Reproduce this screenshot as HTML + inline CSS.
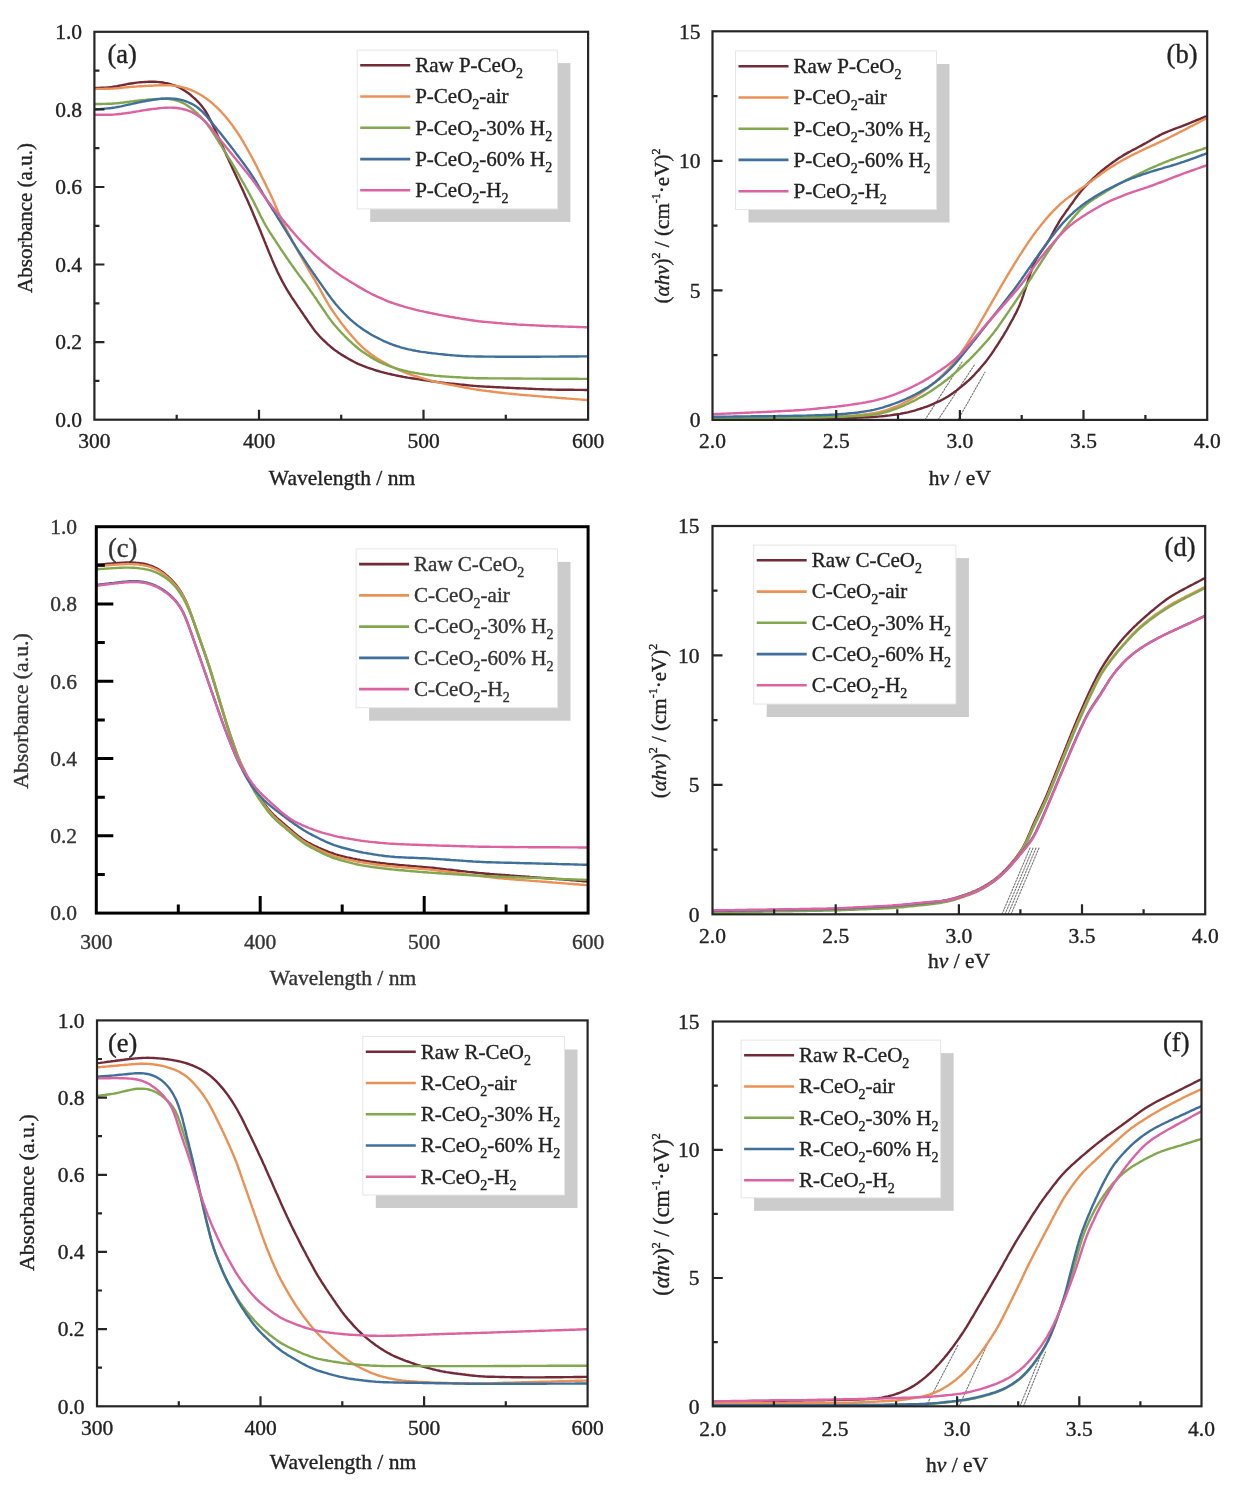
<!DOCTYPE html><html><head><meta charset="utf-8"><style>html,body{margin:0;padding:0;background:#fff;}svg{display:block;filter:blur(0.4px);}</style></head><body>
<svg width="1236" height="1488" viewBox="0 0 1236 1488" font-family='"Liberation Serif", serif'>
<style>text{stroke:currentColor;stroke-width:0.35px;}</style>
<rect width="1236" height="1488" fill="#fff"/>
<clipPath id="clipa"><rect x="94.4" y="31.8" width="493.7" height="387.9"/></clipPath>
<g clip-path="url(#clipa)" fill="none" stroke-width="2.4" stroke-linejoin="round" stroke-linecap="round">
<path d="M95.5,88.0L97.5,87.9L99.5,87.9L101.5,87.8L103.5,87.7L105.5,87.6L107.5,87.4L109.5,87.3L111.4,87.1L113.4,86.8L115.4,86.5L117.3,86.2L119.3,85.8L121.3,85.4L123.2,85.0L125.2,84.6L127.1,84.2L129.1,83.8L131.0,83.5L133.0,83.2L135.0,82.9L137.0,82.6L138.9,82.4L140.9,82.2L142.9,82.1L144.9,82.0L146.9,81.9L148.9,81.8L150.9,81.8L152.9,81.8L154.9,81.8L156.8,81.9L158.8,82.1L160.8,82.3L162.8,82.5L164.7,82.9L166.7,83.2L168.6,83.7L170.5,84.2L172.4,84.8L174.3,85.4L176.1,86.2L177.9,86.9L179.7,87.8L181.4,88.7L183.1,89.7L184.8,90.8L186.5,91.9L188.1,93.0L189.7,94.2L191.2,95.5L192.7,96.8L194.2,98.1L195.7,99.5L197.1,100.9L198.5,102.3L199.8,103.8L201.1,105.3L202.3,106.8L203.5,108.4L204.7,110.0L205.8,111.6L206.8,113.3L207.8,115.0L208.7,116.8L209.6,118.5L210.5,120.3L211.4,122.1L212.3,123.9L213.1,125.7L214.0,127.6L214.8,129.4L215.6,131.2L216.5,133.0L217.3,134.8L218.1,136.7L218.9,138.5L219.8,140.3L220.6,142.1L221.4,143.9L222.3,145.8L223.1,147.6L223.9,149.4L224.7,151.2L225.6,153.1L226.4,154.9L227.2,156.7L228.1,158.5L228.9,160.3L229.7,162.2L230.6,164.0L231.4,165.8L232.2,167.6L233.1,169.4L233.9,171.2L234.8,173.1L235.6,174.9L236.5,176.7L237.3,178.5L238.2,180.3L239.0,182.1L239.9,183.9L240.7,185.7L241.6,187.6L242.4,189.4L243.3,191.2L244.1,193.0L244.9,194.8L245.7,196.7L246.6,198.5L247.4,200.3L248.2,202.1L249.0,204.0L249.8,205.8L250.6,207.6L251.4,209.5L252.2,211.3L253.0,213.2L253.7,215.0L254.5,216.8L255.3,218.7L256.1,220.5L256.8,222.4L257.6,224.2L258.4,226.1L259.2,227.9L259.9,229.8L260.7,231.6L261.4,233.5L262.2,235.3L262.9,237.2L263.7,239.0L264.4,240.9L265.2,242.8L265.9,244.6L266.7,246.5L267.4,248.3L268.2,250.2L268.9,252.0L269.7,253.9L270.5,255.7L271.3,257.6L272.0,259.4L272.8,261.2L273.6,263.1L274.4,264.9L275.2,266.7L276.1,268.6L276.9,270.4L277.7,272.2L278.6,274.0L279.5,275.8L280.4,277.6L281.3,279.4L282.2,281.1L283.2,282.9L284.1,284.6L285.1,286.4L286.1,288.1L287.1,289.8L288.2,291.6L289.2,293.3L290.3,294.9L291.3,296.6L292.4,298.3L293.6,300.0L294.7,301.6L295.8,303.3L296.9,304.9L298.0,306.6L299.2,308.2L300.3,309.9L301.4,311.5L302.6,313.2L303.7,314.9L304.8,316.5L306.0,318.2L307.1,319.8L308.2,321.5L309.4,323.1L310.5,324.7L311.7,326.4L312.8,328.0L314.0,329.6L315.2,331.2L316.5,332.7L317.8,334.2L319.1,335.7L320.5,337.2L321.8,338.6L323.2,340.0L324.7,341.4L326.1,342.7L327.6,344.1L329.1,345.4L330.6,346.7L332.2,348.0L333.7,349.2L335.3,350.4L337.0,351.5L338.6,352.7L340.3,353.8L341.9,354.9L343.6,355.9L345.3,356.9L347.1,358.0L348.8,359.0L350.5,359.9L352.3,360.9L354.0,361.8L355.8,362.7L357.6,363.6L359.4,364.4L361.3,365.1L363.1,365.9L365.0,366.6L366.9,367.3L368.7,368.0L370.6,368.6L372.5,369.2L374.4,369.9L376.3,370.5L378.3,371.0L380.2,371.6L382.1,372.1L384.0,372.6L386.0,373.1L387.9,373.6L389.9,374.0L391.8,374.5L393.8,374.9L395.7,375.3L397.7,375.7L399.6,376.1L401.6,376.5L403.6,376.9L405.5,377.2L407.5,377.6L409.5,377.9L411.5,378.2L413.4,378.5L415.4,378.8L417.4,379.1L419.4,379.4L421.4,379.7L423.3,380.0L425.3,380.3L427.3,380.6L429.3,380.9L431.3,381.2L433.2,381.4L435.2,381.7L437.2,382.0L439.2,382.2L441.2,382.5L443.2,382.7L445.1,383.0L447.1,383.2L449.1,383.4L451.1,383.6L453.1,383.8L455.1,384.0L457.1,384.2L459.1,384.4L461.1,384.6L463.1,384.8L465.1,385.0L467.0,385.2L469.0,385.4L471.0,385.6L473.0,385.8L475.0,385.9L477.0,386.1L479.0,386.2L481.0,386.4L483.0,386.5L485.0,386.6L487.0,386.7L489.0,386.8L491.0,386.9L493.0,387.0L495.0,387.1L497.0,387.2L499.0,387.3L501.0,387.4L503.0,387.5L505.0,387.6L507.0,387.7L509.0,387.8L511.0,387.9L513.0,388.0L515.0,388.1L517.0,388.2L519.0,388.3L521.0,388.4L523.0,388.4L525.0,388.5L527.0,388.6L529.0,388.7L531.0,388.8L533.0,388.9L535.0,389.0L537.0,389.1L539.0,389.1L541.0,389.2L543.0,389.3L545.0,389.4L547.0,389.4L549.0,389.5L551.0,389.5L553.0,389.6L555.0,389.6L557.0,389.7L559.0,389.7L561.0,389.7L563.0,389.7L565.0,389.8L567.0,389.8L569.0,389.8L571.0,389.8L573.0,389.8L575.0,389.9L577.0,389.9L579.0,389.9L581.0,389.9L583.0,389.9L585.0,390.0L587.0,390.0L588.0,390.0" stroke="#722a36"/>
<path d="M95.5,88.9L97.5,88.9L99.5,88.9L101.5,88.9L103.5,88.9L105.5,88.8L107.5,88.8L109.5,88.7L111.5,88.6L113.5,88.5L115.5,88.4L117.5,88.2L119.5,88.0L121.5,87.8L123.5,87.6L125.5,87.4L127.4,87.2L129.4,87.1L131.4,86.9L133.4,86.7L135.4,86.6L137.4,86.4L139.4,86.3L141.4,86.2L143.4,86.1L145.4,86.0L147.4,85.9L149.4,85.8L151.4,85.7L153.4,85.6L155.4,85.5L157.4,85.4L159.4,85.3L161.4,85.3L163.4,85.2L165.4,85.2L167.4,85.2L169.4,85.3L171.4,85.4L173.3,85.6L175.3,85.8L177.3,86.1L179.2,86.5L181.1,86.9L183.1,87.4L185.0,88.0L186.9,88.5L188.8,89.2L190.6,89.9L192.5,90.7L194.3,91.5L196.1,92.3L197.8,93.2L199.6,94.2L201.3,95.2L203.0,96.3L204.6,97.4L206.3,98.5L207.9,99.7L209.4,100.9L211.0,102.2L212.5,103.4L214.0,104.8L215.5,106.1L216.9,107.5L218.4,108.9L219.8,110.3L221.2,111.7L222.5,113.2L223.9,114.7L225.2,116.2L226.4,117.7L227.7,119.3L228.9,120.8L230.2,122.4L231.4,124.0L232.6,125.6L233.7,127.2L234.9,128.9L236.0,130.5L237.2,132.1L238.3,133.8L239.3,135.5L240.4,137.2L241.4,138.9L242.5,140.6L243.5,142.3L244.5,144.1L245.5,145.8L246.5,147.5L247.5,149.3L248.5,151.0L249.4,152.8L250.4,154.5L251.4,156.3L252.3,158.0L253.3,159.8L254.2,161.6L255.1,163.4L256.0,165.1L256.9,166.9L257.8,168.7L258.7,170.5L259.6,172.3L260.5,174.1L261.4,175.9L262.3,177.7L263.2,179.5L264.1,181.3L265.0,183.1L265.9,184.9L266.7,186.7L267.6,188.5L268.5,190.3L269.4,192.1L270.2,193.9L271.1,195.7L271.9,197.5L272.7,199.3L273.6,201.2L274.4,203.0L275.1,204.8L275.9,206.7L276.7,208.5L277.5,210.4L278.3,212.2L279.1,214.0L279.9,215.9L280.7,217.7L281.5,219.5L282.3,221.3L283.2,223.1L284.1,224.9L285.0,226.7L285.9,228.5L286.8,230.3L287.7,232.1L288.6,233.9L289.5,235.6L290.5,237.4L291.4,239.2L292.4,241.0L293.3,242.7L294.3,244.5L295.2,246.2L296.2,248.0L297.1,249.7L298.1,251.5L299.1,253.2L300.1,255.0L301.1,256.7L302.1,258.5L303.1,260.2L304.1,261.9L305.1,263.7L306.1,265.4L307.1,267.1L308.1,268.9L309.1,270.6L310.1,272.3L311.2,274.0L312.2,275.8L313.2,277.5L314.2,279.2L315.2,280.9L316.2,282.7L317.2,284.4L318.2,286.1L319.2,287.9L320.2,289.6L321.1,291.4L322.1,293.2L323.0,294.9L324.0,296.7L325.0,298.4L326.0,300.1L327.0,301.9L328.0,303.6L329.0,305.3L330.1,307.0L331.2,308.7L332.3,310.3L333.4,312.0L334.6,313.6L335.7,315.3L336.9,316.9L338.1,318.5L339.2,320.1L340.4,321.8L341.6,323.4L342.8,325.0L344.0,326.5L345.3,328.1L346.5,329.7L347.8,331.2L349.0,332.8L350.3,334.3L351.6,335.8L353.0,337.3L354.3,338.8L355.6,340.3L357.0,341.8L358.4,343.2L359.8,344.6L361.2,346.0L362.6,347.4L364.1,348.7L365.6,350.0L367.2,351.3L368.8,352.5L370.3,353.7L372.0,354.9L373.6,356.0L375.2,357.2L376.9,358.3L378.6,359.3L380.3,360.4L382.0,361.4L383.7,362.4L385.5,363.3L387.3,364.3L389.0,365.2L390.8,366.1L392.6,367.0L394.4,367.9L396.2,368.7L398.0,369.5L399.9,370.3L401.7,371.1L403.6,371.9L405.4,372.6L407.3,373.3L409.2,374.0L411.1,374.6L413.0,375.3L414.9,375.9L416.8,376.5L418.7,377.1L420.6,377.7L422.5,378.2L424.4,378.8L426.4,379.3L428.3,379.8L430.2,380.3L432.2,380.8L434.1,381.3L436.1,381.8L438.0,382.2L440.0,382.6L441.9,383.1L443.9,383.5L445.9,383.9L447.8,384.3L449.8,384.7L451.7,385.0L453.7,385.4L455.7,385.8L457.6,386.2L459.6,386.6L461.6,386.9L463.5,387.3L465.5,387.7L467.5,388.0L469.5,388.4L471.4,388.8L473.4,389.1L475.4,389.4L477.4,389.7L479.3,390.0L481.3,390.3L483.3,390.6L485.3,390.8L487.3,391.1L489.3,391.3L491.2,391.5L493.2,391.8L495.2,392.0L497.2,392.3L499.2,392.5L501.2,392.7L503.2,392.9L505.2,393.2L507.2,393.4L509.2,393.6L511.1,393.8L513.1,394.0L515.1,394.2L517.1,394.4L519.1,394.6L521.1,394.8L523.1,394.9L525.1,395.1L527.1,395.3L529.1,395.4L531.1,395.6L533.1,395.8L535.1,395.9L537.1,396.1L539.1,396.3L541.1,396.4L543.1,396.6L545.1,396.8L547.1,396.9L549.1,397.1L551.1,397.2L553.1,397.4L555.1,397.5L557.0,397.7L559.0,397.9L561.0,398.0L563.0,398.2L565.0,398.3L567.0,398.5L569.0,398.6L571.0,398.8L573.0,398.9L575.0,399.1L577.0,399.3L579.0,399.4L581.0,399.6L583.0,399.7L585.0,399.9L587.0,400.0L588.0,400.1" stroke="#ea9256"/>
<path d="M95.5,104.0L97.5,104.0L99.5,104.0L101.5,104.0L103.5,103.9L105.5,103.9L107.5,103.8L109.5,103.8L111.5,103.7L113.5,103.5L115.5,103.4L117.4,103.2L119.4,103.0L121.4,102.7L123.4,102.5L125.4,102.2L127.4,101.9L129.3,101.7L131.3,101.4L133.3,101.2L135.3,100.9L137.3,100.7L139.3,100.5L141.3,100.3L143.3,100.1L145.2,99.9L147.2,99.7L149.2,99.5L151.2,99.4L153.2,99.2L155.2,99.1L157.2,99.0L159.2,98.9L161.2,98.8L163.2,98.8L165.2,98.8L167.1,98.9L169.1,99.1L171.1,99.3L173.0,99.6L174.9,100.0L176.8,100.5L178.6,101.1L180.4,101.8L182.2,102.6L184.0,103.5L185.7,104.5L187.3,105.5L189.0,106.7L190.6,107.8L192.1,109.0L193.7,110.3L195.2,111.6L196.7,112.9L198.1,114.3L199.6,115.7L201.0,117.1L202.3,118.5L203.7,120.0L205.0,121.5L206.2,123.1L207.4,124.6L208.6,126.2L209.8,127.9L210.9,129.5L212.0,131.2L213.1,132.8L214.2,134.5L215.3,136.2L216.3,137.9L217.4,139.6L218.4,141.3L219.5,143.0L220.6,144.7L221.6,146.4L222.7,148.1L223.7,149.8L224.8,151.5L225.8,153.2L226.9,154.9L227.9,156.6L229.0,158.3L230.0,160.0L231.1,161.7L232.1,163.4L233.1,165.1L234.2,166.9L235.2,168.6L236.2,170.3L237.2,172.1L238.2,173.8L239.2,175.5L240.1,177.3L241.1,179.0L242.1,180.8L243.1,182.5L244.1,184.2L245.1,186.0L246.0,187.7L247.0,189.5L248.0,191.2L248.9,193.0L249.9,194.7L250.8,196.5L251.8,198.3L252.7,200.0L253.6,201.8L254.5,203.6L255.4,205.4L256.3,207.2L257.2,209.0L258.1,210.8L259.0,212.6L259.9,214.4L260.7,216.2L261.6,217.9L262.6,219.7L263.5,221.5L264.5,223.2L265.4,225.0L266.4,226.7L267.5,228.4L268.5,230.1L269.6,231.8L270.6,233.5L271.7,235.2L272.8,236.9L273.9,238.5L275.0,240.2L276.1,241.9L277.2,243.6L278.3,245.2L279.4,246.9L280.5,248.6L281.6,250.2L282.7,251.9L283.9,253.5L285.0,255.2L286.1,256.8L287.2,258.5L288.4,260.1L289.5,261.8L290.7,263.4L291.8,265.1L293.0,266.7L294.1,268.3L295.3,270.0L296.5,271.6L297.7,273.2L298.8,274.8L300.0,276.4L301.2,278.0L302.4,279.6L303.6,281.2L304.8,282.8L306.0,284.4L307.2,286.1L308.3,287.7L309.5,289.3L310.6,291.0L311.8,292.6L312.9,294.2L314.0,295.9L315.2,297.5L316.3,299.2L317.4,300.9L318.5,302.5L319.7,304.2L320.8,305.8L321.9,307.5L323.0,309.1L324.2,310.8L325.3,312.4L326.4,314.1L327.6,315.7L328.7,317.4L329.9,319.0L331.1,320.6L332.3,322.2L333.5,323.7L334.8,325.3L336.1,326.8L337.4,328.3L338.7,329.8L340.1,331.2L341.4,332.7L342.8,334.1L344.2,335.5L345.6,337.0L347.1,338.4L348.5,339.8L349.9,341.2L351.4,342.5L352.8,343.9L354.3,345.2L355.8,346.5L357.4,347.8L358.9,349.0L360.5,350.2L362.2,351.4L363.8,352.5L365.4,353.6L367.1,354.7L368.8,355.8L370.5,356.9L372.2,357.9L373.9,358.9L375.6,359.9L377.4,360.9L379.1,361.8L380.9,362.6L382.7,363.5L384.6,364.2L386.4,365.0L388.3,365.7L390.1,366.4L392.0,367.1L393.9,367.7L395.8,368.3L397.7,368.9L399.6,369.5L401.6,370.0L403.5,370.5L405.4,370.9L407.4,371.4L409.3,371.8L411.3,372.2L413.2,372.5L415.2,372.9L417.2,373.2L419.2,373.6L421.1,373.9L423.1,374.2L425.1,374.5L427.1,374.7L429.1,375.0L431.0,375.2L433.0,375.4L435.0,375.7L437.0,375.9L439.0,376.0L441.0,376.2L443.0,376.4L445.0,376.5L447.0,376.6L449.0,376.8L451.0,376.9L453.0,377.0L455.0,377.1L457.0,377.2L459.0,377.3L461.0,377.4L463.0,377.6L465.0,377.7L467.0,377.8L469.0,377.9L471.0,377.9L473.0,378.0L474.9,378.1L476.9,378.2L478.9,378.2L480.9,378.3L482.9,378.3L484.9,378.3L487.0,378.3L489.0,378.4L491.0,378.4L493.0,378.4L495.0,378.4L497.0,378.4L499.0,378.4L501.0,378.4L503.0,378.4L505.0,378.5L507.0,378.5L509.0,378.5L511.0,378.5L513.0,378.5L515.0,378.5L517.0,378.5L519.0,378.5L521.0,378.5L523.0,378.6L525.0,378.6L527.0,378.6L529.0,378.6L531.0,378.6L533.0,378.6L535.0,378.6L537.0,378.6L539.0,378.6L541.0,378.6L543.0,378.7L545.0,378.7L547.0,378.7L549.0,378.7L551.0,378.7L553.0,378.7L555.0,378.7L557.0,378.7L559.0,378.7L561.0,378.8L563.0,378.8L565.0,378.8L567.0,378.8L569.0,378.8L571.0,378.8L573.0,378.8L575.0,378.8L577.0,378.8L579.0,378.9L581.0,378.9L583.0,378.9L585.0,378.9L587.0,378.9L588.0,378.9" stroke="#82a84e"/>
<path d="M95.5,109.3L97.5,109.2L99.5,109.1L101.5,108.9L103.5,108.8L105.5,108.6L107.5,108.4L109.4,108.2L111.4,108.0L113.4,107.7L115.4,107.4L117.3,107.0L119.3,106.7L121.2,106.3L123.2,105.8L125.1,105.4L127.1,104.9L129.0,104.5L131.0,104.1L132.9,103.6L134.9,103.2L136.8,102.8L138.8,102.4L140.8,102.0L142.7,101.6L144.7,101.2L146.6,100.8L148.6,100.5L150.6,100.2L152.6,99.9L154.5,99.6L156.5,99.3L158.5,99.1L160.5,98.9L162.5,98.7L164.5,98.6L166.4,98.5L168.4,98.5L170.4,98.5L172.4,98.6L174.3,98.7L176.3,99.0L178.3,99.3L180.2,99.7L182.1,100.1L184.0,100.7L185.9,101.3L187.7,102.0L189.5,102.8L191.3,103.6L193.0,104.5L194.7,105.6L196.3,106.6L197.9,107.8L199.4,109.0L200.9,110.3L202.3,111.7L203.7,113.1L205.1,114.6L206.4,116.0L207.7,117.6L208.9,119.1L210.2,120.6L211.5,122.2L212.7,123.7L214.0,125.3L215.2,126.9L216.5,128.4L217.7,130.0L219.0,131.5L220.3,133.1L221.5,134.6L222.8,136.2L224.0,137.8L225.2,139.3L226.5,140.9L227.7,142.5L228.9,144.1L230.2,145.7L231.4,147.3L232.6,148.8L233.8,150.4L235.0,152.0L236.2,153.6L237.4,155.2L238.6,156.8L239.8,158.4L241.0,160.0L242.2,161.6L243.4,163.2L244.6,164.8L245.8,166.5L247.0,168.1L248.1,169.7L249.3,171.3L250.4,173.0L251.5,174.6L252.6,176.3L253.7,178.0L254.7,179.7L255.8,181.4L256.8,183.1L257.8,184.8L258.8,186.6L259.8,188.3L260.8,190.0L261.8,191.7L262.8,193.5L263.8,195.2L264.9,196.9L265.9,198.6L266.9,200.4L268.0,202.1L269.0,203.8L270.1,205.4L271.2,207.1L272.2,208.8L273.3,210.5L274.4,212.2L275.5,213.9L276.6,215.6L277.6,217.3L278.7,219.0L279.7,220.6L280.8,222.3L281.8,224.1L282.9,225.8L283.9,227.5L285.0,229.2L286.0,230.9L287.0,232.6L288.1,234.3L289.1,236.0L290.2,237.7L291.2,239.4L292.2,241.1L293.3,242.8L294.4,244.5L295.4,246.2L296.5,247.9L297.6,249.6L298.7,251.3L299.8,253.0L300.9,254.6L302.0,256.3L303.1,258.0L304.2,259.6L305.3,261.3L306.4,263.0L307.5,264.6L308.6,266.3L309.7,267.9L310.9,269.6L312.0,271.2L313.1,272.9L314.3,274.5L315.4,276.2L316.6,277.8L317.7,279.5L318.9,281.1L320.0,282.7L321.2,284.4L322.3,286.0L323.5,287.6L324.6,289.3L325.8,290.9L326.9,292.5L328.1,294.2L329.3,295.8L330.5,297.4L331.7,299.0L332.9,300.6L334.1,302.1L335.4,303.7L336.7,305.2L338.0,306.7L339.3,308.2L340.7,309.7L342.0,311.1L343.4,312.6L344.8,314.0L346.2,315.4L347.6,316.8L349.0,318.2L350.5,319.6L352.0,320.9L353.5,322.2L355.1,323.4L356.6,324.7L358.2,325.9L359.8,327.1L361.4,328.2L363.1,329.4L364.7,330.5L366.4,331.6L368.1,332.6L369.8,333.7L371.5,334.7L373.3,335.7L375.0,336.6L376.8,337.5L378.5,338.4L380.3,339.3L382.1,340.2L383.9,341.1L385.7,341.9L387.6,342.7L389.4,343.5L391.3,344.2L393.1,344.9L395.0,345.5L396.9,346.1L398.8,346.7L400.7,347.3L402.7,347.8L404.6,348.3L406.5,348.8L408.5,349.3L410.4,349.7L412.4,350.2L414.3,350.5L416.3,350.9L418.2,351.2L420.2,351.6L422.2,351.9L424.2,352.1L426.2,352.4L428.1,352.7L430.1,352.9L432.1,353.2L434.1,353.4L436.1,353.6L438.1,353.9L440.1,354.1L442.0,354.3L444.0,354.5L446.0,354.7L448.0,354.9L450.0,355.1L452.0,355.3L454.0,355.4L456.0,355.6L458.0,355.7L460.0,355.9L462.0,356.0L464.0,356.1L466.0,356.2L468.0,356.3L470.0,356.4L472.0,356.4L474.0,356.4L476.0,356.5L478.0,356.5L480.0,356.5L482.0,356.5L484.0,356.6L486.0,356.6L488.0,356.6L490.0,356.6L492.0,356.6L494.0,356.6L496.0,356.7L498.0,356.7L500.0,356.7L502.0,356.7L504.0,356.7L506.0,356.7L508.0,356.7L510.0,356.8L512.0,356.8L514.0,356.8L516.0,356.8L518.0,356.8L520.0,356.8L522.0,356.7L524.0,356.7L526.0,356.7L528.0,356.7L530.0,356.7L532.0,356.7L534.0,356.7L536.0,356.7L538.0,356.7L540.0,356.7L542.0,356.6L544.0,356.6L546.0,356.6L548.0,356.6L550.0,356.6L552.0,356.6L554.0,356.6L556.0,356.6L558.0,356.6L560.0,356.5L562.0,356.5L564.0,356.5L566.0,356.5L568.0,356.5L570.0,356.5L572.0,356.5L574.0,356.5L576.0,356.5L578.0,356.5L580.0,356.4L582.0,356.4L584.0,356.4L586.0,356.4L588.0,356.4" stroke="#3e709b"/>
<path d="M95.5,114.7L97.5,114.7L99.5,114.8L101.5,114.8L103.5,114.8L105.5,114.8L107.5,114.8L109.5,114.7L111.5,114.7L113.5,114.6L115.5,114.4L117.4,114.2L119.4,114.0L121.4,113.8L123.4,113.5L125.4,113.3L127.4,113.0L129.3,112.7L131.3,112.4L133.3,112.0L135.3,111.7L137.2,111.4L139.2,111.1L141.2,110.7L143.2,110.4L145.1,110.1L147.1,109.8L149.1,109.5L151.1,109.2L153.0,108.9L155.0,108.7L157.0,108.5L159.0,108.2L161.0,108.1L163.0,107.9L165.0,107.8L167.0,107.7L168.9,107.6L170.9,107.6L172.9,107.7L174.9,107.8L176.9,108.0L178.8,108.2L180.8,108.6L182.7,109.0L184.6,109.5L186.5,110.0L188.3,110.7L190.2,111.4L192.0,112.2L193.7,113.1L195.4,114.0L197.1,115.1L198.7,116.2L200.3,117.4L201.9,118.6L203.3,119.9L204.8,121.2L206.2,122.6L207.5,124.1L208.9,125.6L210.1,127.1L211.4,128.6L212.7,130.2L213.9,131.8L215.1,133.3L216.4,134.9L217.6,136.5L218.9,138.0L220.1,139.6L221.4,141.2L222.6,142.7L223.9,144.3L225.1,145.8L226.4,147.4L227.6,148.9L228.9,150.5L230.1,152.1L231.4,153.6L232.7,155.2L233.9,156.7L235.2,158.3L236.4,159.8L237.7,161.4L239.0,162.9L240.2,164.5L241.5,166.0L242.8,167.6L244.1,169.1L245.3,170.7L246.6,172.2L247.8,173.8L249.1,175.4L250.3,176.9L251.5,178.5L252.7,180.1L253.9,181.7L255.1,183.3L256.2,185.0L257.4,186.6L258.5,188.3L259.7,189.9L260.8,191.5L262.0,193.2L263.1,194.8L264.3,196.4L265.4,198.1L266.6,199.7L267.8,201.3L269.0,202.9L270.3,204.4L271.5,206.0L272.7,207.6L274.0,209.1L275.3,210.7L276.5,212.2L277.8,213.8L279.1,215.3L280.3,216.9L281.6,218.4L282.9,220.0L284.1,221.5L285.4,223.1L286.7,224.6L288.0,226.1L289.3,227.7L290.5,229.2L291.8,230.7L293.1,232.3L294.4,233.8L295.7,235.3L297.1,236.8L298.4,238.3L299.8,239.7L301.1,241.2L302.5,242.7L303.9,244.1L305.3,245.5L306.7,246.9L308.1,248.4L309.5,249.8L310.9,251.2L312.4,252.6L313.8,254.0L315.3,255.3L316.7,256.7L318.2,258.0L319.7,259.4L321.2,260.7L322.8,262.0L324.3,263.2L325.8,264.5L327.4,265.8L329.0,267.0L330.5,268.2L332.1,269.4L333.7,270.6L335.3,271.8L337.0,273.0L338.6,274.1L340.2,275.3L341.9,276.4L343.6,277.5L345.3,278.5L347.0,279.6L348.7,280.7L350.4,281.7L352.1,282.8L353.8,283.8L355.5,284.8L357.2,285.9L358.9,286.9L360.6,287.9L362.4,288.9L364.1,289.9L365.8,290.9L367.6,291.8L369.4,292.8L371.1,293.7L372.9,294.6L374.7,295.4L376.5,296.3L378.4,297.1L380.2,297.9L382.0,298.7L383.8,299.5L385.7,300.3L387.5,301.1L389.4,301.8L391.3,302.5L393.1,303.2L395.0,303.8L396.9,304.4L398.8,305.0L400.7,305.6L402.7,306.2L404.6,306.8L406.5,307.3L408.4,307.9L410.4,308.4L412.3,308.9L414.2,309.4L416.2,309.9L418.1,310.3L420.1,310.8L422.0,311.2L424.0,311.7L425.9,312.1L427.9,312.5L429.8,312.9L431.8,313.3L433.8,313.7L435.7,314.1L437.7,314.5L439.6,314.9L441.6,315.3L443.6,315.6L445.5,316.0L447.5,316.3L449.5,316.7L451.5,317.0L453.4,317.3L455.4,317.7L457.4,318.0L459.4,318.3L461.3,318.7L463.3,319.0L465.3,319.3L467.3,319.6L469.2,319.9L471.2,320.2L473.2,320.5L475.2,320.8L477.2,321.0L479.1,321.3L481.1,321.5L483.1,321.7L485.1,321.9L487.1,322.1L489.1,322.3L491.1,322.4L493.1,322.6L495.1,322.8L497.1,323.0L499.1,323.1L501.1,323.3L503.0,323.5L505.0,323.6L507.0,323.8L509.0,323.9L511.0,324.1L513.0,324.2L515.0,324.3L517.0,324.5L519.0,324.6L521.0,324.7L523.0,324.8L525.0,324.9L527.0,325.0L529.0,325.1L531.0,325.2L533.0,325.3L535.0,325.4L537.0,325.5L539.0,325.6L541.0,325.7L543.0,325.8L545.0,325.9L547.0,326.0L549.0,326.0L551.0,326.1L553.0,326.2L555.0,326.3L557.0,326.3L559.0,326.4L561.0,326.5L563.0,326.5L565.0,326.6L567.0,326.6L569.0,326.7L571.0,326.8L573.0,326.8L575.0,326.9L577.0,327.0L579.0,327.0L581.0,327.1L583.0,327.1L585.0,327.2L587.0,327.3L588.0,327.3" stroke="#dc62a1"/>
</g>
<rect x="94.4" y="31.8" width="493.7" height="387.9" fill="none" stroke="#262626" stroke-width="2.2"/>
<path d="M259.0,419.7v-10.0 M423.5,419.7v-10.0 M176.7,419.7v-5.0 M341.2,419.7v-5.0 M505.8,419.7v-5.0 M94.4,342.1h10.0 M94.4,264.5h10.0 M94.4,187.0h10.0 M94.4,109.4h10.0 M94.4,380.9h5.0 M94.4,303.3h5.0 M94.4,225.8h5.0 M94.4,148.2h5.0 M94.4,70.6h5.0" stroke="#262626" stroke-width="2.2" fill="none"/>
<text x="94.4" y="448.3" font-size="21.5" text-anchor="middle" fill="#222" color="#222" >300</text>
<text x="259.0" y="448.3" font-size="21.5" text-anchor="middle" fill="#222" color="#222" >400</text>
<text x="423.5" y="448.3" font-size="21.5" text-anchor="middle" fill="#222" color="#222" >500</text>
<text x="588.1" y="448.3" font-size="21.5" text-anchor="middle" fill="#222" color="#222" >600</text>
<text x="82.0" y="426.9" font-size="21.5" text-anchor="end" fill="#222" color="#222" >0.0</text>
<text x="82.0" y="349.3" font-size="21.5" text-anchor="end" fill="#222" color="#222" >0.2</text>
<text x="82.0" y="271.7" font-size="21.5" text-anchor="end" fill="#222" color="#222" >0.4</text>
<text x="82.0" y="194.2" font-size="21.5" text-anchor="end" fill="#222" color="#222" >0.6</text>
<text x="82.0" y="116.6" font-size="21.5" text-anchor="end" fill="#222" color="#222" >0.8</text>
<text x="82.0" y="39.0" font-size="21.5" text-anchor="end" fill="#222" color="#222" >1.0</text>
<text x="342.0" y="485.0" font-size="21.5" text-anchor="middle" fill="#222" color="#222">Wavelength / nm</text>
<text transform="translate(31.5,218.0) rotate(-90)" x="0" y="0" font-size="21" text-anchor="middle" fill="#222" color="#222">Absorbance (a.u.)</text>
<text x="107.5" y="63.0" font-size="26.5" text-anchor="start" fill="#222" color="#222" >(a)</text>
<rect x="370.2" y="63.1" width="200.2" height="158.8" fill="#cccccc"/>
<rect x="357.2" y="50.1" width="200.2" height="158.8" fill="#fff" stroke="#e6e6e6" stroke-width="1"/>
<line x1="360.2" y1="65.3" x2="410.2" y2="65.3" stroke="#722a36" stroke-width="2.6"/>
<text x="415.2" y="72.1" font-size="21" text-anchor="start" fill="#222" color="#222" >Raw P-CeO<tspan font-size="14" dy="6">2</tspan><tspan dy="-6">​</tspan></text>
<line x1="360.2" y1="96.5" x2="410.2" y2="96.5" stroke="#ea9256" stroke-width="2.6"/>
<text x="415.2" y="103.3" font-size="21" text-anchor="start" fill="#222" color="#222" >P-CeO<tspan font-size="14" dy="6">2</tspan><tspan dy="-6">​</tspan>-air</text>
<line x1="360.2" y1="127.8" x2="410.2" y2="127.8" stroke="#82a84e" stroke-width="2.6"/>
<text x="415.2" y="134.6" font-size="21" text-anchor="start" fill="#222" color="#222" >P-CeO<tspan font-size="14" dy="6">2</tspan><tspan dy="-6">​</tspan>-30% H<tspan font-size="14" dy="6">2</tspan><tspan dy="-6">​</tspan></text>
<line x1="360.2" y1="159.1" x2="410.2" y2="159.1" stroke="#3e709b" stroke-width="2.6"/>
<text x="415.2" y="165.9" font-size="21" text-anchor="start" fill="#222" color="#222" >P-CeO<tspan font-size="14" dy="6">2</tspan><tspan dy="-6">​</tspan>-60% H<tspan font-size="14" dy="6">2</tspan><tspan dy="-6">​</tspan></text>
<line x1="360.2" y1="190.3" x2="410.2" y2="190.3" stroke="#dc62a1" stroke-width="2.6"/>
<text x="415.2" y="197.1" font-size="21" text-anchor="start" fill="#222" color="#222" >P-CeO<tspan font-size="14" dy="6">2</tspan><tspan dy="-6">​</tspan>-H<tspan font-size="14" dy="6">2</tspan><tspan dy="-6">​</tspan></text>
<clipPath id="clipb"><rect x="712.5" y="31.3" width="494.7" height="388.6"/></clipPath>
<g clip-path="url(#clipb)" fill="none" stroke-width="2.4" stroke-linejoin="round" stroke-linecap="round">
<line x1="925.0" y1="419.9" x2="962.0" y2="362.0" stroke="#777" stroke-width="1.1" stroke-dasharray="1.6,1.6"/>
<line x1="938.0" y1="419.9" x2="975.0" y2="364.0" stroke="#777" stroke-width="1.1" stroke-dasharray="1.6,1.6"/>
<line x1="958.0" y1="419.9" x2="985.0" y2="372.0" stroke="#777" stroke-width="1.1" stroke-dasharray="1.6,1.6"/>
<path d="M712.0,418.8L714.0,418.8L716.0,418.8L718.0,418.8L720.0,418.8L722.0,418.8L724.0,418.8L726.0,418.8L728.0,418.8L730.0,418.8L732.0,418.8L734.0,418.7L736.0,418.7L738.0,418.7L740.0,418.7L742.0,418.7L744.0,418.7L746.0,418.7L748.0,418.7L750.0,418.7L752.0,418.7L754.0,418.7L756.0,418.7L758.0,418.7L760.0,418.7L762.0,418.7L764.0,418.7L766.0,418.7L768.0,418.7L770.0,418.7L772.0,418.7L774.0,418.7L776.0,418.7L778.0,418.6L780.0,418.6L782.0,418.6L784.0,418.6L786.0,418.6L788.0,418.6L790.0,418.6L792.0,418.6L794.0,418.6L796.0,418.6L798.0,418.6L800.0,418.6L802.0,418.6L804.0,418.5L806.0,418.5L808.0,418.5L810.0,418.5L812.0,418.5L814.0,418.4L816.0,418.4L818.0,418.4L820.0,418.4L822.0,418.3L824.0,418.3L826.0,418.3L828.0,418.3L830.0,418.2L832.0,418.2L834.0,418.2L836.0,418.2L838.0,418.1L840.0,418.1L842.0,418.1L844.0,418.0L846.0,418.0L848.0,418.0L850.0,417.9L852.0,417.8L854.0,417.8L856.0,417.7L858.0,417.6L860.0,417.6L862.0,417.5L864.0,417.4L866.0,417.3L868.0,417.2L870.0,417.1L872.0,417.0L874.0,416.9L876.0,416.7L878.0,416.6L880.0,416.4L882.0,416.3L884.0,416.1L886.0,415.8L887.9,415.6L889.9,415.4L891.9,415.1L893.9,414.8L895.9,414.5L897.8,414.2L899.8,413.9L901.8,413.5L903.7,413.1L905.7,412.7L907.6,412.3L909.6,411.8L911.5,411.3L913.4,410.8L915.3,410.3L917.3,409.7L919.2,409.1L921.1,408.5L923.0,407.9L924.9,407.2L926.7,406.6L928.6,405.8L930.4,405.1L932.3,404.3L934.1,403.5L935.9,402.7L937.8,401.9L939.6,401.1L941.3,400.2L943.1,399.3L944.9,398.3L946.6,397.3L948.3,396.3L949.9,395.2L951.6,394.1L953.2,393.0L954.8,391.8L956.4,390.6L958.0,389.3L959.5,388.1L961.1,386.8L962.6,385.6L964.2,384.3L965.7,383.0L967.2,381.7L968.7,380.4L970.1,379.0L971.6,377.6L973.0,376.2L974.4,374.8L975.7,373.3L977.1,371.8L978.4,370.4L979.7,368.9L981.0,367.3L982.3,365.8L983.6,364.3L984.9,362.7L986.1,361.2L987.3,359.6L988.5,358.0L989.7,356.4L990.9,354.8L992.0,353.1L993.1,351.5L994.2,349.8L995.3,348.1L996.4,346.5L997.5,344.8L998.6,343.1L999.7,341.4L1000.8,339.7L1001.8,338.0L1002.9,336.3L1003.9,334.6L1004.9,332.9L1006.0,331.2L1007.0,329.5L1007.9,327.7L1008.9,326.0L1009.9,324.2L1010.8,322.5L1011.8,320.7L1012.8,319.0L1013.7,317.2L1014.6,315.4L1015.6,313.7L1016.5,311.9L1017.3,310.1L1018.2,308.3L1019.0,306.5L1019.8,304.7L1020.5,302.8L1021.3,300.9L1022.0,299.1L1022.6,297.2L1023.3,295.3L1023.9,293.4L1024.5,291.5L1025.2,289.6L1025.8,287.7L1026.4,285.8L1027.0,283.9L1027.6,282.0L1028.2,280.1L1028.8,278.2L1029.5,276.3L1030.1,274.4L1030.7,272.5L1031.4,270.6L1032.0,268.7L1032.7,266.9L1033.5,265.0L1034.3,263.2L1035.1,261.5L1036.0,259.7L1037.0,258.0L1038.0,256.3L1039.1,254.6L1040.2,253.0L1041.3,251.3L1042.5,249.7L1043.6,248.1L1044.7,246.5L1045.9,244.8L1047.0,243.1L1048.0,241.5L1049.1,239.8L1050.1,238.0L1051.1,236.3L1052.0,234.6L1053.0,232.8L1053.9,231.0L1054.8,229.3L1055.8,227.5L1056.8,225.8L1057.8,224.1L1058.8,222.3L1059.8,220.7L1060.9,219.0L1062.0,217.3L1063.2,215.7L1064.3,214.1L1065.5,212.4L1066.6,210.8L1067.8,209.2L1069.0,207.6L1070.1,205.9L1071.3,204.3L1072.5,202.7L1073.6,201.1L1074.8,199.4L1075.9,197.8L1077.1,196.2L1078.3,194.6L1079.6,193.1L1080.8,191.5L1082.1,190.0L1083.4,188.5L1084.8,187.0L1086.1,185.6L1087.5,184.1L1088.9,182.7L1090.3,181.3L1091.8,179.9L1093.2,178.5L1094.7,177.2L1096.2,175.8L1097.6,174.5L1099.1,173.1L1100.6,171.8L1102.2,170.5L1103.7,169.3L1105.2,168.0L1106.8,166.8L1108.4,165.6L1110.0,164.4L1111.6,163.2L1113.2,162.0L1114.9,160.9L1116.5,159.7L1118.2,158.6L1119.8,157.5L1121.5,156.5L1123.2,155.4L1124.9,154.4L1126.7,153.4L1128.4,152.4L1130.2,151.5L1131.9,150.5L1133.7,149.6L1135.5,148.7L1137.2,147.7L1139.0,146.8L1140.8,145.9L1142.5,144.9L1144.3,143.9L1146.0,143.0L1147.7,142.0L1149.5,141.0L1151.2,140.0L1152.9,139.0L1154.7,138.0L1156.4,137.0L1158.2,136.1L1159.9,135.1L1161.7,134.2L1163.5,133.4L1165.3,132.6L1167.1,131.8L1169.0,131.0L1170.8,130.3L1172.7,129.6L1174.6,128.9L1176.5,128.2L1178.3,127.5L1180.2,126.8L1182.1,126.1L1183.9,125.3L1185.8,124.6L1187.7,123.9L1189.5,123.1L1191.4,122.4L1193.2,121.6L1195.1,120.9L1196.9,120.1L1198.8,119.3L1200.6,118.6L1202.5,117.8L1204.3,117.0L1206.2,116.3L1208.0,115.5" stroke="#722a36"/>
<path d="M712.0,418.6L714.0,418.6L716.0,418.6L718.0,418.6L720.0,418.5L722.0,418.5L724.0,418.5L726.0,418.5L728.0,418.5L730.0,418.5L732.0,418.5L734.0,418.4L736.0,418.4L738.0,418.4L740.0,418.4L742.0,418.4L744.0,418.4L746.0,418.4L748.0,418.4L750.0,418.3L752.0,418.3L754.0,418.3L756.0,418.3L758.0,418.3L760.0,418.3L762.0,418.3L764.0,418.2L766.0,418.2L768.0,418.2L770.0,418.2L772.0,418.2L774.0,418.2L776.0,418.2L778.0,418.1L780.0,418.1L782.1,418.1L784.1,418.1L786.1,418.1L788.1,418.1L790.1,418.1L792.1,418.0L794.1,418.0L796.1,418.0L798.1,417.9L800.1,417.9L802.1,417.8L804.1,417.8L806.1,417.7L808.1,417.7L810.1,417.6L812.1,417.5L814.1,417.4L816.1,417.4L818.1,417.3L820.1,417.2L822.1,417.1L824.1,417.0L826.1,417.0L828.1,416.9L830.1,416.8L832.1,416.7L834.1,416.6L836.1,416.5L838.1,416.5L840.1,416.4L842.1,416.3L844.1,416.2L846.1,416.0L848.0,415.9L850.0,415.8L852.0,415.6L854.0,415.4L856.0,415.3L858.0,415.1L860.0,414.9L862.0,414.7L864.0,414.4L866.0,414.2L868.0,414.0L869.9,413.7L871.9,413.4L873.9,413.1L875.8,412.8L877.8,412.4L879.7,412.0L881.7,411.5L883.6,410.9L885.5,410.4L887.4,409.8L889.3,409.1L891.1,408.4L893.0,407.7L894.9,407.0L896.7,406.3L898.5,405.5L900.4,404.7L902.2,403.8L904.0,402.9L905.7,402.0L907.5,401.1L909.2,400.1L911.0,399.1L912.7,398.1L914.4,397.1L916.1,396.1L917.8,395.0L919.5,393.9L921.2,392.8L922.8,391.7L924.4,390.6L926.0,389.4L927.6,388.2L929.2,386.9L930.8,385.7L932.3,384.4L933.8,383.1L935.3,381.8L936.8,380.5L938.3,379.1L939.8,377.8L941.2,376.4L942.6,375.0L944.0,373.6L945.4,372.2L946.8,370.7L948.1,369.2L949.5,367.7L950.8,366.2L952.1,364.7L953.3,363.1L954.6,361.6L955.8,360.0L957.0,358.4L958.2,356.8L959.4,355.2L960.5,353.6L961.7,351.9L962.8,350.3L964.0,348.6L965.1,347.0L966.2,345.3L967.3,343.6L968.4,342.0L969.4,340.3L970.5,338.6L971.6,336.9L972.6,335.2L973.7,333.5L974.7,331.8L975.8,330.1L976.8,328.3L977.8,326.6L978.8,324.9L979.8,323.2L980.8,321.4L981.8,319.7L982.8,318.0L983.8,316.2L984.8,314.5L985.8,312.8L986.8,311.0L987.8,309.3L988.8,307.5L989.8,305.8L990.8,304.1L991.8,302.3L992.8,300.6L993.8,298.9L994.8,297.1L995.8,295.4L996.8,293.6L997.8,291.9L998.8,290.2L999.8,288.5L1000.8,286.7L1001.8,285.0L1002.8,283.3L1003.8,281.6L1004.8,279.8L1005.9,278.1L1006.9,276.4L1007.9,274.7L1009.0,273.0L1010.0,271.2L1011.0,269.5L1012.1,267.8L1013.1,266.1L1014.1,264.4L1015.2,262.7L1016.3,261.0L1017.3,259.3L1018.4,257.6L1019.5,255.9L1020.5,254.2L1021.6,252.6L1022.7,250.9L1023.8,249.2L1024.9,247.5L1026.0,245.9L1027.1,244.2L1028.2,242.5L1029.3,240.9L1030.5,239.2L1031.6,237.6L1032.8,235.9L1033.9,234.3L1035.1,232.7L1036.3,231.1L1037.6,229.5L1038.8,228.0L1040.0,226.4L1041.3,224.8L1042.5,223.3L1043.8,221.7L1045.0,220.2L1046.3,218.6L1047.6,217.1L1049.0,215.6L1050.3,214.1L1051.7,212.7L1053.0,211.2L1054.4,209.8L1055.8,208.4L1057.3,207.0L1058.7,205.6L1060.2,204.2L1061.6,202.9L1063.2,201.6L1064.7,200.3L1066.2,199.1L1067.8,197.9L1069.4,196.7L1071.0,195.5L1072.7,194.4L1074.3,193.2L1076.0,192.1L1077.6,191.0L1079.3,189.8L1080.9,188.7L1082.6,187.6L1084.2,186.4L1085.8,185.3L1087.5,184.1L1089.1,182.9L1090.7,181.7L1092.3,180.5L1093.9,179.3L1095.5,178.1L1097.1,176.9L1098.7,175.7L1100.3,174.5L1101.9,173.3L1103.5,172.2L1105.1,171.0L1106.8,169.9L1108.5,168.8L1110.1,167.7L1111.8,166.6L1113.5,165.6L1115.2,164.6L1116.9,163.5L1118.7,162.5L1120.4,161.5L1122.1,160.5L1123.9,159.5L1125.6,158.6L1127.4,157.6L1129.2,156.7L1131.0,155.8L1132.7,154.9L1134.5,154.0L1136.3,153.1L1138.1,152.2L1139.9,151.3L1141.7,150.5L1143.5,149.6L1145.3,148.7L1147.1,147.9L1149.0,147.1L1150.8,146.2L1152.6,145.4L1154.4,144.6L1156.2,143.7L1158.0,142.9L1159.9,142.0L1161.7,141.2L1163.5,140.3L1165.3,139.5L1167.1,138.6L1168.9,137.7L1170.7,136.8L1172.5,135.9L1174.3,135.0L1176.1,134.1L1177.8,133.2L1179.6,132.3L1181.4,131.4L1183.2,130.5L1185.0,129.6L1186.7,128.7L1188.5,127.8L1190.3,126.8L1192.1,125.9L1193.8,125.0L1195.6,124.0L1197.4,123.1L1199.1,122.2L1200.9,121.2L1202.7,120.3L1204.5,119.4L1206.2,118.4L1208.0,117.5" stroke="#ea9256"/>
<path d="M712.0,418.3L714.0,418.3L716.0,418.3L718.0,418.3L720.0,418.3L722.0,418.2L724.0,418.2L726.0,418.2L728.0,418.2L730.0,418.2L732.0,418.2L734.0,418.2L736.0,418.2L738.0,418.2L740.0,418.1L742.0,418.1L744.0,418.1L746.0,418.1L748.0,418.1L750.0,418.1L752.0,418.1L754.0,418.1L756.0,418.0L758.0,418.0L760.0,418.0L762.0,418.0L764.0,418.0L766.0,418.0L768.0,418.0L770.0,418.0L772.0,418.0L774.0,417.9L776.0,417.9L778.0,417.9L780.0,417.9L782.0,417.9L784.0,417.9L786.0,417.9L788.0,417.9L790.0,417.8L792.0,417.8L794.0,417.8L796.0,417.8L798.0,417.8L800.0,417.7L802.0,417.7L804.1,417.7L806.1,417.6L808.1,417.6L810.1,417.5L812.1,417.5L814.1,417.4L816.1,417.4L818.1,417.3L820.1,417.3L822.1,417.2L824.1,417.2L826.1,417.1L828.1,417.1L830.1,417.0L832.1,417.0L834.1,416.9L836.1,416.9L838.1,416.8L840.1,416.7L842.1,416.7L844.1,416.6L846.1,416.5L848.1,416.4L850.1,416.4L852.1,416.3L854.1,416.1L856.0,416.0L858.0,415.9L860.0,415.8L862.0,415.6L864.0,415.5L866.0,415.3L868.0,415.2L870.0,415.0L872.0,414.8L874.0,414.6L875.9,414.3L877.9,414.0L879.8,413.6L881.8,413.2L883.7,412.7L885.6,412.2L887.5,411.6L889.4,411.0L891.3,410.4L893.2,409.7L895.1,409.0L897.0,408.3L898.8,407.6L900.7,406.9L902.5,406.1L904.4,405.3L906.2,404.5L908.0,403.7L909.8,402.8L911.6,401.9L913.4,401.1L915.2,400.2L916.9,399.2L918.7,398.3L920.5,397.3L922.2,396.4L923.9,395.4L925.7,394.4L927.4,393.3L929.1,392.3L930.7,391.2L932.4,390.1L934.1,388.9L935.7,387.8L937.3,386.7L939.0,385.5L940.6,384.4L942.2,383.2L943.8,382.0L945.4,380.8L947.0,379.6L948.6,378.3L950.1,377.1L951.6,375.8L953.2,374.5L954.7,373.2L956.2,371.9L957.7,370.5L959.2,369.2L960.6,367.9L962.1,366.5L963.6,365.2L965.1,363.8L966.5,362.4L968.0,361.0L969.4,359.7L970.8,358.2L972.2,356.8L973.6,355.4L975.0,353.9L976.4,352.5L977.7,351.0L979.1,349.6L980.4,348.1L981.8,346.6L983.1,345.1L984.5,343.6L985.8,342.2L987.1,340.7L988.5,339.1L989.8,337.6L991.0,336.1L992.3,334.5L993.5,333.0L994.7,331.4L995.9,329.8L997.1,328.2L998.3,326.6L999.4,324.9L1000.6,323.3L1001.7,321.6L1002.8,320.0L1004.0,318.3L1005.1,316.7L1006.2,315.0L1007.4,313.4L1008.5,311.7L1009.6,310.1L1010.7,308.4L1011.9,306.8L1013.0,305.1L1014.1,303.5L1015.2,301.8L1016.4,300.1L1017.5,298.5L1018.6,296.8L1019.7,295.2L1020.9,293.5L1022.0,291.9L1023.1,290.2L1024.2,288.5L1025.3,286.9L1026.4,285.2L1027.5,283.5L1028.6,281.9L1029.7,280.2L1030.8,278.5L1031.9,276.8L1032.9,275.1L1034.0,273.4L1035.1,271.7L1036.1,270.0L1037.2,268.3L1038.3,266.6L1039.3,265.0L1040.4,263.3L1041.5,261.6L1042.6,259.9L1043.7,258.2L1044.8,256.6L1045.9,254.9L1047.0,253.2L1048.1,251.6L1049.2,249.9L1050.4,248.3L1051.5,246.6L1052.6,245.0L1053.8,243.3L1054.9,241.7L1056.1,240.0L1057.2,238.4L1058.4,236.8L1059.6,235.2L1060.8,233.6L1062.0,232.0L1063.2,230.4L1064.4,228.8L1065.6,227.2L1066.9,225.7L1068.1,224.1L1069.4,222.5L1070.6,221.0L1071.9,219.4L1073.2,217.9L1074.5,216.4L1075.8,214.8L1077.1,213.4L1078.4,211.9L1079.8,210.4L1081.2,209.0L1082.6,207.7L1084.1,206.3L1085.6,205.0L1087.2,203.8L1088.7,202.6L1090.3,201.5L1092.0,200.3L1093.6,199.2L1095.3,198.1L1097.0,197.1L1098.7,196.0L1100.4,195.0L1102.1,193.9L1103.8,192.9L1105.5,191.8L1107.2,190.8L1109.0,189.8L1110.7,188.8L1112.4,187.8L1114.1,186.8L1115.9,185.8L1117.6,184.8L1119.4,183.8L1121.1,182.9L1122.9,181.9L1124.7,181.0L1126.4,180.0L1128.2,179.1L1130.0,178.2L1131.8,177.3L1133.6,176.4L1135.4,175.5L1137.2,174.6L1139.0,173.8L1140.8,172.9L1142.6,172.1L1144.4,171.2L1146.2,170.4L1148.0,169.5L1149.8,168.7L1151.6,167.9L1153.5,167.1L1155.3,166.3L1157.2,165.5L1159.0,164.7L1160.9,164.0L1162.7,163.2L1164.6,162.4L1166.4,161.7L1168.3,161.0L1170.1,160.2L1172.0,159.5L1173.9,158.8L1175.8,158.1L1177.6,157.4L1179.5,156.8L1181.4,156.1L1183.3,155.4L1185.2,154.8L1187.1,154.2L1189.0,153.5L1190.9,152.9L1192.8,152.3L1194.7,151.7L1196.6,151.0L1198.5,150.4L1200.4,149.8L1202.3,149.2L1204.2,148.5L1206.1,147.9L1208.0,147.3" stroke="#82a84e"/>
<path d="M712.0,416.8L714.0,416.8L716.0,416.8L718.0,416.7L720.0,416.7L722.0,416.7L724.0,416.7L726.0,416.6L728.0,416.6L730.0,416.6L732.0,416.6L734.0,416.5L736.0,416.5L738.0,416.5L740.0,416.5L742.0,416.5L744.0,416.4L746.0,416.4L748.0,416.4L750.0,416.4L752.0,416.3L754.0,416.3L756.0,416.3L758.0,416.3L760.0,416.3L762.0,416.2L764.0,416.2L766.0,416.2L768.0,416.2L770.0,416.1L772.0,416.1L774.0,416.1L776.0,416.1L778.0,416.0L780.0,416.0L782.0,416.0L784.0,416.0L786.0,416.0L788.0,415.9L790.0,415.9L792.0,415.9L794.0,415.8L796.0,415.8L798.0,415.8L800.0,415.7L802.0,415.7L804.0,415.6L806.0,415.6L808.0,415.5L810.0,415.5L812.0,415.4L814.0,415.4L816.0,415.3L818.0,415.2L820.0,415.2L822.0,415.1L824.0,415.0L826.0,415.0L828.0,414.9L830.0,414.8L832.0,414.7L834.0,414.6L836.0,414.5L838.0,414.3L840.0,414.2L842.0,414.0L844.0,413.9L845.9,413.7L847.9,413.5L849.9,413.3L851.9,413.1L853.9,412.9L855.9,412.7L857.9,412.5L859.9,412.2L861.8,411.9L863.8,411.6L865.8,411.3L867.7,410.9L869.7,410.6L871.7,410.2L873.6,409.8L875.6,409.3L877.5,408.9L879.4,408.4L881.4,407.8L883.3,407.3L885.2,406.7L887.1,406.1L889.0,405.5L890.9,404.8L892.8,404.2L894.6,403.5L896.5,402.8L898.4,402.1L900.2,401.4L902.1,400.6L903.9,399.8L905.8,399.0L907.6,398.2L909.4,397.4L911.2,396.5L913.0,395.6L914.8,394.7L916.5,393.8L918.3,392.9L920.1,391.9L921.8,390.9L923.5,389.9L925.2,388.9L926.9,387.9L928.6,386.8L930.2,385.6L931.9,384.5L933.5,383.3L935.1,382.2L936.7,380.9L938.3,379.7L939.8,378.5L941.3,377.2L942.8,375.9L944.3,374.6L945.8,373.2L947.2,371.8L948.7,370.4L950.1,369.0L951.4,367.6L952.8,366.1L954.2,364.6L955.5,363.1L956.8,361.6L958.1,360.1L959.4,358.6L960.7,357.1L962.0,355.5L963.3,354.0L964.5,352.4L965.8,350.9L967.0,349.3L968.3,347.8L969.5,346.2L970.8,344.7L972.0,343.1L973.3,341.5L974.5,339.9L975.7,338.4L977.0,336.8L978.2,335.2L979.5,333.7L980.7,332.1L981.9,330.5L983.2,329.0L984.4,327.4L985.7,325.8L986.9,324.2L988.1,322.7L989.4,321.1L990.6,319.5L991.8,318.0L993.1,316.4L994.3,314.8L995.5,313.2L996.8,311.7L998.0,310.1L999.3,308.5L1000.5,306.9L1001.7,305.4L1003.0,303.8L1004.2,302.2L1005.4,300.7L1006.7,299.1L1007.9,297.5L1009.1,295.9L1010.4,294.4L1011.6,292.8L1012.8,291.2L1014.0,289.6L1015.2,288.0L1016.4,286.4L1017.6,284.8L1018.8,283.2L1019.9,281.5L1021.1,279.9L1022.2,278.2L1023.3,276.6L1024.5,275.0L1025.6,273.3L1026.7,271.7L1027.9,270.0L1029.0,268.4L1030.2,266.7L1031.3,265.1L1032.4,263.4L1033.6,261.8L1034.7,260.2L1035.9,258.5L1037.1,256.9L1038.2,255.3L1039.4,253.6L1040.5,252.0L1041.7,250.4L1042.9,248.8L1044.0,247.1L1045.2,245.5L1046.4,243.9L1047.6,242.3L1048.8,240.7L1050.0,239.1L1051.2,237.5L1052.4,235.9L1053.7,234.4L1054.9,232.8L1056.1,231.2L1057.4,229.7L1058.6,228.1L1059.9,226.6L1061.2,225.0L1062.5,223.5L1063.8,222.0L1065.2,220.6L1066.6,219.1L1068.0,217.7L1069.4,216.3L1070.8,214.9L1072.3,213.6L1073.8,212.2L1075.2,210.9L1076.8,209.6L1078.3,208.3L1079.8,207.1L1081.4,205.8L1083.0,204.6L1084.6,203.5L1086.2,202.3L1087.9,201.2L1089.5,200.1L1091.2,199.0L1092.9,197.9L1094.6,196.8L1096.3,195.8L1098.0,194.8L1099.7,193.8L1101.5,192.8L1103.2,191.8L1105.0,190.8L1106.7,189.9L1108.5,189.0L1110.3,188.1L1112.1,187.2L1113.9,186.3L1115.7,185.4L1117.5,184.5L1119.3,183.7L1121.1,182.8L1122.9,182.0L1124.7,181.2L1126.6,180.4L1128.4,179.7L1130.3,178.9L1132.1,178.2L1134.0,177.5L1135.9,176.8L1137.7,176.1L1139.6,175.5L1141.5,174.8L1143.4,174.2L1145.3,173.6L1147.2,172.9L1149.1,172.3L1151.0,171.7L1152.9,171.1L1154.8,170.5L1156.8,170.0L1158.7,169.4L1160.6,168.8L1162.5,168.3L1164.4,167.7L1166.4,167.2L1168.3,166.6L1170.2,166.1L1172.1,165.5L1174.0,164.9L1175.9,164.3L1177.8,163.7L1179.7,163.1L1181.6,162.4L1183.5,161.8L1185.4,161.1L1187.3,160.5L1189.2,159.8L1191.1,159.1L1193.0,158.5L1194.8,157.8L1196.7,157.1L1198.6,156.4L1200.5,155.7L1202.4,155.0L1204.2,154.4L1206.1,153.7L1208.0,153.0" stroke="#3e709b"/>
<path d="M712.0,414.2L714.0,414.1L716.0,414.0L718.0,414.0L720.0,413.9L722.0,413.8L724.0,413.7L726.0,413.6L728.0,413.5L730.0,413.5L732.0,413.4L734.0,413.3L736.0,413.2L738.0,413.1L740.0,413.0L742.0,413.0L744.0,412.9L746.0,412.8L748.0,412.7L750.0,412.6L752.0,412.5L754.0,412.4L756.0,412.4L758.0,412.3L760.0,412.2L762.0,412.1L764.0,412.0L766.0,411.9L768.0,411.8L770.0,411.7L772.0,411.6L774.0,411.5L776.0,411.4L777.9,411.3L779.9,411.2L781.9,411.1L783.9,411.0L785.9,410.9L787.9,410.8L789.9,410.7L791.9,410.6L793.9,410.5L795.9,410.3L797.9,410.2L799.9,410.1L801.9,409.9L803.9,409.8L805.9,409.6L807.9,409.4L809.9,409.3L811.9,409.1L813.9,408.9L815.9,408.7L817.8,408.5L819.8,408.3L821.8,408.1L823.8,407.9L825.8,407.7L827.8,407.5L829.8,407.3L831.8,407.1L833.8,406.9L835.8,406.7L837.7,406.4L839.7,406.2L841.7,406.0L843.7,405.7L845.7,405.4L847.7,405.2L849.6,404.9L851.6,404.6L853.6,404.3L855.6,404.0L857.6,403.7L859.5,403.4L861.5,403.1L863.5,402.7L865.4,402.4L867.4,402.0L869.4,401.6L871.3,401.3L873.3,400.8L875.2,400.4L877.2,399.9L879.1,399.4L881.0,398.9L882.9,398.4L884.9,397.8L886.8,397.2L888.7,396.6L890.5,395.9L892.4,395.3L894.3,394.6L896.2,393.9L898.0,393.2L899.9,392.4L901.7,391.7L903.6,390.9L905.4,390.1L907.2,389.3L909.0,388.4L910.8,387.6L912.6,386.7L914.4,385.8L916.2,384.9L918.0,384.0L919.8,383.0L921.5,382.1L923.3,381.1L925.0,380.1L926.7,379.1L928.4,378.1L930.1,377.0L931.8,376.0L933.5,374.9L935.2,373.8L936.8,372.7L938.5,371.6L940.2,370.5L941.8,369.3L943.4,368.2L945.1,367.0L946.7,365.9L948.3,364.7L949.9,363.5L951.4,362.2L953.0,361.0L954.5,359.7L956.0,358.3L957.4,357.0L958.9,355.6L960.3,354.2L961.7,352.8L963.1,351.3L964.4,349.9L965.8,348.4L967.1,346.9L968.4,345.4L969.7,343.9L971.0,342.4L972.3,340.9L973.6,339.3L974.9,337.8L976.2,336.3L977.5,334.7L978.8,333.2L980.1,331.7L981.4,330.2L982.7,328.6L984.0,327.1L985.3,325.6L986.6,324.1L987.9,322.6L989.3,321.1L990.6,319.6L991.9,318.1L993.2,316.6L994.5,315.1L995.9,313.6L997.2,312.1L998.5,310.6L999.9,309.1L1001.2,307.6L1002.5,306.1L1003.8,304.6L1005.2,303.1L1006.5,301.6L1007.8,300.1L1009.1,298.6L1010.5,297.1L1011.8,295.6L1013.1,294.1L1014.4,292.6L1015.7,291.1L1017.0,289.6L1018.3,288.1L1019.6,286.5L1020.8,285.0L1022.1,283.4L1023.3,281.8L1024.5,280.2L1025.6,278.6L1026.8,277.0L1028.0,275.3L1029.1,273.7L1030.2,272.1L1031.4,270.4L1032.5,268.8L1033.7,267.1L1034.8,265.5L1036.0,263.9L1037.2,262.3L1038.4,260.7L1039.6,259.1L1040.9,257.5L1042.1,256.0L1043.4,254.4L1044.6,252.9L1045.9,251.3L1047.2,249.8L1048.5,248.3L1049.7,246.7L1051.1,245.2L1052.4,243.7L1053.7,242.2L1055.0,240.7L1056.4,239.2L1057.7,237.7L1059.1,236.3L1060.4,234.8L1061.8,233.4L1063.2,232.0L1064.6,230.6L1066.1,229.2L1067.5,227.8L1069.0,226.5L1070.5,225.2L1072.1,224.0L1073.6,222.8L1075.2,221.6L1076.9,220.4L1078.5,219.3L1080.2,218.2L1081.8,217.1L1083.5,216.0L1085.2,214.9L1086.9,213.8L1088.6,212.8L1090.3,211.7L1092.0,210.7L1093.7,209.7L1095.4,208.7L1097.2,207.7L1098.9,206.7L1100.6,205.7L1102.4,204.8L1104.2,203.9L1106.0,203.0L1107.8,202.1L1109.6,201.2L1111.4,200.4L1113.2,199.6L1115.1,198.8L1116.9,198.1L1118.8,197.3L1120.6,196.6L1122.5,195.8L1124.3,195.1L1126.2,194.4L1128.1,193.7L1130.0,193.0L1131.8,192.4L1133.7,191.7L1135.6,191.1L1137.5,190.4L1139.4,189.8L1141.3,189.2L1143.2,188.6L1145.1,187.9L1147.0,187.3L1148.9,186.6L1150.8,186.0L1152.7,185.3L1154.6,184.6L1156.4,183.9L1158.3,183.2L1160.2,182.5L1162.0,181.8L1163.9,181.1L1165.8,180.3L1167.6,179.6L1169.5,178.9L1171.4,178.2L1173.2,177.4L1175.1,176.7L1177.0,176.0L1178.8,175.3L1180.7,174.6L1182.6,173.9L1184.5,173.2L1186.3,172.5L1188.2,171.9L1190.1,171.2L1192.0,170.5L1193.9,169.8L1195.8,169.2L1197.6,168.5L1199.5,167.8L1201.4,167.1L1203.3,166.5L1205.2,165.8L1207.1,165.1L1208.0,164.8" stroke="#dc62a1"/>
</g>
<rect x="712.5" y="31.3" width="494.7" height="388.6" fill="none" stroke="#262626" stroke-width="2.2"/>
<path d="M836.2,419.9v-10.0 M959.9,419.9v-10.0 M1083.5,419.9v-10.0 M774.3,419.9v-5.0 M898.0,419.9v-5.0 M1021.7,419.9v-5.0 M1145.4,419.9v-5.0 M712.5,290.4h10.0 M712.5,160.8h10.0 M712.5,355.1h5.0 M712.5,225.6h5.0 M712.5,96.1h5.0" stroke="#262626" stroke-width="2.2" fill="none"/>
<text x="712.5" y="448.3" font-size="21.5" text-anchor="middle" fill="#222" color="#222" >2.0</text>
<text x="836.2" y="448.3" font-size="21.5" text-anchor="middle" fill="#222" color="#222" >2.5</text>
<text x="959.9" y="448.3" font-size="21.5" text-anchor="middle" fill="#222" color="#222" >3.0</text>
<text x="1083.5" y="448.3" font-size="21.5" text-anchor="middle" fill="#222" color="#222" >3.5</text>
<text x="1207.2" y="448.3" font-size="21.5" text-anchor="middle" fill="#222" color="#222" >4.0</text>
<text x="700.5" y="427.1" font-size="21.5" text-anchor="end" fill="#222" color="#222" >0</text>
<text x="700.5" y="297.6" font-size="21.5" text-anchor="end" fill="#222" color="#222" >5</text>
<text x="700.5" y="168.0" font-size="21.5" text-anchor="end" fill="#222" color="#222" >10</text>
<text x="700.5" y="38.5" font-size="21.5" text-anchor="end" fill="#222" color="#222" >15</text>
<text x="959.9" y="484.5" font-size="21.5" text-anchor="middle" fill="#222" color="#222">h<tspan font-style="italic">ν</tspan> / eV</text>
<text transform="translate(669.0,226.0) rotate(-90)" x="0" y="0" font-size="21.1" text-anchor="middle" fill="#222" color="#222">(<tspan font-style="italic">αhν</tspan>)<tspan font-size="12" dy="-9">2</tspan><tspan dy="9"> / (cm</tspan><tspan font-size="12" dy="-9">-1</tspan><tspan dy="9">·eV)</tspan><tspan font-size="12" dy="-9">2</tspan></text>
<text x="1197.5" y="63.0" font-size="26.5" text-anchor="end" fill="#222" color="#222" >(b)</text>
<rect x="748.5" y="64.0" width="201.0" height="158.5" fill="#cccccc"/>
<rect x="735.5" y="51.0" width="201.0" height="158.5" fill="#fff" stroke="#e6e6e6" stroke-width="1"/>
<line x1="738.5" y1="66.2" x2="788.5" y2="66.2" stroke="#722a36" stroke-width="2.6"/>
<text x="793.5" y="73.0" font-size="21" text-anchor="start" fill="#222" color="#222" >Raw P-CeO<tspan font-size="14" dy="6">2</tspan><tspan dy="-6">​</tspan></text>
<line x1="738.5" y1="97.5" x2="788.5" y2="97.5" stroke="#ea9256" stroke-width="2.6"/>
<text x="793.5" y="104.2" font-size="21" text-anchor="start" fill="#222" color="#222" >P-CeO<tspan font-size="14" dy="6">2</tspan><tspan dy="-6">​</tspan>-air</text>
<line x1="738.5" y1="128.7" x2="788.5" y2="128.7" stroke="#82a84e" stroke-width="2.6"/>
<text x="793.5" y="135.5" font-size="21" text-anchor="start" fill="#222" color="#222" >P-CeO<tspan font-size="14" dy="6">2</tspan><tspan dy="-6">​</tspan>-30% H<tspan font-size="14" dy="6">2</tspan><tspan dy="-6">​</tspan></text>
<line x1="738.5" y1="159.9" x2="788.5" y2="159.9" stroke="#3e709b" stroke-width="2.6"/>
<text x="793.5" y="166.8" font-size="21" text-anchor="start" fill="#222" color="#222" >P-CeO<tspan font-size="14" dy="6">2</tspan><tspan dy="-6">​</tspan>-60% H<tspan font-size="14" dy="6">2</tspan><tspan dy="-6">​</tspan></text>
<line x1="738.5" y1="191.2" x2="788.5" y2="191.2" stroke="#dc62a1" stroke-width="2.6"/>
<text x="793.5" y="198.0" font-size="21" text-anchor="start" fill="#222" color="#222" >P-CeO<tspan font-size="14" dy="6">2</tspan><tspan dy="-6">​</tspan>-H<tspan font-size="14" dy="6">2</tspan><tspan dy="-6">​</tspan></text>
<clipPath id="clipc"><rect x="96.3" y="526.7" width="491.8" height="386.4"/></clipPath>
<g clip-path="url(#clipc)" fill="none" stroke-width="2.4" stroke-linejoin="round" stroke-linecap="round">
<path d="M96.0,564.9L98.0,564.7L100.0,564.5L102.0,564.4L104.0,564.2L106.0,564.0L108.0,563.8L110.0,563.7L112.0,563.5L114.0,563.3L115.9,563.2L117.9,563.0L119.9,562.9L121.9,562.7L123.9,562.6L125.9,562.5L127.9,562.5L129.9,562.5L131.9,562.5L133.9,562.6L135.9,562.8L137.8,562.9L139.8,563.2L141.8,563.5L143.7,563.8L145.7,564.2L147.6,564.7L149.4,565.3L151.3,565.9L153.1,566.7L154.9,567.5L156.7,568.4L158.4,569.3L160.1,570.4L161.7,571.5L163.3,572.6L164.9,573.8L166.4,575.1L167.9,576.4L169.4,577.8L170.8,579.2L172.2,580.6L173.5,582.0L174.8,583.5L176.1,585.1L177.3,586.6L178.5,588.2L179.6,589.9L180.7,591.5L181.7,593.2L182.7,595.0L183.7,596.7L184.6,598.5L185.5,600.3L186.3,602.1L187.1,603.9L187.8,605.8L188.6,607.6L189.3,609.5L190.0,611.4L190.6,613.2L191.3,615.1L192.0,617.0L192.7,618.9L193.3,620.8L194.0,622.7L194.7,624.6L195.3,626.4L196.0,628.3L196.7,630.2L197.3,632.1L198.0,634.0L198.7,635.9L199.3,637.8L200.0,639.7L200.6,641.6L201.3,643.4L202.0,645.3L202.6,647.2L203.3,649.1L204.0,651.0L204.6,652.9L205.3,654.8L205.9,656.7L206.6,658.6L207.2,660.5L207.8,662.4L208.5,664.3L209.1,666.2L209.7,668.1L210.3,670.0L210.9,671.9L211.5,673.8L212.1,675.7L212.6,677.7L213.2,679.6L213.8,681.5L214.4,683.4L215.0,685.3L215.5,687.2L216.1,689.2L216.7,691.1L217.3,693.0L217.8,694.9L218.4,696.8L219.0,698.7L219.6,700.7L220.1,702.6L220.7,704.5L221.3,706.4L221.9,708.3L222.5,710.3L223.0,712.2L223.6,714.1L224.2,716.0L224.8,717.9L225.4,719.8L225.9,721.7L226.5,723.7L227.1,725.6L227.8,727.5L228.4,729.4L229.0,731.3L229.6,733.2L230.3,735.1L230.9,737.0L231.6,738.9L232.2,740.8L232.9,742.6L233.5,744.5L234.2,746.4L234.9,748.3L235.6,750.2L236.2,752.1L236.9,754.0L237.6,755.8L238.4,757.7L239.1,759.5L239.9,761.4L240.7,763.2L241.5,765.0L242.4,766.8L243.3,768.6L244.2,770.4L245.1,772.2L246.0,774.0L246.9,775.8L247.8,777.5L248.7,779.3L249.6,781.1L250.6,782.9L251.5,784.6L252.5,786.4L253.5,788.1L254.5,789.8L255.6,791.5L256.6,793.2L257.7,794.9L258.9,796.5L260.0,798.1L261.2,799.8L262.4,801.4L263.6,802.9L264.8,804.5L266.1,806.1L267.3,807.7L268.6,809.2L269.9,810.7L271.2,812.2L272.5,813.6L273.9,815.1L275.4,816.5L276.8,817.8L278.3,819.1L279.8,820.4L281.3,821.7L282.8,823.0L284.4,824.3L285.9,825.6L287.4,826.9L288.9,828.2L290.4,829.5L292.0,830.8L293.5,832.1L295.0,833.4L296.6,834.7L298.1,835.9L299.7,837.1L301.3,838.3L302.9,839.4L304.6,840.5L306.3,841.5L308.0,842.5L309.8,843.4L311.5,844.3L313.3,845.2L315.1,846.1L316.9,846.9L318.8,847.8L320.6,848.6L322.4,849.4L324.3,850.2L326.1,850.9L328.0,851.7L329.8,852.4L331.7,853.0L333.6,853.7L335.5,854.3L337.4,854.8L339.3,855.4L341.3,855.9L343.2,856.4L345.1,856.8L347.1,857.3L349.0,857.7L351.0,858.1L352.9,858.6L354.9,859.0L356.9,859.4L358.8,859.7L360.8,860.1L362.8,860.4L364.7,860.8L366.7,861.1L368.7,861.4L370.7,861.7L372.7,861.9L374.6,862.2L376.6,862.5L378.6,862.7L380.6,863.0L382.6,863.2L384.6,863.4L386.6,863.7L388.6,863.9L390.6,864.1L392.5,864.3L394.5,864.5L396.5,864.7L398.5,864.9L400.5,865.1L402.5,865.2L404.5,865.4L406.5,865.6L408.5,865.7L410.5,865.9L412.5,866.1L414.5,866.2L416.5,866.4L418.5,866.6L420.5,866.7L422.5,866.9L424.5,867.1L426.5,867.3L428.4,867.4L430.4,867.6L432.4,867.8L434.4,868.0L436.4,868.3L438.4,868.5L440.4,868.7L442.4,868.9L444.4,869.1L446.4,869.4L448.4,869.6L450.3,869.8L452.3,870.0L454.3,870.3L456.3,870.5L458.3,870.7L460.3,871.0L462.3,871.2L464.3,871.4L466.3,871.6L468.3,871.9L470.2,872.1L472.2,872.3L474.2,872.5L476.2,872.7L478.2,872.9L480.2,873.1L482.2,873.3L484.2,873.5L486.2,873.7L488.2,873.8L490.2,874.0L492.2,874.1L494.2,874.3L496.2,874.4L498.2,874.6L500.2,874.7L502.1,874.9L504.1,875.0L506.1,875.2L508.1,875.3L510.1,875.5L512.1,875.6L514.1,875.8L516.1,875.9L518.1,876.1L520.1,876.2L522.1,876.4L524.1,876.5L526.1,876.7L528.1,876.8L530.1,877.0L532.1,877.1L534.1,877.3L536.1,877.4L538.1,877.6L540.1,877.7L542.1,877.9L544.1,878.0L546.1,878.2L548.1,878.3L550.1,878.5L552.1,878.7L554.1,878.8L556.1,879.0L558.1,879.1L560.1,879.3L562.0,879.4L564.0,879.6L566.0,879.8L568.0,879.9L570.0,880.1L572.0,880.2L574.0,880.4L576.0,880.6L578.0,880.7L580.0,880.9L582.0,881.0L584.0,881.2L586.0,881.3L588.0,881.5" stroke="#722a36"/>
<path d="M96.0,566.2L98.0,566.0L100.0,565.9L102.0,565.7L104.0,565.6L106.0,565.4L108.0,565.2L110.0,565.1L112.0,564.9L114.0,564.8L115.9,564.6L117.9,564.5L119.9,564.4L121.9,564.2L123.9,564.2L125.9,564.1L127.9,564.0L129.9,564.0L131.9,564.1L133.9,564.2L135.9,564.3L137.9,564.4L139.8,564.7L141.8,564.9L143.7,565.3L145.7,565.7L147.6,566.1L149.5,566.7L151.3,567.3L153.2,568.0L155.0,568.8L156.7,569.6L158.5,570.6L160.2,571.6L161.8,572.7L163.4,573.8L165.0,575.0L166.5,576.3L168.0,577.6L169.5,578.9L170.9,580.3L172.3,581.7L173.6,583.2L175.0,584.7L176.2,586.2L177.5,587.8L178.7,589.3L179.8,591.0L180.9,592.6L182.0,594.3L183.0,596.0L184.0,597.7L185.0,599.5L185.8,601.2L186.7,603.0L187.5,604.8L188.3,606.7L189.0,608.5L189.7,610.4L190.4,612.3L191.1,614.1L191.8,616.0L192.5,617.9L193.2,619.8L193.8,621.7L194.5,623.6L195.2,625.4L195.8,627.3L196.5,629.2L197.2,631.1L197.8,633.0L198.5,634.9L199.2,636.8L199.8,638.7L200.5,640.5L201.2,642.4L201.8,644.3L202.5,646.2L203.1,648.1L203.8,650.0L204.5,651.9L205.1,653.8L205.8,655.7L206.4,657.6L207.1,659.4L207.7,661.3L208.3,663.2L209.0,665.1L209.6,667.0L210.2,669.0L210.8,670.9L211.4,672.8L211.9,674.7L212.5,676.6L213.1,678.5L213.7,680.4L214.3,682.4L214.8,684.3L215.4,686.2L216.0,688.1L216.6,690.0L217.1,691.9L217.7,693.9L218.3,695.8L218.9,697.7L219.4,699.6L220.0,701.5L220.6,703.4L221.2,705.3L221.8,707.3L222.3,709.2L222.9,711.1L223.5,713.0L224.1,714.9L224.6,716.8L225.2,718.8L225.8,720.7L226.4,722.6L227.0,724.5L227.6,726.4L228.2,728.3L228.8,730.2L229.5,732.1L230.1,734.0L230.7,735.9L231.4,737.8L232.0,739.7L232.7,741.6L233.4,743.5L234.0,745.3L234.7,747.2L235.4,749.1L236.0,751.0L236.7,752.9L237.4,754.8L238.1,756.6L238.9,758.5L239.6,760.3L240.4,762.2L241.2,764.0L242.0,765.8L242.9,767.6L243.7,769.4L244.6,771.2L245.5,773.0L246.4,774.8L247.3,776.6L248.2,778.4L249.1,780.2L250.0,782.0L250.9,783.7L251.9,785.5L252.8,787.3L253.8,789.0L254.8,790.7L255.8,792.4L256.8,794.1L257.9,795.8L259.0,797.5L260.2,799.1L261.3,800.7L262.5,802.4L263.6,804.0L264.8,805.6L266.0,807.2L267.3,808.8L268.5,810.3L269.8,811.9L271.1,813.4L272.4,814.8L273.7,816.3L275.1,817.7L276.6,819.1L278.0,820.4L279.5,821.7L281.0,823.0L282.6,824.3L284.1,825.6L285.6,826.9L287.1,828.2L288.7,829.5L290.2,830.8L291.7,832.1L293.2,833.4L294.8,834.7L296.3,835.9L297.8,837.2L299.4,838.4L301.0,839.6L302.6,840.7L304.3,841.8L305.9,842.9L307.6,843.9L309.4,844.9L311.1,845.8L312.9,846.8L314.7,847.6L316.5,848.5L318.3,849.4L320.1,850.2L321.9,851.1L323.7,851.9L325.5,852.7L327.4,853.5L329.2,854.2L331.1,854.9L333.0,855.6L334.9,856.2L336.8,856.8L338.7,857.3L340.6,857.8L342.5,858.3L344.5,858.8L346.4,859.2L348.4,859.7L350.3,860.1L352.3,860.5L354.3,860.9L356.2,861.3L358.2,861.7L360.1,862.0L362.1,862.4L364.1,862.7L366.1,863.0L368.0,863.3L370.0,863.6L372.0,863.9L374.0,864.2L376.0,864.5L377.9,864.7L379.9,865.0L381.9,865.2L383.9,865.5L385.9,865.7L387.9,866.0L389.9,866.2L391.8,866.4L393.8,866.6L395.8,866.8L397.8,867.0L399.8,867.1L401.8,867.3L403.8,867.5L405.8,867.6L407.8,867.8L409.8,867.9L411.8,868.1L413.8,868.3L415.8,868.4L417.8,868.6L419.8,868.7L421.8,868.9L423.7,869.1L425.7,869.2L427.7,869.4L429.7,869.6L431.7,869.8L433.7,870.1L435.7,870.3L437.7,870.5L439.7,870.8L441.6,871.0L443.6,871.3L445.6,871.5L447.6,871.8L449.6,872.0L451.6,872.3L453.6,872.6L455.5,872.8L457.5,873.1L459.5,873.3L461.5,873.6L463.5,873.8L465.5,874.1L467.4,874.4L469.4,874.6L471.4,874.9L473.4,875.1L475.4,875.4L477.4,875.6L479.4,875.9L481.3,876.2L483.3,876.4L485.3,876.7L487.3,876.9L489.3,877.1L491.3,877.4L493.3,877.6L495.2,877.8L497.2,878.0L499.2,878.2L501.2,878.4L503.2,878.5L505.2,878.7L507.2,878.9L509.2,879.0L511.2,879.2L513.2,879.3L515.2,879.5L517.2,879.7L519.2,879.8L521.2,880.0L523.2,880.1L525.2,880.3L527.2,880.4L529.1,880.6L531.1,880.8L533.1,880.9L535.1,881.1L537.1,881.2L539.1,881.4L541.1,881.5L543.1,881.7L545.1,881.8L547.1,882.0L549.1,882.2L551.1,882.3L553.1,882.5L555.1,882.6L557.1,882.8L559.1,882.9L561.1,883.1L563.1,883.2L565.1,883.4L567.1,883.6L569.0,883.7L571.0,883.9L573.0,884.0L575.0,884.2L577.0,884.3L579.0,884.5L581.0,884.7L583.0,884.8L585.0,885.0L587.0,885.1L588.0,885.2" stroke="#ea9256"/>
<path d="M96.0,569.3L98.0,569.2L100.0,569.0L102.0,568.9L104.0,568.8L106.0,568.6L108.0,568.5L110.0,568.4L112.0,568.2L114.0,568.1L116.0,568.0L118.0,567.9L119.9,567.8L121.9,567.7L123.9,567.6L125.9,567.6L127.9,567.6L129.9,567.6L131.9,567.7L133.9,567.8L135.9,567.9L137.9,568.1L139.8,568.4L141.8,568.6L143.8,568.9L145.7,569.3L147.6,569.7L149.5,570.2L151.4,570.7L153.3,571.3L155.1,572.0L156.9,572.8L158.7,573.7L160.4,574.6L162.1,575.6L163.8,576.6L165.5,577.7L167.0,578.8L168.6,580.1L170.1,581.3L171.5,582.7L172.9,584.1L174.2,585.5L175.5,587.0L176.8,588.5L178.0,590.1L179.1,591.7L180.3,593.4L181.3,595.0L182.4,596.7L183.4,598.5L184.3,600.2L185.2,602.0L186.1,603.8L187.0,605.6L187.8,607.4L188.7,609.2L189.5,611.0L190.2,612.9L191.0,614.7L191.7,616.6L192.4,618.4L193.1,620.3L193.7,622.2L194.4,624.1L195.0,626.0L195.7,627.9L196.4,629.8L197.0,631.7L197.7,633.5L198.3,635.4L199.0,637.3L199.6,639.2L200.3,641.1L201.0,643.0L201.6,644.9L202.3,646.8L202.9,648.6L203.6,650.5L204.3,652.4L204.9,654.3L205.6,656.2L206.2,658.1L206.9,660.0L207.5,661.9L208.1,663.8L208.7,665.7L209.3,667.6L209.9,669.5L210.5,671.4L211.1,673.3L211.7,675.2L212.3,677.1L212.9,679.1L213.4,681.0L214.0,682.9L214.6,684.8L215.2,686.7L215.8,688.6L216.3,690.6L216.9,692.5L217.5,694.4L218.1,696.3L218.6,698.2L219.2,700.1L219.8,702.1L220.4,704.0L220.9,705.9L221.5,707.8L222.1,709.7L222.7,711.6L223.2,713.5L223.8,715.5L224.4,717.4L225.0,719.3L225.6,721.2L226.2,723.1L226.8,725.0L227.4,726.9L228.0,728.8L228.6,730.7L229.2,732.6L229.9,734.5L230.5,736.4L231.2,738.3L231.8,740.2L232.5,742.1L233.1,744.0L233.8,745.9L234.5,747.7L235.1,749.6L235.8,751.5L236.5,753.4L237.2,755.3L237.9,757.1L238.7,759.0L239.4,760.8L240.2,762.7L241.0,764.5L241.8,766.3L242.7,768.1L243.5,769.9L244.4,771.7L245.2,773.5L246.1,775.3L247.0,777.1L247.9,778.9L248.8,780.7L249.7,782.5L250.6,784.3L251.5,786.1L252.4,787.8L253.4,789.6L254.3,791.3L255.4,793.0L256.4,794.7L257.4,796.4L258.5,798.1L259.6,799.8L260.8,801.4L261.9,803.0L263.1,804.7L264.2,806.3L265.4,807.9L266.6,809.5L267.8,811.1L269.1,812.6L270.4,814.2L271.7,815.6L273.0,817.1L274.4,818.5L275.8,819.9L277.2,821.2L278.7,822.6L280.2,823.9L281.7,825.2L283.3,826.4L284.8,827.7L286.3,829.0L287.9,830.3L289.4,831.6L290.9,832.9L292.4,834.2L294.0,835.5L295.5,836.7L297.0,838.0L298.6,839.2L300.2,840.4L301.8,841.6L303.4,842.8L305.1,843.9L306.7,844.9L308.5,845.9L310.2,846.9L311.9,847.9L313.7,848.8L315.5,849.7L317.2,850.6L319.0,851.5L320.8,852.4L322.6,853.3L324.4,854.1L326.2,855.0L328.1,855.8L329.9,856.5L331.7,857.3L333.6,858.0L335.5,858.6L337.4,859.2L339.3,859.8L341.2,860.4L343.1,860.9L345.1,861.4L347.0,861.9L348.9,862.4L350.9,862.9L352.8,863.4L354.8,863.8L356.7,864.3L358.7,864.7L360.6,865.1L362.6,865.4L364.5,865.8L366.5,866.1L368.5,866.4L370.5,866.7L372.4,867.0L374.4,867.3L376.4,867.5L378.4,867.8L380.4,868.0L382.4,868.3L384.3,868.5L386.3,868.7L388.3,869.0L390.3,869.2L392.3,869.4L394.3,869.6L396.3,869.8L398.3,870.0L400.3,870.2L402.3,870.3L404.2,870.5L406.2,870.7L408.2,870.9L410.2,871.0L412.2,871.2L414.2,871.4L416.2,871.5L418.2,871.7L420.2,871.9L422.2,872.0L424.2,872.2L426.2,872.3L428.2,872.5L430.2,872.6L432.2,872.8L434.1,872.9L436.1,873.1L438.1,873.2L440.1,873.3L442.1,873.5L444.1,873.6L446.1,873.7L448.1,873.9L450.1,874.0L452.1,874.1L454.1,874.2L456.1,874.4L458.1,874.5L460.1,874.6L462.1,874.7L464.1,874.9L466.1,875.0L468.1,875.1L470.1,875.2L472.1,875.4L474.1,875.5L476.1,875.6L478.1,875.7L480.1,875.8L482.1,875.9L484.1,876.0L486.1,876.1L488.1,876.2L490.1,876.3L492.1,876.4L494.1,876.4L496.1,876.5L498.1,876.6L500.0,876.7L502.0,876.7L504.0,876.8L506.0,876.9L508.0,877.0L510.0,877.0L512.0,877.1L514.0,877.2L516.0,877.3L518.0,877.3L520.0,877.4L522.0,877.5L524.0,877.6L526.0,877.6L528.0,877.7L530.0,877.8L532.0,877.8L534.0,877.9L536.0,878.0L538.0,878.1L540.0,878.1L542.0,878.2L544.0,878.3L546.0,878.4L548.0,878.5L550.0,878.5L552.0,878.6L554.0,878.7L556.0,878.8L558.0,878.8L560.0,878.9L562.0,879.0L564.0,879.1L566.0,879.2L568.0,879.2L570.0,879.3L572.0,879.4L574.0,879.5L576.0,879.5L578.0,879.6L580.0,879.7L582.0,879.8L584.0,879.8L586.0,879.9L588.0,880.0" stroke="#82a84e"/>
<path d="M96.0,585.0L98.0,584.8L100.0,584.5L102.0,584.3L104.0,584.1L105.9,583.8L107.9,583.6L109.9,583.3L111.9,583.1L113.9,582.9L115.9,582.6L117.9,582.4L119.9,582.2L121.9,582.0L123.8,581.8L125.8,581.6L127.8,581.4L129.8,581.3L131.8,581.2L133.8,581.2L135.7,581.2L137.7,581.3L139.7,581.5L141.7,581.7L143.6,582.0L145.5,582.4L147.5,582.8L149.4,583.3L151.2,583.9L153.1,584.6L154.9,585.4L156.7,586.2L158.5,587.1L160.2,588.0L161.9,589.0L163.6,590.1L165.2,591.2L166.8,592.4L168.4,593.6L169.9,594.9L171.3,596.2L172.8,597.6L174.1,599.0L175.5,600.5L176.7,602.0L177.9,603.6L179.1,605.2L180.1,606.8L181.2,608.5L182.1,610.2L183.1,612.0L183.9,613.8L184.7,615.6L185.5,617.4L186.2,619.3L187.0,621.2L187.7,623.0L188.3,624.9L189.0,626.8L189.7,628.7L190.4,630.6L191.0,632.5L191.7,634.3L192.4,636.2L193.0,638.1L193.7,640.0L194.4,641.9L195.0,643.8L195.7,645.7L196.4,647.6L197.0,649.5L197.7,651.3L198.3,653.2L199.0,655.1L199.7,657.0L200.3,658.9L201.0,660.8L201.7,662.7L202.3,664.6L203.0,666.5L203.6,668.4L204.3,670.3L204.9,672.1L205.6,674.0L206.3,675.9L206.9,677.8L207.6,679.7L208.2,681.6L208.9,683.5L209.5,685.4L210.2,687.3L210.9,689.2L211.5,691.1L212.2,693.0L212.8,694.8L213.5,696.7L214.2,698.6L214.8,700.5L215.5,702.4L216.1,704.3L216.8,706.2L217.5,708.1L218.1,710.0L218.8,711.9L219.5,713.7L220.1,715.6L220.8,717.5L221.5,719.4L222.1,721.3L222.8,723.2L223.5,725.1L224.2,726.9L224.9,728.8L225.6,730.7L226.3,732.6L227.0,734.4L227.7,736.3L228.5,738.2L229.2,740.0L230.0,741.9L230.7,743.7L231.4,745.6L232.2,747.5L232.9,749.3L233.7,751.2L234.5,753.0L235.2,754.9L236.0,756.7L236.8,758.5L237.7,760.4L238.5,762.2L239.4,764.0L240.3,765.8L241.2,767.5L242.1,769.3L243.0,771.1L244.0,772.9L244.9,774.6L245.9,776.4L246.9,778.1L247.9,779.8L248.9,781.5L250.0,783.2L251.1,784.9L252.2,786.5L253.4,788.1L254.6,789.7L255.8,791.3L257.1,792.8L258.4,794.3L259.8,795.8L261.1,797.2L262.5,798.7L263.9,800.1L265.4,801.4L266.9,802.8L268.4,804.1L269.9,805.4L271.4,806.6L273.0,807.9L274.6,809.1L276.1,810.4L277.7,811.6L279.3,812.8L280.9,814.0L282.5,815.2L284.1,816.4L285.7,817.6L287.3,818.8L288.9,820.0L290.5,821.2L292.2,822.3L293.8,823.5L295.4,824.7L297.1,825.8L298.7,827.0L300.4,828.1L302.0,829.1L303.7,830.2L305.5,831.2L307.2,832.2L308.9,833.2L310.7,834.1L312.5,835.1L314.2,836.0L316.0,836.9L317.8,837.8L319.6,838.7L321.4,839.6L323.2,840.4L325.0,841.3L326.8,842.1L328.6,842.9L330.5,843.7L332.3,844.4L334.2,845.1L336.1,845.7L338.0,846.3L339.9,846.9L341.8,847.5L343.8,848.0L345.7,848.5L347.6,849.0L349.6,849.5L351.5,850.0L353.5,850.4L355.4,850.9L357.4,851.3L359.3,851.8L361.3,852.2L363.2,852.6L365.2,852.9L367.2,853.3L369.1,853.6L371.1,853.9L373.1,854.3L375.1,854.6L377.0,854.9L379.0,855.2L381.0,855.4L383.0,855.7L385.0,856.0L387.0,856.2L389.0,856.4L390.9,856.6L392.9,856.8L394.9,857.0L396.9,857.1L398.9,857.2L400.9,857.3L402.9,857.4L404.9,857.5L406.9,857.6L408.9,857.7L410.9,857.8L412.9,857.8L414.9,857.9L416.9,858.0L418.9,858.1L420.9,858.2L422.9,858.3L424.9,858.3L426.9,858.4L428.9,858.5L430.9,858.6L432.9,858.8L434.9,858.9L436.9,859.0L438.9,859.1L440.9,859.3L442.9,859.4L444.9,859.5L446.9,859.7L448.9,859.8L450.9,860.0L452.9,860.1L454.9,860.2L456.9,860.4L458.9,860.5L460.9,860.6L462.9,860.8L464.9,860.9L466.9,861.1L468.9,861.2L470.9,861.3L472.9,861.5L474.9,861.6L476.9,861.7L478.9,861.8L480.9,861.9L482.9,862.0L484.9,862.1L486.9,862.2L488.9,862.2L490.9,862.3L492.9,862.4L494.9,862.4L496.9,862.5L498.9,862.5L500.9,862.6L502.9,862.6L504.9,862.7L506.9,862.7L508.9,862.8L510.9,862.8L512.9,862.9L514.9,862.9L516.9,863.0L518.9,863.0L520.9,863.1L522.9,863.1L524.9,863.2L526.9,863.2L528.9,863.3L530.9,863.3L532.9,863.4L534.9,863.4L536.9,863.5L538.9,863.5L540.9,863.6L543.0,863.6L545.0,863.7L547.0,863.7L549.0,863.8L551.0,863.8L553.0,863.9L555.0,863.9L557.0,864.0L559.0,864.1L561.0,864.1L563.0,864.2L565.0,864.2L567.0,864.3L569.0,864.3L571.0,864.4L573.0,864.4L575.0,864.5L577.0,864.5L579.0,864.6L581.0,864.6L583.0,864.7L585.0,864.7L587.0,864.8L588.0,864.8" stroke="#3e709b"/>
<path d="M96.0,585.7L98.0,585.5L100.0,585.2L102.0,585.0L103.9,584.8L105.9,584.5L107.9,584.3L109.9,584.1L111.9,583.9L113.9,583.6L115.9,583.4L117.9,583.2L119.8,582.9L121.8,582.7L123.8,582.5L125.8,582.4L127.8,582.2L129.8,582.1L131.8,582.0L133.7,582.0L135.7,582.0L137.7,582.1L139.7,582.3L141.6,582.5L143.6,582.8L145.5,583.2L147.4,583.6L149.3,584.1L151.2,584.7L153.0,585.4L154.9,586.1L156.7,586.9L158.4,587.8L160.1,588.8L161.8,589.8L163.5,590.9L165.2,592.0L166.7,593.1L168.3,594.4L169.8,595.6L171.3,597.0L172.7,598.3L174.1,599.7L175.4,601.2L176.7,602.7L177.9,604.3L179.0,605.9L180.1,607.6L181.2,609.2L182.1,611.0L183.1,612.7L183.9,614.5L184.8,616.3L185.5,618.1L186.3,620.0L187.0,621.8L187.8,623.7L188.5,625.5L189.2,627.4L189.9,629.3L190.5,631.2L191.2,633.1L191.9,634.9L192.6,636.8L193.2,638.7L193.9,640.6L194.6,642.5L195.2,644.4L195.9,646.3L196.6,648.1L197.2,650.0L197.9,651.9L198.5,653.8L199.2,655.7L199.9,657.6L200.5,659.5L201.2,661.4L201.9,663.3L202.5,665.1L203.2,667.0L203.8,668.9L204.5,670.8L205.1,672.7L205.8,674.6L206.5,676.5L207.1,678.4L207.8,680.3L208.4,682.2L209.1,684.0L209.7,685.9L210.4,687.8L211.0,689.7L211.7,691.6L212.4,693.5L213.0,695.4L213.7,697.3L214.3,699.2L215.0,701.0L215.7,702.9L216.3,704.8L217.0,706.7L217.6,708.6L218.3,710.5L219.0,712.4L219.6,714.3L220.3,716.1L221.0,718.0L221.6,719.9L222.3,721.8L223.0,723.7L223.7,725.6L224.4,727.4L225.1,729.3L225.8,731.2L226.5,733.1L227.2,734.9L227.9,736.8L228.7,738.6L229.4,740.5L230.1,742.4L230.9,744.2L231.6,746.1L232.4,747.9L233.1,749.8L233.9,751.6L234.7,753.5L235.5,755.3L236.3,757.1L237.2,758.9L238.1,760.7L239.0,762.4L240.0,764.2L241.0,765.9L242.0,767.6L243.0,769.3L244.1,771.0L245.1,772.7L246.2,774.4L247.3,776.1L248.4,777.7L249.5,779.4L250.7,781.0L251.8,782.7L253.0,784.3L254.2,785.8L255.5,787.4L256.7,788.9L258.1,790.4L259.4,791.8L260.8,793.2L262.2,794.6L263.7,796.0L265.1,797.4L266.6,798.7L268.1,800.1L269.6,801.4L271.0,802.8L272.5,804.1L274.0,805.5L275.5,806.8L277.0,808.1L278.5,809.5L280.0,810.8L281.5,812.1L283.0,813.4L284.6,814.6L286.1,815.8L287.7,817.0L289.3,818.1L291.0,819.2L292.7,820.2L294.4,821.2L296.2,822.2L297.9,823.1L299.7,823.9L301.5,824.8L303.3,825.6L305.2,826.4L307.0,827.2L308.9,828.0L310.7,828.7L312.6,829.4L314.5,830.1L316.3,830.7L318.2,831.4L320.1,832.0L322.0,832.6L324.0,833.1L325.9,833.7L327.8,834.2L329.7,834.7L331.7,835.2L333.6,835.7L335.6,836.1L337.5,836.6L339.5,837.0L341.4,837.3L343.4,837.7L345.4,838.1L347.3,838.4L349.3,838.8L351.3,839.1L353.2,839.4L355.2,839.8L357.2,840.1L359.2,840.4L361.2,840.7L363.1,840.9L365.1,841.2L367.1,841.4L369.1,841.7L371.1,841.9L373.1,842.1L375.1,842.3L377.0,842.5L379.0,842.7L381.0,842.9L383.0,843.1L385.0,843.2L387.0,843.4L389.0,843.6L391.0,843.7L393.0,843.8L395.0,843.9L397.0,844.0L399.0,844.1L401.0,844.2L403.0,844.3L405.0,844.4L407.0,844.5L409.0,844.5L411.0,844.6L413.0,844.7L415.0,844.8L417.0,844.8L419.0,844.9L421.0,845.0L423.0,845.0L425.0,845.1L427.0,845.2L429.0,845.2L431.0,845.3L433.0,845.4L435.0,845.4L437.0,845.5L439.0,845.6L441.0,845.6L443.0,845.7L445.0,845.7L447.0,845.8L449.0,845.8L451.0,845.9L453.0,846.0L455.0,846.0L457.0,846.1L459.0,846.1L461.0,846.2L463.0,846.3L465.0,846.3L467.0,846.4L469.0,846.4L471.0,846.5L473.0,846.5L475.0,846.6L477.0,846.6L479.0,846.7L481.0,846.7L483.0,846.8L485.0,846.8L487.0,846.8L489.0,846.8L491.0,846.9L493.0,846.9L495.0,846.9L497.0,846.9L499.0,846.9L501.0,846.9L503.0,847.0L505.0,847.0L507.0,847.0L509.0,847.0L511.0,847.0L513.0,847.0L515.0,847.1L517.0,847.1L519.0,847.1L521.0,847.1L523.0,847.1L525.0,847.1L527.0,847.1L529.0,847.2L531.0,847.2L533.0,847.2L535.0,847.2L537.0,847.2L539.0,847.2L541.0,847.2L543.0,847.3L545.0,847.3L547.0,847.3L549.0,847.3L551.0,847.3L553.0,847.3L555.0,847.3L557.0,847.3L559.0,847.3L561.0,847.4L563.0,847.4L565.0,847.4L567.0,847.4L569.0,847.4L571.0,847.4L573.0,847.4L575.0,847.4L577.0,847.4L579.0,847.5L581.0,847.5L583.0,847.5L585.0,847.5L587.0,847.5L588.0,847.5" stroke="#dc62a1"/>
</g>
<rect x="96.3" y="526.7" width="491.8" height="386.4" fill="none" stroke="#000" stroke-width="3"/>
<path d="M260.2,913.1v-17.0 M424.2,913.1v-17.0 M178.3,913.1v-8.5 M342.2,913.1v-8.5 M506.1,913.1v-8.5 M96.3,835.8h17.0 M96.3,758.5h17.0 M96.3,681.3h17.0 M96.3,604.0h17.0 M96.3,874.5h8.5 M96.3,797.2h8.5 M96.3,719.9h8.5 M96.3,642.6h8.5 M96.3,565.3h8.5" stroke="#000" stroke-width="3" fill="none"/>
<text x="96.3" y="948.5" font-size="21.5" text-anchor="middle" fill="#333" color="#333" >300</text>
<text x="260.2" y="948.5" font-size="21.5" text-anchor="middle" fill="#333" color="#333" >400</text>
<text x="424.2" y="948.5" font-size="21.5" text-anchor="middle" fill="#333" color="#333" >500</text>
<text x="588.1" y="948.5" font-size="21.5" text-anchor="middle" fill="#333" color="#333" >600</text>
<text x="77.0" y="920.3" font-size="21.5" text-anchor="end" fill="#333" color="#333" >0.0</text>
<text x="77.0" y="843.0" font-size="21.5" text-anchor="end" fill="#333" color="#333" >0.2</text>
<text x="77.0" y="765.7" font-size="21.5" text-anchor="end" fill="#333" color="#333" >0.4</text>
<text x="77.0" y="688.5" font-size="21.5" text-anchor="end" fill="#333" color="#333" >0.6</text>
<text x="77.0" y="611.2" font-size="21.5" text-anchor="end" fill="#333" color="#333" >0.8</text>
<text x="77.0" y="533.9" font-size="21.5" text-anchor="end" fill="#333" color="#333" >1.0</text>
<text x="343.0" y="985.0" font-size="21.5" text-anchor="middle" fill="#333" color="#333">Wavelength / nm</text>
<text transform="translate(27.5,711.0) rotate(-90)" x="0" y="0" font-size="21.8" text-anchor="middle" fill="#333" color="#333">Absorbance (a.u.)</text>
<text x="108.0" y="557.0" font-size="26.5" text-anchor="start" fill="#333" color="#333" >(c)</text>
<rect x="369.1" y="561.9" width="201.4" height="158.8" fill="#cccccc"/>
<rect x="356.1" y="548.9" width="201.4" height="158.8" fill="#fff" stroke="#e6e6e6" stroke-width="1"/>
<line x1="359.1" y1="564.1" x2="409.1" y2="564.1" stroke="#722a36" stroke-width="2.6"/>
<text x="414.1" y="570.9" font-size="21" text-anchor="start" fill="#333" color="#333" >Raw C-CeO<tspan font-size="14" dy="6">2</tspan><tspan dy="-6">​</tspan></text>
<line x1="359.1" y1="595.4" x2="409.1" y2="595.4" stroke="#ea9256" stroke-width="2.6"/>
<text x="414.1" y="602.1" font-size="21" text-anchor="start" fill="#333" color="#333" >C-CeO<tspan font-size="14" dy="6">2</tspan><tspan dy="-6">​</tspan>-air</text>
<line x1="359.1" y1="626.6" x2="409.1" y2="626.6" stroke="#82a84e" stroke-width="2.6"/>
<text x="414.1" y="633.4" font-size="21" text-anchor="start" fill="#333" color="#333" >C-CeO<tspan font-size="14" dy="6">2</tspan><tspan dy="-6">​</tspan>-30% H<tspan font-size="14" dy="6">2</tspan><tspan dy="-6">​</tspan></text>
<line x1="359.1" y1="657.9" x2="409.1" y2="657.9" stroke="#3e709b" stroke-width="2.6"/>
<text x="414.1" y="664.6" font-size="21" text-anchor="start" fill="#333" color="#333" >C-CeO<tspan font-size="14" dy="6">2</tspan><tspan dy="-6">​</tspan>-60% H<tspan font-size="14" dy="6">2</tspan><tspan dy="-6">​</tspan></text>
<line x1="359.1" y1="689.1" x2="409.1" y2="689.1" stroke="#dc62a1" stroke-width="2.6"/>
<text x="414.1" y="695.9" font-size="21" text-anchor="start" fill="#333" color="#333" >C-CeO<tspan font-size="14" dy="6">2</tspan><tspan dy="-6">​</tspan>-H<tspan font-size="14" dy="6">2</tspan><tspan dy="-6">​</tspan></text>
<clipPath id="clipd"><rect x="712.5" y="526.0" width="492.7" height="388.3"/></clipPath>
<g clip-path="url(#clipd)" fill="none" stroke-width="2.4" stroke-linejoin="round" stroke-linecap="round">
<line x1="1002.0" y1="914.3" x2="1030.0" y2="848.0" stroke="#777" stroke-width="1.1" stroke-dasharray="1.6,1.6"/>
<line x1="1005.0" y1="914.3" x2="1033.0" y2="848.0" stroke="#777" stroke-width="1.1" stroke-dasharray="1.6,1.6"/>
<line x1="1008.0" y1="914.3" x2="1036.0" y2="848.0" stroke="#777" stroke-width="1.1" stroke-dasharray="1.6,1.6"/>
<line x1="1011.0" y1="914.3" x2="1039.0" y2="848.0" stroke="#777" stroke-width="1.1" stroke-dasharray="1.6,1.6"/>
<path d="M712.0,911.6L714.0,911.6L716.0,911.5L718.0,911.5L720.0,911.4L722.0,911.4L724.0,911.4L726.0,911.3L728.0,911.3L730.0,911.2L732.0,911.2L734.0,911.2L736.0,911.1L738.0,911.1L740.0,911.0L742.0,911.0L744.0,911.0L746.0,910.9L748.0,910.9L750.0,910.8L752.0,910.8L754.0,910.8L756.0,910.7L758.0,910.7L760.0,910.7L762.0,910.6L764.0,910.6L766.0,910.5L768.0,910.5L770.1,910.5L772.1,910.4L774.1,910.4L776.1,910.3L778.1,910.3L780.1,910.3L782.1,910.2L784.1,910.2L786.1,910.1L788.1,910.1L790.1,910.1L792.1,910.0L794.1,910.0L796.1,909.9L798.1,909.9L800.1,909.9L802.1,909.8L804.1,909.8L806.1,909.7L808.1,909.7L810.1,909.7L812.1,909.6L814.1,909.6L816.1,909.5L818.1,909.5L820.1,909.5L822.1,909.4L824.1,909.4L826.1,909.3L828.1,909.3L830.1,909.2L832.1,909.2L834.1,909.1L836.1,909.0L838.1,908.9L840.1,908.9L842.1,908.8L844.1,908.7L846.1,908.6L848.1,908.5L850.1,908.4L852.1,908.3L854.1,908.2L856.1,908.1L858.1,908.0L860.1,907.9L862.1,907.8L864.1,907.7L866.1,907.6L868.1,907.5L870.1,907.4L872.1,907.3L874.1,907.3L876.1,907.2L878.1,907.1L880.1,907.0L882.1,906.9L884.1,906.8L886.1,906.6L888.1,906.5L890.1,906.4L892.1,906.3L894.1,906.1L896.1,906.0L898.1,905.8L900.1,905.6L902.1,905.5L904.1,905.3L906.1,905.1L908.0,904.9L910.0,904.7L912.0,904.5L914.0,904.3L916.0,904.1L918.0,903.9L920.0,903.7L922.0,903.5L924.0,903.3L926.0,903.1L928.0,902.9L930.0,902.7L931.9,902.4L933.9,902.2L935.9,901.9L937.9,901.7L939.9,901.4L941.8,901.1L943.8,900.7L945.8,900.3L947.7,899.9L949.7,899.5L951.6,899.0L953.5,898.5L955.4,897.9L957.4,897.3L959.3,896.7L961.2,896.1L963.1,895.5L964.9,894.8L966.8,894.2L968.7,893.5L970.6,892.8L972.4,892.0L974.3,891.3L976.1,890.5L977.9,889.6L979.7,888.8L981.4,887.8L983.2,886.9L984.9,885.9L986.6,884.9L988.3,883.8L990.0,882.7L991.6,881.6L993.3,880.5L994.9,879.3L996.4,878.1L998.0,876.8L999.5,875.5L1000.9,874.2L1002.4,872.8L1003.8,871.4L1005.2,870.0L1006.6,868.6L1008.0,867.1L1009.3,865.6L1010.7,864.1L1012.0,862.6L1013.2,861.1L1014.5,859.5L1015.7,857.9L1016.9,856.4L1018.1,854.7L1019.2,853.1L1020.4,851.5L1021.4,849.8L1022.5,848.1L1023.5,846.4L1024.4,844.6L1025.3,842.9L1026.2,841.1L1027.0,839.3L1027.8,837.4L1028.6,835.6L1029.4,833.8L1030.2,831.9L1031.0,830.1L1031.7,828.2L1032.5,826.4L1033.3,824.6L1034.1,822.7L1035.0,820.9L1035.8,819.1L1036.6,817.3L1037.5,815.5L1038.3,813.6L1039.1,811.8L1040.0,810.0L1040.8,808.2L1041.7,806.4L1042.5,804.6L1043.3,802.7L1044.2,800.9L1045.0,799.1L1045.8,797.3L1046.6,795.4L1047.4,793.6L1048.1,791.7L1048.9,789.9L1049.6,788.0L1050.4,786.2L1051.1,784.3L1051.9,782.5L1052.6,780.6L1053.4,778.7L1054.1,776.9L1054.9,775.0L1055.6,773.2L1056.3,771.3L1057.1,769.4L1057.8,767.6L1058.6,765.7L1059.3,763.9L1060.0,762.0L1060.8,760.1L1061.5,758.3L1062.3,756.4L1063.0,754.6L1063.8,752.7L1064.5,750.8L1065.2,749.0L1066.0,747.1L1066.7,745.3L1067.5,743.4L1068.2,741.5L1069.0,739.7L1069.7,737.8L1070.5,736.0L1071.2,734.1L1072.0,732.3L1072.7,730.4L1073.5,728.5L1074.2,726.7L1075.0,724.8L1075.8,723.0L1076.5,721.2L1077.3,719.3L1078.1,717.5L1078.9,715.6L1079.7,713.8L1080.5,712.0L1081.3,710.1L1082.1,708.3L1082.9,706.5L1083.7,704.6L1084.5,702.8L1085.3,701.0L1086.1,699.1L1087.0,697.3L1087.8,695.5L1088.6,693.7L1089.5,691.9L1090.3,690.0L1091.2,688.2L1092.1,686.4L1093.0,684.6L1093.8,682.8L1094.7,681.1L1095.6,679.3L1096.5,677.5L1097.4,675.7L1098.4,673.9L1099.3,672.2L1100.3,670.4L1101.3,668.7L1102.3,667.0L1103.3,665.3L1104.4,663.6L1105.5,661.9L1106.6,660.2L1107.7,658.6L1108.8,656.9L1110.0,655.3L1111.1,653.7L1112.3,652.0L1113.5,650.4L1114.7,648.8L1116.0,647.3L1117.2,645.7L1118.4,644.1L1119.7,642.6L1121.0,641.0L1122.3,639.5L1123.6,638.0L1124.9,636.5L1126.3,635.0L1127.6,633.6L1129.0,632.1L1130.4,630.7L1131.8,629.3L1133.2,627.8L1134.6,626.4L1136.1,625.1L1137.5,623.7L1139.0,622.3L1140.5,621.0L1142.0,619.6L1143.4,618.3L1144.9,617.0L1146.5,615.6L1148.0,614.3L1149.5,613.0L1151.0,611.7L1152.5,610.5L1154.1,609.2L1155.6,607.9L1157.2,606.6L1158.7,605.4L1160.3,604.1L1161.9,602.9L1163.5,601.7L1165.1,600.5L1166.7,599.3L1168.3,598.2L1170.0,597.1L1171.7,596.0L1173.4,595.0L1175.1,594.0L1176.8,593.0L1178.6,592.0L1180.3,591.0L1182.1,590.1L1183.8,589.1L1185.6,588.2L1187.4,587.3L1189.2,586.3L1190.9,585.4L1192.7,584.5L1194.5,583.5L1196.2,582.6L1198.0,581.7L1199.8,580.8L1201.6,579.8L1203.3,578.9L1205.1,578.0L1206.0,577.5" stroke="#722a36"/>
<path d="M712.0,912.0L714.0,912.0L716.0,911.9L718.0,911.9L720.0,911.8L722.0,911.8L724.0,911.8L726.0,911.7L728.0,911.7L730.0,911.6L732.0,911.6L734.0,911.5L736.0,911.5L738.0,911.5L740.0,911.4L742.0,911.4L744.0,911.3L746.0,911.3L748.0,911.3L750.0,911.2L752.0,911.2L754.0,911.1L756.0,911.1L758.0,911.1L760.0,911.0L762.0,911.0L764.0,910.9L766.0,910.9L768.0,910.8L770.0,910.8L772.0,910.8L774.0,910.7L776.0,910.7L778.0,910.6L780.0,910.6L782.0,910.6L784.0,910.5L786.0,910.5L788.0,910.4L790.0,910.4L792.0,910.4L794.0,910.3L796.0,910.3L798.0,910.2L800.0,910.2L802.0,910.1L804.0,910.1L806.0,910.1L808.0,910.0L810.0,910.0L812.0,909.9L814.0,909.9L816.0,909.9L818.0,909.8L820.0,909.8L822.0,909.7L824.0,909.7L826.0,909.6L828.0,909.6L830.0,909.5L832.0,909.5L834.0,909.4L836.0,909.3L838.0,909.2L840.0,909.1L842.0,909.1L844.0,909.0L846.0,908.9L848.0,908.8L850.0,908.7L852.0,908.6L854.0,908.5L856.0,908.4L858.0,908.3L860.0,908.2L862.0,908.1L864.0,908.0L866.0,907.9L868.0,907.8L870.0,907.7L871.9,907.6L873.9,907.5L875.9,907.4L877.9,907.3L879.9,907.2L881.9,907.1L883.9,907.0L885.9,906.9L887.9,906.8L889.9,906.6L891.9,906.5L893.9,906.4L895.9,906.2L897.9,906.0L899.9,905.9L901.9,905.7L903.9,905.5L905.9,905.3L907.9,905.1L909.8,904.9L911.8,904.7L913.8,904.5L915.8,904.3L917.8,904.1L919.8,903.9L921.8,903.7L923.8,903.5L925.8,903.3L927.8,903.1L929.7,902.9L931.7,902.7L933.7,902.4L935.7,902.2L937.7,901.9L939.7,901.6L941.6,901.3L943.6,901.0L945.6,900.6L947.5,900.2L949.4,899.7L951.4,899.3L953.3,898.8L955.2,898.2L957.1,897.6L959.0,897.0L960.9,896.4L962.8,895.8L964.7,895.2L966.6,894.5L968.5,893.8L970.4,893.1L972.2,892.4L974.1,891.7L975.9,890.9L977.7,890.0L979.5,889.2L981.3,888.3L983.0,887.3L984.7,886.3L986.5,885.3L988.2,884.3L989.8,883.2L991.5,882.1L993.1,881.0L994.7,879.8L996.3,878.6L997.8,877.3L999.3,876.0L1000.8,874.7L1002.3,873.4L1003.7,872.0L1005.1,870.6L1006.5,869.2L1007.9,867.7L1009.3,866.3L1010.6,864.8L1011.9,863.3L1013.2,861.7L1014.4,860.2L1015.7,858.6L1016.9,857.0L1018.1,855.4L1019.2,853.8L1020.4,852.2L1021.5,850.5L1022.5,848.8L1023.5,847.1L1024.5,845.4L1025.4,843.6L1026.3,841.9L1027.2,840.1L1028.0,838.3L1028.9,836.4L1029.7,834.6L1030.5,832.8L1031.3,831.0L1032.1,829.1L1033.0,827.3L1033.8,825.5L1034.6,823.7L1035.5,821.9L1036.3,820.1L1037.2,818.2L1038.0,816.4L1038.9,814.6L1039.7,812.8L1040.6,811.0L1041.4,809.2L1042.3,807.4L1043.1,805.6L1044.0,803.8L1044.8,801.9L1045.6,800.1L1046.4,798.3L1047.2,796.5L1048.0,794.6L1048.8,792.8L1049.5,790.9L1050.3,789.1L1051.0,787.2L1051.8,785.4L1052.5,783.5L1053.3,781.7L1054.0,779.8L1054.8,777.9L1055.5,776.1L1056.3,774.2L1057.0,772.4L1057.8,770.5L1058.5,768.7L1059.3,766.8L1060.0,765.0L1060.8,763.1L1061.5,761.3L1062.3,759.4L1063.0,757.5L1063.8,755.7L1064.5,753.8L1065.3,752.0L1066.0,750.1L1066.8,748.3L1067.5,746.4L1068.3,744.6L1069.0,742.7L1069.8,740.9L1070.5,739.0L1071.3,737.2L1072.0,735.3L1072.8,733.5L1073.6,731.6L1074.3,729.8L1075.1,727.9L1075.9,726.1L1076.7,724.2L1077.5,722.4L1078.3,720.6L1079.1,718.7L1079.9,716.9L1080.7,715.1L1081.5,713.3L1082.4,711.4L1083.2,709.6L1084.0,707.8L1084.8,706.0L1085.7,704.1L1086.5,702.3L1087.3,700.5L1088.2,698.7L1089.0,696.9L1089.9,695.1L1090.7,693.3L1091.6,691.5L1092.5,689.7L1093.4,687.9L1094.3,686.1L1095.2,684.3L1096.1,682.5L1097.0,680.8L1097.9,679.0L1098.9,677.3L1099.9,675.5L1100.9,673.8L1101.9,672.1L1103.0,670.4L1104.1,668.8L1105.2,667.1L1106.4,665.5L1107.6,663.9L1108.7,662.3L1109.9,660.7L1111.2,659.1L1112.4,657.5L1113.6,655.9L1114.9,654.4L1116.1,652.8L1117.4,651.3L1118.7,649.7L1120.0,648.2L1121.3,646.7L1122.6,645.2L1123.9,643.7L1125.3,642.2L1126.6,640.7L1127.9,639.3L1129.3,637.8L1130.7,636.3L1132.0,634.9L1133.4,633.4L1134.8,632.0L1136.2,630.6L1137.7,629.2L1139.1,627.9L1140.6,626.5L1142.1,625.2L1143.6,623.9L1145.1,622.6L1146.7,621.4L1148.3,620.1L1149.8,618.9L1151.4,617.7L1153.0,616.5L1154.6,615.3L1156.3,614.1L1157.9,613.0L1159.5,611.9L1161.2,610.8L1162.9,609.7L1164.5,608.6L1166.2,607.5L1167.9,606.4L1169.6,605.4L1171.4,604.4L1173.1,603.4L1174.8,602.4L1176.6,601.5L1178.3,600.5L1180.1,599.6L1181.9,598.6L1183.7,597.7L1185.4,596.8L1187.2,595.9L1189.0,595.0L1190.8,594.1L1192.6,593.2L1194.4,592.3L1196.1,591.4L1197.9,590.5L1199.7,589.6L1201.5,588.7L1203.3,587.8L1205.1,586.9L1206.0,586.5" stroke="#ea9256"/>
<path d="M712.0,912.5L714.0,912.5L716.0,912.4L718.0,912.4L720.0,912.4L722.0,912.3L724.0,912.3L726.0,912.3L728.0,912.2L730.0,912.2L732.0,912.2L734.0,912.1L736.0,912.1L738.0,912.1L740.0,912.0L742.0,912.0L744.0,912.0L746.0,911.9L748.0,911.9L750.0,911.9L752.0,911.8L754.0,911.8L756.0,911.8L758.0,911.7L760.0,911.7L762.0,911.7L764.0,911.6L766.0,911.6L768.0,911.6L770.0,911.5L772.0,911.5L774.0,911.5L776.0,911.4L778.0,911.4L780.0,911.4L782.0,911.3L784.0,911.3L786.0,911.3L788.0,911.2L790.0,911.2L792.0,911.2L794.0,911.1L796.0,911.1L798.0,911.1L800.0,911.1L802.0,911.0L804.0,911.0L806.0,911.0L808.0,910.9L810.0,910.9L812.0,910.9L814.0,910.8L816.0,910.8L818.0,910.8L820.0,910.7L822.0,910.7L824.0,910.6L826.0,910.6L828.0,910.6L830.0,910.5L832.0,910.5L834.0,910.4L836.0,910.3L838.0,910.3L840.0,910.2L842.0,910.1L844.0,910.1L846.0,910.0L848.0,909.9L850.0,909.8L852.0,909.7L854.0,909.7L856.0,909.6L858.0,909.5L860.0,909.4L862.0,909.3L864.0,909.2L866.0,909.2L868.0,909.1L870.0,909.0L872.0,908.9L874.0,908.8L876.0,908.7L878.0,908.7L880.0,908.6L882.0,908.5L884.0,908.4L886.0,908.3L888.0,908.2L890.0,908.1L892.0,908.0L894.0,907.8L896.0,907.7L897.9,907.5L899.9,907.4L901.9,907.2L903.9,907.0L905.9,906.8L907.9,906.6L909.9,906.4L911.9,906.2L913.9,906.0L915.9,905.8L917.9,905.6L919.8,905.4L921.8,905.2L923.8,905.0L925.8,904.8L927.8,904.6L929.8,904.4L931.8,904.1L933.8,903.9L935.7,903.6L937.7,903.3L939.7,903.0L941.7,902.7L943.6,902.3L945.6,901.9L947.5,901.5L949.5,901.1L951.4,900.6L953.3,900.1L955.2,899.5L957.1,898.9L959.0,898.3L960.9,897.7L962.8,897.1L964.7,896.4L966.6,895.7L968.5,895.1L970.4,894.4L972.2,893.6L974.0,892.9L975.9,892.1L977.7,891.2L979.5,890.3L981.2,889.4L983.0,888.5L984.7,887.5L986.4,886.4L988.1,885.4L989.7,884.3L991.4,883.2L993.0,882.0L994.6,880.8L996.2,879.6L997.7,878.4L999.2,877.1L1000.7,875.8L1002.2,874.4L1003.6,873.0L1005.1,871.6L1006.5,870.2L1007.8,868.8L1009.2,867.3L1010.5,865.8L1011.8,864.3L1013.1,862.8L1014.4,861.3L1015.6,859.7L1016.8,858.1L1018.0,856.5L1019.2,854.9L1020.3,853.3L1021.4,851.6L1022.5,849.9L1023.5,848.2L1024.5,846.5L1025.4,844.7L1026.3,843.0L1027.2,841.2L1028.0,839.4L1028.9,837.6L1029.7,835.7L1030.5,833.9L1031.4,832.1L1032.2,830.3L1033.0,828.5L1033.9,826.6L1034.7,824.8L1035.5,823.0L1036.4,821.2L1037.3,819.4L1038.1,817.6L1039.0,815.8L1039.8,814.0L1040.7,812.2L1041.6,810.4L1042.4,808.6L1043.3,806.7L1044.1,804.9L1044.9,803.1L1045.8,801.3L1046.6,799.5L1047.4,797.6L1048.2,795.8L1048.9,793.9L1049.7,792.1L1050.5,790.3L1051.2,788.4L1052.0,786.6L1052.8,784.7L1053.5,782.9L1054.3,781.0L1055.0,779.2L1055.8,777.3L1056.5,775.4L1057.3,773.6L1058.0,771.7L1058.8,769.9L1059.6,768.0L1060.3,766.2L1061.1,764.3L1061.8,762.5L1062.6,760.6L1063.3,758.8L1064.1,756.9L1064.8,755.1L1065.6,753.2L1066.3,751.4L1067.1,749.5L1067.8,747.7L1068.6,745.8L1069.3,743.9L1070.1,742.1L1070.8,740.2L1071.6,738.4L1072.4,736.5L1073.1,734.7L1073.9,732.8L1074.7,731.0L1075.4,729.2L1076.2,727.3L1077.0,725.5L1077.8,723.6L1078.6,721.8L1079.4,720.0L1080.2,718.2L1081.1,716.3L1081.9,714.5L1082.7,712.7L1083.5,710.9L1084.3,709.0L1085.2,707.2L1086.0,705.4L1086.8,703.6L1087.6,701.7L1088.5,699.9L1089.3,698.1L1090.2,696.3L1091.0,694.5L1091.9,692.7L1092.7,690.9L1093.6,689.1L1094.5,687.3L1095.3,685.5L1096.2,683.7L1097.1,681.9L1098.0,680.1L1099.0,678.4L1099.9,676.6L1100.9,674.9L1101.9,673.2L1103.0,671.5L1104.1,669.8L1105.2,668.2L1106.4,666.6L1107.5,664.9L1108.7,663.3L1109.9,661.7L1111.1,660.1L1112.3,658.5L1113.6,657.0L1114.8,655.4L1116.1,653.9L1117.3,652.3L1118.6,650.8L1119.9,649.3L1121.2,647.7L1122.6,646.2L1123.9,644.8L1125.2,643.3L1126.6,641.8L1127.9,640.3L1129.3,638.8L1130.6,637.4L1132.0,635.9L1133.4,634.5L1134.8,633.1L1136.2,631.7L1137.6,630.3L1139.1,628.9L1140.6,627.6L1142.1,626.3L1143.6,625.0L1145.2,623.7L1146.7,622.5L1148.3,621.3L1149.9,620.1L1151.5,618.9L1153.1,617.7L1154.7,616.5L1156.4,615.4L1158.0,614.2L1159.6,613.1L1161.3,612.0L1163.0,610.9L1164.7,609.8L1166.3,608.7L1168.0,607.7L1169.8,606.6L1171.5,605.6L1173.2,604.6L1174.9,603.6L1176.7,602.7L1178.4,601.7L1180.2,600.7L1182.0,599.8L1183.7,598.9L1185.5,597.9L1187.3,597.0L1189.1,596.1L1190.8,595.2L1192.6,594.3L1194.4,593.4L1196.2,592.5L1198.0,591.6L1199.8,590.7L1201.5,589.8L1203.3,588.9L1205.1,588.0L1206.0,587.5" stroke="#82a84e"/>
<path d="M712.0,911.0L714.0,911.0L716.0,910.9L718.0,910.9L720.0,910.9L722.0,910.8L724.0,910.8L726.0,910.8L728.0,910.7L730.0,910.7L732.0,910.7L734.0,910.6L736.0,910.6L738.0,910.6L740.0,910.5L742.0,910.5L744.0,910.5L746.0,910.4L748.0,910.4L750.0,910.4L752.0,910.3L754.0,910.3L756.0,910.3L758.0,910.2L760.0,910.2L762.0,910.2L764.0,910.1L766.0,910.1L768.0,910.1L770.1,910.0L772.1,910.0L774.1,910.0L776.1,909.9L778.1,909.9L780.1,909.9L782.1,909.8L784.1,909.8L786.1,909.8L788.1,909.7L790.1,909.7L792.1,909.7L794.1,909.6L796.1,909.6L798.1,909.6L800.1,909.5L802.1,909.5L804.1,909.5L806.1,909.5L808.1,909.4L810.1,909.4L812.1,909.4L814.1,909.3L816.1,909.3L818.1,909.2L820.1,909.2L822.1,909.2L824.1,909.1L826.1,909.1L828.1,909.0L830.1,909.0L832.1,908.9L834.1,908.9L836.1,908.8L838.1,908.7L840.1,908.6L842.1,908.6L844.1,908.5L846.1,908.4L848.1,908.3L850.1,908.2L852.1,908.1L854.1,908.0L856.1,907.9L858.1,907.8L860.1,907.7L862.1,907.6L864.1,907.5L866.1,907.4L868.1,907.3L870.1,907.2L872.1,907.1L874.1,907.0L876.1,906.9L878.1,906.8L880.1,906.7L882.1,906.6L884.1,906.5L886.1,906.4L888.1,906.2L890.1,906.1L892.1,906.0L894.1,905.8L896.1,905.7L898.1,905.5L900.1,905.4L902.1,905.2L904.1,905.0L906.0,904.8L908.0,904.6L910.0,904.4L912.0,904.2L914.0,904.0L916.0,903.8L918.0,903.6L920.0,903.4L922.0,903.2L924.0,903.0L926.0,902.8L928.0,902.6L930.0,902.4L931.9,902.2L933.9,902.0L935.9,901.8L937.9,901.6L939.9,901.3L941.9,901.1L943.8,900.8L945.8,900.4L947.8,900.1L949.7,899.7L951.7,899.3L953.6,898.8L955.5,898.3L957.5,897.7L959.4,897.2L961.3,896.6L963.2,896.0L965.1,895.4L967.0,894.7L968.9,894.1L970.7,893.4L972.6,892.7L974.5,891.9L976.3,891.1L978.1,890.3L979.9,889.5L981.7,888.6L983.4,887.6L985.2,886.6L986.9,885.6L988.6,884.6L990.2,883.5L991.9,882.4L993.5,881.3L995.1,880.1L996.7,878.9L998.2,877.6L999.7,876.3L1001.2,875.0L1002.7,873.6L1004.1,872.2L1005.5,870.8L1006.9,869.4L1008.3,868.0L1009.7,866.5L1011.0,865.0L1012.3,863.5L1013.7,862.0L1015.0,860.5L1016.2,859.0L1017.5,857.4L1018.8,855.9L1020.0,854.3L1021.3,852.8L1022.6,851.2L1023.8,849.7L1025.1,848.1L1026.3,846.5L1027.5,844.9L1028.7,843.4L1029.9,841.7L1031.0,840.1L1032.1,838.4L1033.1,836.8L1034.1,835.0L1035.1,833.3L1036.0,831.5L1036.8,829.7L1037.7,827.9L1038.5,826.1L1039.3,824.3L1040.2,822.5L1041.0,820.6L1041.8,818.8L1042.6,817.0L1043.4,815.1L1044.2,813.3L1045.0,811.5L1045.8,809.6L1046.6,807.8L1047.4,805.9L1048.1,804.1L1048.9,802.3L1049.7,800.4L1050.5,798.6L1051.3,796.7L1052.0,794.9L1052.8,793.0L1053.6,791.2L1054.4,789.3L1055.1,787.5L1055.9,785.6L1056.7,783.8L1057.5,782.0L1058.2,780.1L1059.0,778.3L1059.8,776.4L1060.6,774.6L1061.3,772.7L1062.1,770.9L1062.9,769.0L1063.7,767.2L1064.5,765.3L1065.2,763.5L1066.0,761.7L1066.8,759.8L1067.6,758.0L1068.4,756.1L1069.1,754.3L1069.9,752.4L1070.7,750.6L1071.5,748.8L1072.3,746.9L1073.1,745.1L1073.9,743.2L1074.7,741.4L1075.5,739.6L1076.3,737.7L1077.1,735.9L1077.9,734.1L1078.8,732.3L1079.6,730.5L1080.4,728.6L1081.3,726.8L1082.1,725.0L1083.0,723.2L1083.8,721.4L1084.7,719.6L1085.6,717.8L1086.5,716.0L1087.4,714.3L1088.4,712.5L1089.4,710.8L1090.4,709.1L1091.5,707.4L1092.6,705.7L1093.7,704.0L1094.8,702.4L1095.9,700.7L1097.0,699.1L1098.1,697.4L1099.3,695.8L1100.4,694.1L1101.4,692.4L1102.5,690.7L1103.6,689.0L1104.7,687.3L1105.7,685.6L1106.8,684.0L1107.9,682.3L1108.9,680.6L1110.0,678.9L1111.2,677.3L1112.3,675.7L1113.5,674.1L1114.8,672.5L1116.0,670.9L1117.3,669.4L1118.6,667.9L1119.9,666.4L1121.2,664.9L1122.6,663.4L1124.0,662.0L1125.4,660.6L1126.8,659.2L1128.3,657.9L1129.8,656.5L1131.3,655.3L1132.8,654.0L1134.4,652.8L1136.0,651.6L1137.6,650.4L1139.2,649.3L1140.9,648.1L1142.6,647.0L1144.2,646.0L1145.9,644.9L1147.7,643.9L1149.4,642.9L1151.1,641.9L1152.9,640.9L1154.6,639.9L1156.4,639.0L1158.1,638.0L1159.9,637.1L1161.7,636.2L1163.5,635.3L1165.3,634.4L1167.1,633.5L1168.9,632.7L1170.7,631.8L1172.5,631.0L1174.3,630.1L1176.1,629.3L1177.9,628.5L1179.8,627.6L1181.6,626.8L1183.4,625.9L1185.2,625.1L1187.0,624.3L1188.8,623.4L1190.7,622.6L1192.5,621.7L1194.3,620.8L1196.1,620.0L1197.9,619.1L1199.7,618.2L1201.5,617.4L1203.3,616.5L1205.1,615.6L1206.0,615.2" stroke="#3e709b"/>
<path d="M712.0,910.4L714.0,910.4L716.0,910.3L718.0,910.3L720.0,910.3L722.0,910.2L724.0,910.2L726.0,910.2L728.0,910.1L730.0,910.1L732.0,910.1L734.0,910.1L736.0,910.0L738.0,910.0L740.0,910.0L742.0,909.9L744.0,909.9L746.0,909.9L748.0,909.8L750.0,909.8L752.0,909.8L754.0,909.7L756.0,909.7L758.0,909.7L760.0,909.6L762.0,909.6L764.0,909.6L766.0,909.6L768.1,909.5L770.1,909.5L772.1,909.5L774.1,909.4L776.1,909.4L778.1,909.4L780.1,909.3L782.1,909.3L784.1,909.3L786.1,909.2L788.1,909.2L790.1,909.2L792.1,909.1L794.1,909.1L796.1,909.1L798.1,909.1L800.1,909.0L802.1,909.0L804.1,909.0L806.1,908.9L808.1,908.9L810.1,908.9L812.1,908.8L814.1,908.8L816.1,908.8L818.1,908.7L820.1,908.7L822.1,908.7L824.1,908.6L826.1,908.6L828.1,908.5L830.1,908.5L832.1,908.4L834.1,908.4L836.1,908.3L838.1,908.2L840.1,908.1L842.1,908.1L844.1,908.0L846.1,907.9L848.1,907.8L850.1,907.7L852.1,907.6L854.1,907.5L856.1,907.4L858.1,907.3L860.1,907.2L862.1,907.1L864.1,907.0L866.1,906.9L868.1,906.8L870.1,906.7L872.1,906.6L874.1,906.5L876.1,906.4L878.1,906.3L880.1,906.2L882.1,906.1L884.1,906.0L886.1,905.9L888.1,905.7L890.1,905.6L892.1,905.5L894.1,905.3L896.1,905.2L898.1,905.0L900.1,904.9L902.1,904.7L904.1,904.5L906.1,904.3L908.0,904.1L910.0,903.9L912.0,903.7L914.0,903.5L916.0,903.3L918.0,903.1L920.0,902.9L922.0,902.7L924.0,902.5L926.0,902.4L928.0,902.2L930.0,902.0L932.0,901.8L934.0,901.6L935.9,901.5L937.9,901.3L939.9,901.1L941.9,900.9L943.9,900.7L945.9,900.4L947.8,900.1L949.8,899.7L951.7,899.3L953.7,898.9L955.6,898.4L957.5,897.9L959.4,897.3L961.3,896.7L963.3,896.1L965.2,895.5L967.0,894.9L968.9,894.2L970.8,893.6L972.7,892.8L974.5,892.1L976.4,891.3L978.2,890.5L980.0,889.7L981.7,888.8L983.5,887.8L985.2,886.8L986.9,885.8L988.6,884.8L990.3,883.7L992.0,882.6L993.6,881.5L995.2,880.3L996.8,879.1L998.3,877.8L999.8,876.5L1001.3,875.2L1002.8,873.9L1004.2,872.5L1005.6,871.1L1007.1,869.7L1008.4,868.2L1009.8,866.8L1011.2,865.3L1012.5,863.8L1013.8,862.3L1015.1,860.8L1016.4,859.2L1017.7,857.7L1018.9,856.2L1020.2,854.6L1021.5,853.1L1022.8,851.5L1024.0,850.0L1025.3,848.4L1026.6,846.9L1027.8,845.3L1029.0,843.7L1030.2,842.1L1031.3,840.5L1032.4,838.9L1033.4,837.2L1034.4,835.4L1035.3,833.7L1036.2,831.9L1037.1,830.1L1038.0,828.3L1038.8,826.5L1039.6,824.7L1040.4,822.9L1041.2,821.0L1042.0,819.2L1042.8,817.4L1043.6,815.5L1044.4,813.7L1045.2,811.9L1046.0,810.0L1046.8,808.2L1047.6,806.3L1048.4,804.5L1049.2,802.6L1049.9,800.8L1050.7,799.0L1051.5,797.1L1052.3,795.3L1053.0,793.4L1053.8,791.6L1054.6,789.7L1055.4,787.9L1056.1,786.0L1056.9,784.2L1057.7,782.3L1058.5,780.5L1059.2,778.6L1060.0,776.8L1060.8,775.0L1061.6,773.1L1062.3,771.3L1063.1,769.4L1063.9,767.6L1064.7,765.7L1065.4,763.9L1066.2,762.0L1067.0,760.2L1067.8,758.3L1068.6,756.5L1069.3,754.7L1070.1,752.8L1070.9,751.0L1071.7,749.1L1072.5,747.3L1073.3,745.5L1074.1,743.6L1074.9,741.8L1075.7,740.0L1076.5,738.1L1077.3,736.3L1078.1,734.5L1079.0,732.7L1079.8,730.8L1080.7,729.0L1081.5,727.2L1082.4,725.4L1083.2,723.6L1084.1,721.8L1085.0,720.0L1085.9,718.2L1086.8,716.4L1087.7,714.7L1088.7,713.0L1089.7,711.2L1090.8,709.5L1091.8,707.8L1092.9,706.2L1094.0,704.5L1095.1,702.8L1096.3,701.2L1097.4,699.5L1098.5,697.9L1099.6,696.2L1100.7,694.5L1101.7,692.8L1102.8,691.1L1103.8,689.4L1104.8,687.7L1105.8,686.0L1106.9,684.3L1107.9,682.5L1109.0,680.9L1110.0,679.2L1111.1,677.5L1112.3,675.9L1113.5,674.3L1114.7,672.7L1115.9,671.1L1117.2,669.6L1118.4,668.1L1119.8,666.6L1121.1,665.1L1122.4,663.6L1123.8,662.2L1125.2,660.7L1126.6,659.4L1128.1,658.0L1129.6,656.7L1131.1,655.4L1132.7,654.1L1134.2,652.9L1135.8,651.7L1137.4,650.5L1139.1,649.4L1140.7,648.3L1142.4,647.2L1144.1,646.1L1145.8,645.0L1147.5,644.0L1149.2,643.0L1150.9,642.0L1152.7,641.0L1154.4,640.0L1156.2,639.1L1157.9,638.1L1159.7,637.2L1161.5,636.3L1163.3,635.4L1165.1,634.5L1166.9,633.6L1168.7,632.8L1170.5,631.9L1172.3,631.1L1174.1,630.2L1175.9,629.4L1177.8,628.6L1179.6,627.7L1181.4,626.9L1183.2,626.1L1185.0,625.2L1186.9,624.4L1188.7,623.6L1190.5,622.8L1192.3,621.9L1194.2,621.1L1196.0,620.3L1197.8,619.4L1199.6,618.6L1201.4,617.8L1203.3,616.9L1205.1,616.1L1206.0,615.7" stroke="#dc62a1"/>
</g>
<rect x="712.5" y="526.0" width="492.7" height="388.3" fill="none" stroke="#262626" stroke-width="2.2"/>
<path d="M835.7,914.3v-10.0 M958.9,914.3v-10.0 M1082.0,914.3v-10.0 M774.1,914.3v-5.0 M897.3,914.3v-5.0 M1020.4,914.3v-5.0 M1143.6,914.3v-5.0 M712.5,784.9h10.0 M712.5,655.4h10.0 M712.5,849.6h5.0 M712.5,720.1h5.0 M712.5,590.7h5.0" stroke="#262626" stroke-width="2.2" fill="none"/>
<text x="712.5" y="942.5" font-size="21.5" text-anchor="middle" fill="#222" color="#222" >2.0</text>
<text x="835.7" y="942.5" font-size="21.5" text-anchor="middle" fill="#222" color="#222" >2.5</text>
<text x="958.9" y="942.5" font-size="21.5" text-anchor="middle" fill="#222" color="#222" >3.0</text>
<text x="1082.0" y="942.5" font-size="21.5" text-anchor="middle" fill="#222" color="#222" >3.5</text>
<text x="1205.2" y="942.5" font-size="21.5" text-anchor="middle" fill="#222" color="#222" >4.0</text>
<text x="699.5" y="921.5" font-size="21.5" text-anchor="end" fill="#222" color="#222" >0</text>
<text x="699.5" y="792.1" font-size="21.5" text-anchor="end" fill="#222" color="#222" >5</text>
<text x="699.5" y="662.6" font-size="21.5" text-anchor="end" fill="#222" color="#222" >10</text>
<text x="699.5" y="533.2" font-size="21.5" text-anchor="end" fill="#222" color="#222" >15</text>
<text x="959.0" y="967.5" font-size="21.5" text-anchor="middle" fill="#222" color="#222">h<tspan font-style="italic">ν</tspan> / eV</text>
<text transform="translate(666.0,721.0) rotate(-90)" x="0" y="0" font-size="21" text-anchor="middle" fill="#222" color="#222">(<tspan font-style="italic">αhν</tspan>)<tspan font-size="12" dy="-9">2</tspan><tspan dy="9"> / (cm</tspan><tspan font-size="12" dy="-9">-1</tspan><tspan dy="9">·eV)</tspan><tspan font-size="12" dy="-9">2</tspan></text>
<text x="1195.5" y="556.0" font-size="26.5" text-anchor="end" fill="#222" color="#222" >(d)</text>
<rect x="766.7" y="558.1" width="202.2" height="158.9" fill="#cccccc"/>
<rect x="753.7" y="545.1" width="202.2" height="158.9" fill="#fff" stroke="#e6e6e6" stroke-width="1"/>
<line x1="756.7" y1="560.3" x2="806.7" y2="560.3" stroke="#722a36" stroke-width="2.6"/>
<text x="811.7" y="567.1" font-size="21" text-anchor="start" fill="#222" color="#222" >Raw C-CeO<tspan font-size="14" dy="6">2</tspan><tspan dy="-6">​</tspan></text>
<line x1="756.7" y1="591.6" x2="806.7" y2="591.6" stroke="#ea9256" stroke-width="2.6"/>
<text x="811.7" y="598.4" font-size="21" text-anchor="start" fill="#222" color="#222" >C-CeO<tspan font-size="14" dy="6">2</tspan><tspan dy="-6">​</tspan>-air</text>
<line x1="756.7" y1="622.8" x2="806.7" y2="622.8" stroke="#82a84e" stroke-width="2.6"/>
<text x="811.7" y="629.6" font-size="21" text-anchor="start" fill="#222" color="#222" >C-CeO<tspan font-size="14" dy="6">2</tspan><tspan dy="-6">​</tspan>-30% H<tspan font-size="14" dy="6">2</tspan><tspan dy="-6">​</tspan></text>
<line x1="756.7" y1="654.1" x2="806.7" y2="654.1" stroke="#3e709b" stroke-width="2.6"/>
<text x="811.7" y="660.9" font-size="21" text-anchor="start" fill="#222" color="#222" >C-CeO<tspan font-size="14" dy="6">2</tspan><tspan dy="-6">​</tspan>-60% H<tspan font-size="14" dy="6">2</tspan><tspan dy="-6">​</tspan></text>
<line x1="756.7" y1="685.3" x2="806.7" y2="685.3" stroke="#dc62a1" stroke-width="2.6"/>
<text x="811.7" y="692.1" font-size="21" text-anchor="start" fill="#222" color="#222" >C-CeO<tspan font-size="14" dy="6">2</tspan><tspan dy="-6">​</tspan>-H<tspan font-size="14" dy="6">2</tspan><tspan dy="-6">​</tspan></text>
<clipPath id="clipe"><rect x="97.0" y="1020.4" width="490.6" height="385.9"/></clipPath>
<g clip-path="url(#clipe)" fill="none" stroke-width="2.4" stroke-linejoin="round" stroke-linecap="round">
<path d="M96.0,1063.4L98.0,1063.1L100.0,1062.9L102.0,1062.6L103.9,1062.4L105.9,1062.1L107.9,1061.8L109.9,1061.6L111.9,1061.3L113.9,1061.1L115.8,1060.8L117.8,1060.5L119.8,1060.3L121.8,1060.0L123.8,1059.8L125.8,1059.5L127.8,1059.3L129.7,1059.1L131.7,1058.8L133.7,1058.6L135.7,1058.4L137.7,1058.3L139.7,1058.1L141.7,1058.0L143.7,1057.9L145.7,1057.9L147.7,1057.8L149.7,1057.9L151.7,1057.9L153.7,1058.0L155.7,1058.1L157.6,1058.3L159.6,1058.4L161.6,1058.6L163.6,1058.8L165.6,1059.1L167.6,1059.3L169.6,1059.6L171.5,1059.9L173.5,1060.3L175.5,1060.6L177.4,1061.0L179.4,1061.4L181.3,1061.9L183.2,1062.4L185.2,1062.9L187.1,1063.5L189.0,1064.1L190.8,1064.8L192.7,1065.5L194.5,1066.3L196.3,1067.1L198.1,1068.0L199.9,1068.9L201.6,1069.8L203.3,1070.9L205.0,1071.9L206.6,1073.0L208.2,1074.2L209.8,1075.4L211.3,1076.7L212.8,1078.0L214.3,1079.3L215.7,1080.7L217.1,1082.1L218.5,1083.6L219.8,1085.1L221.1,1086.6L222.4,1088.1L223.7,1089.6L224.9,1091.2L226.1,1092.8L227.3,1094.4L228.5,1096.0L229.6,1097.7L230.8,1099.3L231.9,1101.0L232.9,1102.6L234.0,1104.3L235.0,1106.0L236.1,1107.8L237.1,1109.5L238.0,1111.2L239.0,1113.0L239.9,1114.8L240.9,1116.5L241.8,1118.3L242.7,1120.1L243.6,1121.9L244.5,1123.7L245.4,1125.5L246.2,1127.3L247.1,1129.1L248.0,1130.9L248.9,1132.7L249.7,1134.5L250.6,1136.3L251.5,1138.1L252.3,1139.9L253.2,1141.7L254.1,1143.5L254.9,1145.3L255.8,1147.1L256.6,1148.9L257.5,1150.7L258.3,1152.5L259.2,1154.4L260.0,1156.2L260.9,1158.0L261.7,1159.8L262.5,1161.6L263.3,1163.5L264.2,1165.3L265.0,1167.1L265.8,1168.9L266.6,1170.8L267.4,1172.6L268.2,1174.4L269.0,1176.3L269.9,1178.1L270.7,1179.9L271.5,1181.8L272.3,1183.6L273.1,1185.4L273.9,1187.2L274.7,1189.1L275.5,1190.9L276.3,1192.7L277.2,1194.6L278.0,1196.4L278.8,1198.2L279.6,1200.0L280.4,1201.9L281.2,1203.7L282.0,1205.5L282.8,1207.4L283.7,1209.2L284.5,1211.0L285.3,1212.8L286.2,1214.6L287.0,1216.5L287.9,1218.3L288.7,1220.1L289.6,1221.9L290.5,1223.7L291.3,1225.5L292.2,1227.3L293.1,1229.1L294.0,1230.9L294.9,1232.7L295.8,1234.5L296.7,1236.2L297.6,1238.0L298.5,1239.8L299.4,1241.6L300.3,1243.4L301.2,1245.2L302.1,1246.9L303.1,1248.7L304.0,1250.5L305.0,1252.2L305.9,1254.0L306.8,1255.8L307.8,1257.5L308.7,1259.3L309.7,1261.1L310.6,1262.8L311.6,1264.6L312.5,1266.3L313.5,1268.1L314.4,1269.9L315.4,1271.6L316.4,1273.3L317.4,1275.1L318.5,1276.8L319.5,1278.5L320.6,1280.2L321.6,1281.9L322.7,1283.5L323.8,1285.2L324.9,1286.9L326.0,1288.6L327.1,1290.2L328.2,1291.9L329.3,1293.6L330.5,1295.2L331.6,1296.9L332.7,1298.5L333.8,1300.2L335.0,1301.8L336.1,1303.5L337.2,1305.1L338.4,1306.8L339.6,1308.4L340.7,1310.0L341.9,1311.6L343.1,1313.2L344.3,1314.8L345.6,1316.4L346.9,1317.9L348.1,1319.4L349.4,1320.9L350.8,1322.4L352.1,1323.9L353.4,1325.4L354.8,1326.9L356.2,1328.3L357.6,1329.8L359.0,1331.2L360.4,1332.5L361.9,1333.9L363.4,1335.3L364.9,1336.6L366.4,1337.9L367.9,1339.1L369.5,1340.4L371.0,1341.6L372.6,1342.8L374.2,1344.0L375.8,1345.2L377.5,1346.3L379.1,1347.5L380.8,1348.6L382.5,1349.6L384.2,1350.7L385.9,1351.7L387.6,1352.7L389.4,1353.6L391.1,1354.6L392.9,1355.5L394.7,1356.3L396.5,1357.1L398.4,1357.9L400.2,1358.7L402.1,1359.4L403.9,1360.2L405.8,1360.9L407.7,1361.5L409.6,1362.2L411.5,1362.9L413.3,1363.5L415.2,1364.2L417.1,1364.8L419.1,1365.4L421.0,1366.0L422.9,1366.5L424.8,1367.1L426.7,1367.6L428.7,1368.1L430.6,1368.7L432.5,1369.2L434.5,1369.6L436.4,1370.1L438.4,1370.5L440.3,1371.0L442.3,1371.4L444.2,1371.7L446.2,1372.1L448.2,1372.4L450.2,1372.7L452.1,1373.0L454.1,1373.3L456.1,1373.5L458.1,1373.8L460.1,1374.0L462.1,1374.3L464.0,1374.5L466.0,1374.8L468.0,1375.0L470.0,1375.3L472.0,1375.5L474.0,1375.7L476.0,1375.9L478.0,1376.1L479.9,1376.2L481.9,1376.4L483.9,1376.5L485.9,1376.6L487.9,1376.7L489.9,1376.7L491.9,1376.8L493.9,1376.8L495.9,1376.9L497.9,1376.9L499.9,1377.0L501.9,1377.0L503.9,1377.0L505.9,1377.1L507.9,1377.1L509.9,1377.1L511.9,1377.2L513.9,1377.2L515.9,1377.2L517.9,1377.3L519.9,1377.3L522.0,1377.3L524.0,1377.4L526.0,1377.4L528.0,1377.4L530.0,1377.4L532.0,1377.4L534.0,1377.4L536.0,1377.4L538.0,1377.4L540.0,1377.4L542.0,1377.4L544.0,1377.4L546.0,1377.3L548.0,1377.3L550.0,1377.3L552.0,1377.3L554.0,1377.3L556.0,1377.2L558.0,1377.2L560.0,1377.2L562.0,1377.2L564.0,1377.1L566.0,1377.1L568.0,1377.1L570.0,1377.1L572.0,1377.1L574.0,1377.0L576.0,1377.0L578.0,1377.0L580.0,1377.0L582.0,1377.0L584.0,1376.9L586.0,1376.9L588.0,1376.9" stroke="#722a36"/>
<path d="M96.0,1067.4L98.0,1067.2L100.0,1067.1L102.0,1066.9L104.0,1066.7L106.0,1066.6L108.0,1066.4L110.0,1066.2L112.0,1066.0L113.9,1065.9L115.9,1065.7L117.9,1065.5L119.9,1065.3L121.9,1065.1L123.9,1065.0L125.9,1064.8L127.9,1064.6L129.9,1064.4L131.9,1064.2L133.9,1064.1L135.9,1064.0L137.9,1063.9L139.8,1063.8L141.8,1063.7L143.8,1063.8L145.8,1063.8L147.8,1063.9L149.8,1064.0L151.8,1064.2L153.8,1064.4L155.7,1064.7L157.7,1065.0L159.6,1065.4L161.6,1065.8L163.5,1066.2L165.5,1066.7L167.4,1067.3L169.3,1067.9L171.2,1068.5L173.0,1069.2L174.9,1069.9L176.7,1070.7L178.5,1071.5L180.2,1072.4L181.9,1073.4L183.6,1074.5L185.2,1075.6L186.8,1076.7L188.3,1078.0L189.8,1079.3L191.2,1080.7L192.6,1082.1L193.9,1083.5L195.3,1085.0L196.6,1086.5L197.9,1088.0L199.1,1089.6L200.4,1091.1L201.6,1092.7L202.8,1094.3L203.9,1096.0L205.0,1097.6L206.1,1099.3L207.2,1101.0L208.2,1102.7L209.2,1104.4L210.2,1106.1L211.1,1107.9L212.1,1109.7L213.0,1111.4L213.9,1113.2L214.8,1115.0L215.7,1116.8L216.6,1118.6L217.5,1120.4L218.4,1122.2L219.2,1124.0L220.1,1125.8L221.0,1127.6L221.9,1129.4L222.7,1131.2L223.6,1133.0L224.4,1134.8L225.2,1136.6L226.1,1138.5L226.9,1140.3L227.7,1142.1L228.5,1143.9L229.4,1145.7L230.2,1147.6L231.0,1149.4L231.8,1151.2L232.6,1153.1L233.4,1154.9L234.1,1156.8L234.9,1158.6L235.6,1160.5L236.4,1162.3L237.1,1164.2L237.8,1166.1L238.4,1168.0L239.1,1169.8L239.8,1171.7L240.4,1173.6L241.1,1175.5L241.8,1177.4L242.4,1179.3L243.1,1181.2L243.7,1183.1L244.4,1185.0L245.1,1186.8L245.7,1188.7L246.4,1190.6L247.0,1192.5L247.7,1194.4L248.4,1196.3L249.0,1198.2L249.7,1200.1L250.4,1202.0L251.0,1203.8L251.7,1205.7L252.3,1207.6L253.0,1209.5L253.7,1211.4L254.3,1213.3L255.0,1215.2L255.7,1217.1L256.3,1219.0L257.0,1220.8L257.6,1222.7L258.3,1224.6L259.0,1226.5L259.6,1228.4L260.3,1230.3L260.9,1232.2L261.6,1234.1L262.3,1235.9L262.9,1237.8L263.6,1239.7L264.3,1241.6L265.0,1243.5L265.7,1245.3L266.4,1247.2L267.1,1249.1L267.9,1250.9L268.6,1252.8L269.4,1254.6L270.2,1256.5L270.9,1258.3L271.7,1260.2L272.5,1262.0L273.3,1263.8L274.1,1265.7L274.9,1267.5L275.8,1269.3L276.6,1271.1L277.4,1273.0L278.3,1274.8L279.2,1276.5L280.1,1278.3L281.0,1280.1L282.0,1281.9L282.9,1283.6L283.9,1285.4L284.9,1287.1L285.9,1288.9L286.9,1290.6L287.9,1292.3L288.9,1294.1L289.9,1295.8L290.9,1297.5L291.9,1299.2L293.0,1300.9L294.1,1302.6L295.1,1304.3L296.2,1305.9L297.4,1307.6L298.5,1309.3L299.6,1310.9L300.8,1312.5L302.0,1314.1L303.1,1315.8L304.3,1317.4L305.6,1319.0L306.8,1320.5L308.0,1322.1L309.2,1323.7L310.5,1325.3L311.7,1326.8L313.0,1328.3L314.3,1329.9L315.6,1331.3L317.0,1332.8L318.4,1334.3L319.8,1335.7L321.2,1337.1L322.6,1338.5L324.1,1339.9L325.5,1341.2L327.0,1342.6L328.5,1343.9L329.9,1345.3L331.4,1346.6L332.9,1348.0L334.4,1349.3L335.9,1350.6L337.4,1351.9L339.0,1353.2L340.5,1354.5L342.1,1355.7L343.6,1357.0L345.2,1358.2L346.8,1359.4L348.4,1360.6L350.0,1361.7L351.7,1362.8L353.4,1363.9L355.1,1364.9L356.8,1365.9L358.5,1366.8L360.3,1367.8L362.1,1368.7L363.9,1369.5L365.7,1370.4L367.5,1371.2L369.3,1372.0L371.2,1372.8L373.0,1373.5L374.9,1374.2L376.7,1374.9L378.6,1375.5L380.5,1376.1L382.5,1376.6L384.4,1377.1L386.3,1377.6L388.3,1378.1L390.2,1378.5L392.2,1378.9L394.1,1379.3L396.1,1379.6L398.1,1379.9L400.0,1380.2L402.0,1380.5L404.0,1380.7L406.0,1380.9L408.0,1381.1L410.0,1381.3L412.0,1381.4L414.0,1381.5L416.0,1381.6L418.0,1381.8L420.0,1381.9L422.0,1382.0L424.0,1382.1L426.0,1382.2L428.0,1382.3L429.9,1382.4L431.9,1382.5L433.9,1382.6L435.9,1382.7L437.9,1382.7L439.9,1382.8L441.9,1382.9L443.9,1382.9L445.9,1383.0L447.9,1383.0L449.9,1383.1L451.9,1383.1L453.9,1383.2L456.0,1383.2L458.0,1383.2L460.0,1383.2L462.0,1383.3L464.0,1383.3L466.0,1383.3L468.0,1383.3L470.0,1383.4L472.0,1383.4L474.0,1383.4L476.0,1383.4L478.0,1383.4L480.0,1383.4L482.0,1383.4L484.0,1383.3L486.0,1383.3L488.0,1383.3L490.0,1383.2L492.0,1383.2L494.0,1383.1L496.0,1383.1L498.0,1383.0L500.0,1382.9L502.0,1382.9L504.0,1382.8L506.0,1382.8L508.0,1382.7L510.0,1382.7L512.0,1382.6L514.0,1382.6L516.0,1382.5L518.0,1382.4L520.0,1382.4L522.0,1382.3L524.0,1382.3L526.0,1382.2L528.0,1382.2L530.0,1382.1L532.0,1382.1L534.0,1382.0L536.0,1381.9L538.0,1381.9L540.0,1381.8L542.0,1381.8L544.0,1381.7L546.0,1381.7L548.0,1381.6L550.0,1381.6L552.0,1381.5L554.0,1381.4L556.0,1381.4L558.0,1381.3L560.0,1381.3L562.0,1381.2L564.0,1381.2L566.0,1381.1L568.0,1381.1L570.0,1381.0L572.0,1380.9L574.0,1380.9L576.0,1380.8L578.0,1380.8L580.0,1380.7L582.0,1380.7L584.0,1380.6L586.0,1380.6L588.0,1380.5" stroke="#ea9256"/>
<path d="M96.0,1096.1L98.0,1095.8L100.0,1095.6L102.0,1095.3L103.9,1095.1L105.9,1094.8L107.9,1094.5L109.9,1094.2L111.9,1093.9L113.8,1093.6L115.8,1093.2L117.7,1092.8L119.7,1092.4L121.6,1091.9L123.6,1091.4L125.5,1091.0L127.4,1090.5L129.4,1090.1L131.3,1089.7L133.2,1089.3L135.2,1089.0L137.1,1088.8L139.1,1088.7L141.1,1088.6L143.0,1088.7L144.9,1088.9L146.9,1089.1L148.7,1089.5L150.6,1090.1L152.4,1090.7L154.2,1091.4L156.0,1092.3L157.7,1093.2L159.4,1094.2L161.0,1095.3L162.6,1096.5L164.1,1097.7L165.6,1099.0L167.1,1100.3L168.5,1101.7L169.8,1103.1L171.1,1104.6L172.3,1106.2L173.4,1107.8L174.4,1109.4L175.4,1111.1L176.2,1112.9L177.0,1114.7L177.8,1116.5L178.5,1118.4L179.1,1120.2L179.8,1122.1L180.4,1124.0L181.0,1125.9L181.7,1127.8L182.3,1129.7L182.9,1131.6L183.5,1133.5L184.1,1135.4L184.8,1137.3L185.4,1139.2L186.0,1141.1L186.7,1143.0L187.3,1144.9L187.9,1146.8L188.5,1148.7L189.1,1150.6L189.7,1152.5L190.3,1154.5L190.9,1156.4L191.5,1158.3L192.0,1160.2L192.5,1162.1L193.0,1164.1L193.5,1166.0L194.0,1168.0L194.5,1169.9L194.9,1171.9L195.4,1173.8L195.8,1175.8L196.3,1177.7L196.7,1179.7L197.2,1181.6L197.6,1183.6L198.1,1185.5L198.5,1187.5L199.0,1189.4L199.4,1191.4L199.9,1193.3L200.3,1195.3L200.8,1197.2L201.2,1199.2L201.7,1201.1L202.1,1203.1L202.6,1205.0L203.0,1207.0L203.5,1208.9L203.9,1210.9L204.4,1212.8L204.8,1214.8L205.3,1216.7L205.8,1218.7L206.3,1220.6L206.7,1222.6L207.2,1224.5L207.7,1226.4L208.2,1228.4L208.7,1230.3L209.2,1232.3L209.7,1234.2L210.2,1236.1L210.7,1238.1L211.3,1240.0L211.8,1241.9L212.4,1243.8L213.0,1245.7L213.6,1247.6L214.2,1249.5L214.9,1251.4L215.5,1253.3L216.2,1255.2L216.9,1257.0L217.7,1258.9L218.4,1260.8L219.1,1262.6L219.9,1264.5L220.6,1266.3L221.4,1268.2L222.2,1270.0L223.0,1271.9L223.8,1273.7L224.6,1275.5L225.5,1277.3L226.4,1279.1L227.3,1280.9L228.2,1282.6L229.2,1284.4L230.1,1286.2L231.1,1287.9L232.1,1289.6L233.1,1291.4L234.1,1293.1L235.2,1294.8L236.2,1296.5L237.2,1298.2L238.3,1299.9L239.4,1301.6L240.5,1303.2L241.7,1304.8L242.9,1306.5L244.1,1308.1L245.3,1309.6L246.5,1311.2L247.8,1312.8L249.0,1314.3L250.3,1315.9L251.6,1317.4L252.9,1318.9L254.2,1320.4L255.6,1321.8L257.0,1323.3L258.4,1324.7L259.8,1326.1L261.3,1327.4L262.7,1328.8L264.2,1330.1L265.7,1331.4L267.3,1332.7L268.8,1334.0L270.3,1335.3L271.9,1336.5L273.5,1337.7L275.1,1338.9L276.7,1340.1L278.3,1341.3L279.9,1342.3L281.6,1343.4L283.3,1344.4L285.1,1345.3L286.9,1346.3L288.6,1347.2L290.4,1348.0L292.2,1348.9L294.1,1349.7L295.9,1350.5L297.7,1351.4L299.5,1352.2L301.4,1353.0L303.2,1353.8L305.0,1354.5L306.9,1355.2L308.8,1355.9L310.6,1356.6L312.5,1357.2L314.4,1357.8L316.4,1358.3L318.3,1358.8L320.2,1359.2L322.2,1359.6L324.1,1360.0L326.1,1360.3L328.1,1360.7L330.0,1361.0L332.0,1361.4L334.0,1361.7L336.0,1362.0L337.9,1362.3L339.9,1362.6L341.9,1362.9L343.9,1363.2L345.9,1363.4L347.9,1363.7L349.8,1363.9L351.8,1364.1L353.8,1364.3L355.8,1364.4L357.8,1364.6L359.8,1364.8L361.8,1364.9L363.8,1365.1L365.8,1365.2L367.8,1365.3L369.8,1365.5L371.8,1365.6L373.8,1365.7L375.8,1365.8L377.8,1365.9L379.8,1365.9L381.8,1366.0L383.8,1366.0L385.8,1366.1L387.8,1366.1L389.8,1366.1L391.8,1366.1L393.8,1366.1L395.8,1366.1L397.8,1366.1L399.8,1366.1L401.8,1366.1L403.8,1366.1L405.8,1366.1L407.8,1366.1L409.8,1366.1L411.8,1366.1L413.8,1366.1L415.8,1366.1L417.8,1366.1L419.8,1366.1L421.8,1366.1L423.8,1366.1L425.8,1366.1L427.8,1366.1L429.8,1366.1L431.8,1366.1L433.8,1366.1L435.8,1366.1L437.8,1366.1L439.8,1366.1L441.8,1366.1L443.8,1366.1L445.9,1366.1L447.9,1366.1L449.9,1366.1L451.9,1366.1L453.9,1366.1L455.9,1366.1L457.9,1366.1L459.9,1366.1L461.9,1366.1L463.9,1366.1L465.9,1366.1L467.9,1366.1L469.9,1366.1L471.9,1366.1L473.9,1366.1L475.9,1366.1L477.9,1366.1L479.9,1366.1L481.9,1366.1L483.9,1366.1L485.9,1366.1L487.9,1366.1L489.9,1366.1L491.9,1366.1L493.9,1366.0L495.9,1366.0L497.9,1366.0L499.9,1366.0L501.9,1366.0L503.9,1366.0L505.9,1366.0L507.9,1366.0L509.9,1366.0L511.9,1366.0L513.9,1366.0L515.9,1366.0L517.9,1366.0L519.9,1366.0L521.9,1365.9L523.9,1365.9L525.9,1365.9L527.9,1365.9L529.9,1365.9L531.9,1365.9L533.9,1365.9L535.9,1365.9L537.9,1365.9L539.9,1365.9L542.0,1365.9L544.0,1365.9L546.0,1365.9L548.0,1365.8L550.0,1365.8L552.0,1365.8L554.0,1365.8L556.0,1365.8L558.0,1365.8L560.0,1365.8L562.0,1365.8L564.0,1365.8L566.0,1365.8L568.0,1365.8L570.0,1365.8L572.0,1365.8L574.0,1365.8L576.0,1365.7L578.0,1365.7L580.0,1365.7L582.0,1365.7L584.0,1365.7L586.0,1365.7L588.0,1365.7" stroke="#82a84e"/>
<path d="M96.0,1076.8L98.0,1076.7L100.0,1076.5L102.0,1076.3L104.0,1076.2L106.0,1076.0L108.0,1075.9L110.0,1075.7L112.0,1075.6L114.0,1075.4L115.9,1075.2L117.9,1075.0L119.9,1074.8L121.9,1074.6L123.9,1074.4L125.9,1074.2L127.9,1074.0L129.9,1073.8L131.9,1073.6L133.8,1073.4L135.8,1073.3L137.8,1073.2L139.8,1073.2L141.7,1073.3L143.7,1073.4L145.6,1073.7L147.6,1074.0L149.4,1074.4L151.3,1075.0L153.1,1075.6L154.9,1076.4L156.7,1077.2L158.3,1078.2L160.0,1079.2L161.6,1080.4L163.1,1081.6L164.5,1082.9L165.9,1084.3L167.2,1085.7L168.5,1087.2L169.7,1088.8L170.8,1090.4L171.9,1092.0L172.9,1093.7L173.9,1095.5L174.8,1097.2L175.7,1099.0L176.5,1100.8L177.3,1102.7L178.0,1104.5L178.7,1106.4L179.3,1108.3L180.0,1110.2L180.5,1112.1L181.1,1114.0L181.6,1115.9L182.2,1117.8L182.7,1119.8L183.1,1121.7L183.6,1123.6L184.1,1125.6L184.6,1127.5L185.1,1129.5L185.6,1131.4L186.1,1133.4L186.5,1135.3L187.0,1137.2L187.5,1139.2L188.0,1141.1L188.5,1143.1L189.0,1145.0L189.4,1147.0L189.9,1148.9L190.4,1150.8L190.9,1152.8L191.4,1154.7L191.8,1156.7L192.3,1158.6L192.8,1160.6L193.2,1162.5L193.7,1164.5L194.1,1166.4L194.6,1168.4L195.0,1170.3L195.5,1172.3L195.9,1174.2L196.4,1176.2L196.8,1178.1L197.2,1180.1L197.7,1182.0L198.1,1184.0L198.6,1185.9L199.0,1187.9L199.4,1189.8L199.9,1191.8L200.3,1193.7L200.8,1195.7L201.2,1197.6L201.6,1199.6L202.1,1201.6L202.5,1203.5L202.9,1205.5L203.4,1207.4L203.8,1209.4L204.3,1211.3L204.7,1213.3L205.2,1215.2L205.6,1217.2L206.1,1219.1L206.5,1221.1L207.0,1223.0L207.5,1224.9L208.0,1226.9L208.5,1228.8L208.9,1230.8L209.4,1232.7L209.9,1234.7L210.4,1236.6L210.9,1238.5L211.5,1240.5L212.0,1242.4L212.6,1244.3L213.1,1246.2L213.7,1248.1L214.4,1250.0L215.0,1251.9L215.7,1253.8L216.4,1255.6L217.1,1257.5L217.8,1259.4L218.6,1261.2L219.3,1263.1L220.1,1265.0L220.8,1266.8L221.6,1268.7L222.3,1270.5L223.1,1272.3L223.9,1274.2L224.8,1276.0L225.6,1277.8L226.5,1279.6L227.4,1281.4L228.3,1283.2L229.2,1285.0L230.1,1286.7L231.1,1288.5L232.0,1290.2L233.0,1292.0L233.9,1293.8L234.9,1295.5L235.9,1297.3L236.8,1299.0L237.8,1300.7L238.9,1302.5L239.9,1304.2L240.9,1305.9L242.0,1307.6L243.1,1309.2L244.2,1310.9L245.3,1312.6L246.4,1314.2L247.6,1315.9L248.7,1317.5L249.9,1319.1L251.0,1320.8L252.2,1322.4L253.4,1324.0L254.6,1325.5L255.9,1327.1L257.2,1328.6L258.5,1330.1L259.9,1331.6L261.2,1333.0L262.6,1334.4L264.1,1335.8L265.5,1337.2L266.9,1338.6L268.4,1339.9L269.9,1341.3L271.4,1342.6L272.9,1344.0L274.4,1345.3L275.9,1346.6L277.4,1347.8L279.0,1349.0L280.6,1350.2L282.2,1351.4L283.8,1352.5L285.5,1353.6L287.2,1354.7L288.9,1355.7L290.6,1356.7L292.3,1357.7L294.1,1358.8L295.8,1359.8L297.5,1360.7L299.3,1361.7L301.0,1362.7L302.8,1363.7L304.5,1364.6L306.3,1365.6L308.1,1366.5L309.9,1367.3L311.7,1368.1L313.5,1368.9L315.3,1369.6L317.2,1370.3L319.1,1370.9L321.0,1371.5L322.9,1372.1L324.8,1372.7L326.7,1373.2L328.7,1373.8L330.6,1374.3L332.5,1374.8L334.5,1375.3L336.4,1375.8L338.3,1376.3L340.3,1376.8L342.2,1377.2L344.2,1377.6L346.1,1378.0L348.1,1378.4L350.1,1378.7L352.0,1379.0L354.0,1379.3L356.0,1379.6L358.0,1379.8L360.0,1380.1L362.0,1380.3L363.9,1380.6L365.9,1380.8L367.9,1381.0L369.9,1381.2L371.9,1381.4L373.9,1381.6L375.9,1381.8L377.9,1381.9L379.9,1382.0L381.9,1382.1L383.9,1382.2L385.9,1382.3L387.9,1382.3L389.9,1382.4L391.9,1382.4L393.9,1382.5L395.9,1382.5L397.9,1382.5L399.9,1382.6L401.9,1382.6L403.9,1382.6L405.9,1382.7L407.9,1382.7L409.9,1382.7L411.9,1382.8L413.9,1382.8L415.9,1382.8L417.9,1382.9L419.9,1382.9L421.9,1382.9L423.9,1383.0L425.9,1383.0L427.9,1383.0L429.9,1383.1L431.9,1383.1L433.9,1383.1L435.9,1383.2L437.9,1383.2L439.9,1383.2L441.9,1383.3L443.9,1383.3L445.9,1383.3L447.9,1383.4L449.9,1383.4L451.9,1383.4L453.9,1383.5L455.9,1383.5L457.9,1383.5L459.9,1383.6L461.9,1383.6L463.9,1383.6L465.9,1383.7L467.9,1383.7L469.9,1383.7L471.9,1383.8L473.9,1383.8L475.9,1383.8L477.9,1383.8L479.9,1383.8L481.9,1383.8L483.9,1383.9L485.9,1383.9L487.9,1383.9L489.9,1383.9L491.9,1383.9L493.9,1383.8L495.9,1383.8L497.9,1383.8L499.9,1383.8L501.9,1383.8L503.9,1383.8L505.9,1383.8L507.9,1383.8L509.9,1383.8L511.9,1383.8L513.9,1383.8L515.9,1383.8L517.9,1383.8L519.9,1383.8L522.0,1383.7L524.0,1383.7L526.0,1383.7L528.0,1383.7L530.0,1383.7L532.0,1383.7L534.0,1383.7L536.0,1383.7L538.0,1383.7L540.0,1383.7L542.0,1383.7L544.0,1383.7L546.0,1383.7L548.0,1383.6L550.0,1383.6L552.0,1383.6L554.0,1383.6L556.0,1383.6L558.0,1383.6L560.0,1383.6L562.0,1383.6L564.0,1383.6L566.0,1383.6L568.0,1383.6L570.0,1383.6L572.0,1383.6L574.0,1383.6L576.0,1383.5L578.0,1383.5L580.0,1383.5L582.0,1383.5L584.0,1383.5L586.0,1383.5L588.0,1383.5" stroke="#3e709b"/>
<path d="M96.0,1078.5L98.0,1078.4L100.0,1078.4L102.0,1078.3L104.0,1078.3L106.0,1078.2L108.0,1078.2L110.0,1078.2L112.0,1078.1L114.0,1078.1L116.0,1078.1L118.0,1078.1L120.0,1078.2L122.0,1078.2L124.0,1078.3L126.0,1078.4L128.0,1078.5L130.0,1078.6L131.9,1078.8L133.9,1079.0L135.8,1079.3L137.8,1079.7L139.7,1080.1L141.5,1080.7L143.4,1081.3L145.2,1082.1L146.9,1082.9L148.7,1083.8L150.3,1084.8L152.0,1085.9L153.6,1087.0L155.2,1088.2L156.7,1089.4L158.2,1090.7L159.7,1092.1L161.1,1093.5L162.5,1094.9L163.8,1096.4L165.1,1097.9L166.3,1099.4L167.5,1101.0L168.6,1102.6L169.7,1104.3L170.7,1106.0L171.6,1107.7L172.5,1109.5L173.3,1111.3L174.0,1113.1L174.7,1115.0L175.4,1116.9L176.0,1118.7L176.6,1120.6L177.2,1122.6L177.8,1124.5L178.4,1126.4L179.0,1128.3L179.6,1130.2L180.2,1132.1L180.8,1134.0L181.5,1135.9L182.1,1137.8L182.8,1139.7L183.4,1141.6L184.1,1143.5L184.7,1145.3L185.4,1147.2L186.1,1149.1L186.7,1151.0L187.4,1152.9L188.0,1154.8L188.6,1156.7L189.3,1158.6L189.9,1160.5L190.5,1162.4L191.1,1164.3L191.7,1166.2L192.3,1168.1L192.8,1170.1L193.4,1172.0L194.0,1173.9L194.6,1175.8L195.1,1177.7L195.7,1179.6L196.3,1181.6L196.9,1183.5L197.5,1185.4L198.1,1187.3L198.7,1189.2L199.3,1191.1L200.0,1193.0L200.6,1194.9L201.3,1196.8L201.9,1198.7L202.6,1200.6L203.2,1202.4L203.9,1204.3L204.6,1206.2L205.2,1208.1L205.9,1210.0L206.6,1211.9L207.3,1213.7L208.0,1215.6L208.8,1217.5L209.5,1219.3L210.3,1221.2L211.0,1223.0L211.8,1224.9L212.6,1226.7L213.4,1228.5L214.2,1230.3L215.1,1232.2L215.9,1234.0L216.7,1235.8L217.5,1237.6L218.4,1239.5L219.2,1241.3L220.1,1243.1L220.9,1244.9L221.8,1246.7L222.7,1248.5L223.6,1250.2L224.5,1252.0L225.5,1253.8L226.4,1255.6L227.4,1257.3L228.3,1259.1L229.3,1260.8L230.3,1262.6L231.2,1264.3L232.2,1266.1L233.2,1267.8L234.2,1269.6L235.2,1271.3L236.2,1273.0L237.3,1274.7L238.4,1276.4L239.5,1278.0L240.6,1279.7L241.8,1281.3L242.9,1282.9L244.2,1284.5L245.4,1286.1L246.6,1287.6L247.9,1289.2L249.1,1290.7L250.4,1292.3L251.7,1293.8L253.0,1295.3L254.4,1296.7L255.7,1298.2L257.1,1299.6L258.6,1301.0L260.0,1302.3L261.5,1303.6L263.1,1304.9L264.6,1306.2L266.2,1307.4L267.7,1308.7L269.3,1309.9L270.9,1311.1L272.5,1312.3L274.1,1313.4L275.8,1314.6L277.4,1315.6L279.1,1316.7L280.8,1317.7L282.6,1318.6L284.3,1319.5L286.1,1320.3L288.0,1321.1L289.8,1321.9L291.6,1322.6L293.5,1323.4L295.4,1324.1L297.2,1324.8L299.1,1325.5L301.0,1326.2L302.9,1326.8L304.8,1327.5L306.7,1328.1L308.6,1328.7L310.5,1329.2L312.4,1329.7L314.3,1330.2L316.3,1330.6L318.2,1331.0L320.2,1331.3L322.2,1331.6L324.1,1331.9L326.1,1332.2L328.1,1332.4L330.1,1332.7L332.1,1332.9L334.1,1333.2L336.0,1333.4L338.0,1333.6L340.0,1333.8L342.0,1334.0L344.0,1334.2L346.0,1334.4L348.0,1334.5L350.0,1334.7L352.0,1334.8L354.0,1334.9L356.0,1335.0L358.0,1335.1L360.0,1335.2L362.0,1335.3L364.0,1335.4L366.0,1335.5L368.0,1335.6L370.0,1335.7L372.0,1335.8L374.0,1335.8L376.0,1335.8L378.0,1335.9L380.0,1335.9L382.0,1335.9L384.0,1335.9L386.0,1335.8L388.0,1335.8L390.0,1335.8L392.0,1335.7L394.0,1335.7L396.0,1335.6L398.0,1335.6L400.0,1335.5L402.0,1335.5L404.0,1335.4L406.0,1335.4L408.0,1335.3L410.0,1335.2L412.0,1335.2L414.0,1335.1L416.0,1335.0L418.0,1334.9L420.0,1334.9L422.0,1334.8L424.0,1334.7L426.0,1334.6L428.0,1334.6L430.0,1334.5L432.0,1334.4L434.0,1334.3L436.0,1334.2L438.0,1334.2L440.0,1334.1L442.0,1334.0L444.0,1334.0L446.0,1333.9L448.0,1333.8L450.0,1333.8L452.0,1333.7L454.0,1333.7L456.0,1333.6L458.0,1333.5L460.0,1333.5L462.0,1333.4L464.0,1333.4L466.0,1333.3L468.0,1333.2L470.0,1333.2L472.0,1333.1L474.0,1333.1L476.0,1333.0L478.0,1332.9L480.0,1332.9L482.0,1332.8L484.0,1332.8L486.0,1332.7L488.0,1332.6L490.0,1332.6L492.0,1332.5L494.0,1332.4L496.0,1332.4L498.0,1332.3L500.0,1332.2L502.0,1332.1L504.0,1332.1L506.0,1332.0L508.0,1331.9L510.0,1331.9L512.0,1331.8L514.0,1331.7L516.0,1331.7L518.0,1331.6L520.0,1331.5L522.0,1331.5L524.0,1331.4L526.0,1331.3L528.0,1331.3L530.0,1331.2L532.0,1331.1L534.0,1331.1L536.0,1331.0L538.0,1330.9L540.0,1330.8L542.0,1330.8L544.0,1330.7L546.0,1330.6L548.0,1330.6L550.0,1330.5L552.0,1330.4L554.0,1330.4L556.0,1330.3L558.0,1330.2L560.0,1330.2L562.0,1330.1L564.0,1330.0L566.0,1330.0L568.0,1329.9L570.0,1329.8L572.0,1329.7L574.0,1329.7L576.0,1329.6L578.0,1329.5L580.0,1329.5L582.0,1329.4L584.0,1329.3L586.0,1329.3L588.0,1329.2" stroke="#dc62a1"/>
</g>
<rect x="97.0" y="1020.4" width="490.6" height="385.9" fill="none" stroke="#262626" stroke-width="2.2"/>
<path d="M260.5,1406.3v-10.0 M424.1,1406.3v-10.0 M178.8,1406.3v-5.0 M342.3,1406.3v-5.0 M505.8,1406.3v-5.0 M97.0,1329.1h10.0 M97.0,1251.9h10.0 M97.0,1174.8h10.0 M97.0,1097.6h10.0 M97.0,1367.7h5.0 M97.0,1290.5h5.0 M97.0,1213.3h5.0 M97.0,1136.2h5.0 M97.0,1059.0h5.0" stroke="#262626" stroke-width="2.2" fill="none"/>
<text x="97.0" y="1435.0" font-size="21.5" text-anchor="middle" fill="#222" color="#222" >300</text>
<text x="260.5" y="1435.0" font-size="21.5" text-anchor="middle" fill="#222" color="#222" >400</text>
<text x="424.1" y="1435.0" font-size="21.5" text-anchor="middle" fill="#222" color="#222" >500</text>
<text x="587.6" y="1435.0" font-size="21.5" text-anchor="middle" fill="#222" color="#222" >600</text>
<text x="84.5" y="1413.5" font-size="21.5" text-anchor="end" fill="#222" color="#222" >0.0</text>
<text x="84.5" y="1336.3" font-size="21.5" text-anchor="end" fill="#222" color="#222" >0.2</text>
<text x="84.5" y="1259.1" font-size="21.5" text-anchor="end" fill="#222" color="#222" >0.4</text>
<text x="84.5" y="1182.0" font-size="21.5" text-anchor="end" fill="#222" color="#222" >0.6</text>
<text x="84.5" y="1104.8" font-size="21.5" text-anchor="end" fill="#222" color="#222" >0.8</text>
<text x="84.5" y="1027.6" font-size="21.5" text-anchor="end" fill="#222" color="#222" >1.0</text>
<text x="343.0" y="1468.8" font-size="21.5" text-anchor="middle" fill="#222" color="#222">Wavelength / nm</text>
<text transform="translate(34.0,1192.6) rotate(-90)" x="0" y="0" font-size="22" text-anchor="middle" fill="#222" color="#222">Absorbance (a.u.)</text>
<text x="108.0" y="1052.0" font-size="26.5" text-anchor="start" fill="#222" color="#222" >(e)</text>
<rect x="375.8" y="1049.5" width="201.7" height="158.5" fill="#cccccc"/>
<rect x="362.8" y="1036.5" width="201.7" height="158.5" fill="#fff" stroke="#e6e6e6" stroke-width="1"/>
<line x1="365.8" y1="1051.7" x2="415.8" y2="1051.7" stroke="#722a36" stroke-width="2.6"/>
<text x="420.8" y="1058.5" font-size="21" text-anchor="start" fill="#222" color="#222" >Raw R-CeO<tspan font-size="14" dy="6">2</tspan><tspan dy="-6">​</tspan></text>
<line x1="365.8" y1="1083.0" x2="415.8" y2="1083.0" stroke="#ea9256" stroke-width="2.6"/>
<text x="420.8" y="1089.8" font-size="21" text-anchor="start" fill="#222" color="#222" >R-CeO<tspan font-size="14" dy="6">2</tspan><tspan dy="-6">​</tspan>-air</text>
<line x1="365.8" y1="1114.2" x2="415.8" y2="1114.2" stroke="#82a84e" stroke-width="2.6"/>
<text x="420.8" y="1121.0" font-size="21" text-anchor="start" fill="#222" color="#222" >R-CeO<tspan font-size="14" dy="6">2</tspan><tspan dy="-6">​</tspan>-30% H<tspan font-size="14" dy="6">2</tspan><tspan dy="-6">​</tspan></text>
<line x1="365.8" y1="1145.5" x2="415.8" y2="1145.5" stroke="#3e709b" stroke-width="2.6"/>
<text x="420.8" y="1152.2" font-size="21" text-anchor="start" fill="#222" color="#222" >R-CeO<tspan font-size="14" dy="6">2</tspan><tspan dy="-6">​</tspan>-60% H<tspan font-size="14" dy="6">2</tspan><tspan dy="-6">​</tspan></text>
<line x1="365.8" y1="1176.7" x2="415.8" y2="1176.7" stroke="#dc62a1" stroke-width="2.6"/>
<text x="420.8" y="1183.5" font-size="21" text-anchor="start" fill="#222" color="#222" >R-CeO<tspan font-size="14" dy="6">2</tspan><tspan dy="-6">​</tspan>-H<tspan font-size="14" dy="6">2</tspan><tspan dy="-6">​</tspan></text>
<clipPath id="clipf"><rect x="712.8" y="1021.5" width="488.7" height="384.8"/></clipPath>
<g clip-path="url(#clipf)" fill="none" stroke-width="2.4" stroke-linejoin="round" stroke-linecap="round">
<line x1="926.0" y1="1406.3" x2="958.0" y2="1345.0" stroke="#777" stroke-width="1.1" stroke-dasharray="1.6,1.6"/>
<line x1="959.0" y1="1406.3" x2="987.0" y2="1345.0" stroke="#777" stroke-width="1.1" stroke-dasharray="1.6,1.6"/>
<line x1="1020.0" y1="1406.3" x2="1042.0" y2="1352.0" stroke="#777" stroke-width="1.1" stroke-dasharray="1.6,1.6"/>
<line x1="1023.5" y1="1406.3" x2="1045.5" y2="1352.0" stroke="#777" stroke-width="1.1" stroke-dasharray="1.6,1.6"/>
<path d="M712.0,1401.5L714.0,1401.5L716.0,1401.5L718.0,1401.4L720.0,1401.4L722.0,1401.4L724.0,1401.4L726.0,1401.3L728.0,1401.3L730.0,1401.3L732.0,1401.3L734.0,1401.2L736.0,1401.2L738.0,1401.2L740.0,1401.2L742.0,1401.2L744.0,1401.1L746.0,1401.1L748.1,1401.1L750.1,1401.1L752.1,1401.0L754.1,1401.0L756.1,1401.0L758.1,1401.0L760.1,1401.0L762.1,1400.9L764.1,1400.9L766.1,1400.9L768.1,1400.9L770.1,1400.8L772.1,1400.8L774.1,1400.8L776.1,1400.8L778.1,1400.7L780.1,1400.7L782.1,1400.7L784.1,1400.7L786.1,1400.7L788.1,1400.6L790.1,1400.6L792.1,1400.6L794.1,1400.6L796.1,1400.5L798.1,1400.5L800.1,1400.5L802.1,1400.5L804.1,1400.4L806.1,1400.4L808.1,1400.4L810.1,1400.4L812.1,1400.3L814.1,1400.3L816.2,1400.3L818.2,1400.2L820.2,1400.2L822.2,1400.2L824.2,1400.2L826.2,1400.1L828.2,1400.1L830.2,1400.1L832.2,1400.0L834.2,1400.0L836.2,1400.0L838.2,1400.0L840.2,1399.9L842.2,1399.9L844.2,1399.9L846.2,1399.8L848.2,1399.8L850.2,1399.7L852.2,1399.7L854.2,1399.6L856.2,1399.5L858.2,1399.5L860.2,1399.4L862.2,1399.3L864.2,1399.2L866.2,1399.1L868.2,1399.0L870.2,1398.9L872.2,1398.8L874.2,1398.6L876.2,1398.4L878.2,1398.2L880.1,1397.9L882.1,1397.6L884.0,1397.2L886.0,1396.8L887.9,1396.4L889.9,1395.9L891.8,1395.4L893.7,1394.8L895.6,1394.2L897.5,1393.5L899.4,1392.8L901.2,1392.1L903.0,1391.3L904.9,1390.5L906.7,1389.7L908.4,1388.8L910.2,1387.9L911.9,1386.9L913.6,1385.9L915.3,1384.8L917.0,1383.7L918.6,1382.5L920.2,1381.3L921.8,1380.1L923.3,1378.9L924.9,1377.6L926.4,1376.3L927.9,1375.0L929.4,1373.7L930.8,1372.3L932.3,1370.9L933.7,1369.5L935.1,1368.1L936.4,1366.6L937.8,1365.2L939.2,1363.7L940.5,1362.2L941.8,1360.7L943.1,1359.2L944.4,1357.7L945.7,1356.1L947.0,1354.6L948.2,1353.0L949.5,1351.4L950.7,1349.8L951.9,1348.2L953.1,1346.6L954.2,1345.0L955.4,1343.4L956.6,1341.8L957.7,1340.1L958.9,1338.5L960.0,1336.8L961.1,1335.2L962.3,1333.5L963.4,1331.9L964.5,1330.2L965.5,1328.5L966.6,1326.8L967.6,1325.1L968.7,1323.4L969.7,1321.7L970.7,1319.9L971.7,1318.2L972.8,1316.5L973.8,1314.8L974.8,1313.0L975.8,1311.3L976.8,1309.6L977.8,1307.9L978.8,1306.1L979.9,1304.4L980.9,1302.7L981.9,1300.9L982.9,1299.2L983.9,1297.5L984.9,1295.8L985.9,1294.0L987.0,1292.3L988.0,1290.6L989.0,1288.9L990.0,1287.1L991.0,1285.4L992.0,1283.7L993.0,1281.9L994.0,1280.2L995.1,1278.5L996.1,1276.7L997.1,1275.0L998.0,1273.3L999.0,1271.5L1000.0,1269.8L1001.0,1268.0L1002.0,1266.3L1003.0,1264.5L1003.9,1262.8L1004.9,1261.0L1005.9,1259.3L1006.9,1257.5L1007.8,1255.8L1008.8,1254.0L1009.8,1252.3L1010.8,1250.6L1011.8,1248.8L1012.8,1247.1L1013.8,1245.4L1014.8,1243.6L1015.8,1241.9L1016.9,1240.2L1017.9,1238.5L1018.9,1236.8L1020.0,1235.1L1021.1,1233.4L1022.1,1231.7L1023.2,1230.0L1024.2,1228.3L1025.3,1226.6L1026.4,1224.9L1027.4,1223.2L1028.5,1221.5L1029.6,1219.8L1030.6,1218.1L1031.7,1216.4L1032.8,1214.7L1033.9,1213.0L1035.0,1211.4L1036.1,1209.7L1037.2,1208.0L1038.3,1206.4L1039.4,1204.7L1040.5,1203.0L1041.7,1201.4L1042.8,1199.7L1044.0,1198.1L1045.2,1196.5L1046.3,1194.9L1047.5,1193.3L1048.8,1191.7L1050.0,1190.1L1051.2,1188.5L1052.4,1186.9L1053.6,1185.3L1054.9,1183.8L1056.1,1182.2L1057.4,1180.6L1058.6,1179.1L1059.9,1177.5L1061.2,1176.0L1062.5,1174.5L1063.9,1173.0L1065.2,1171.6L1066.6,1170.2L1068.0,1168.8L1069.5,1167.4L1070.9,1166.0L1072.4,1164.7L1073.9,1163.3L1075.4,1162.0L1076.9,1160.6L1078.4,1159.3L1079.9,1158.0L1081.4,1156.7L1082.9,1155.4L1084.5,1154.1L1086.0,1152.8L1087.5,1151.5L1089.1,1150.2L1090.6,1148.9L1092.1,1147.7L1093.7,1146.4L1095.2,1145.1L1096.8,1143.9L1098.4,1142.6L1099.9,1141.4L1101.5,1140.2L1103.1,1138.9L1104.7,1137.7L1106.3,1136.5L1107.9,1135.3L1109.5,1134.2L1111.1,1133.0L1112.8,1131.8L1114.4,1130.6L1116.0,1129.4L1117.6,1128.3L1119.2,1127.1L1120.9,1125.9L1122.5,1124.7L1124.1,1123.5L1125.7,1122.4L1127.3,1121.2L1128.9,1120.0L1130.6,1118.8L1132.2,1117.6L1133.8,1116.4L1135.4,1115.2L1137.0,1114.1L1138.6,1112.9L1140.2,1111.7L1141.9,1110.6L1143.5,1109.4L1145.2,1108.3L1146.9,1107.2L1148.6,1106.2L1150.3,1105.2L1152.0,1104.2L1153.7,1103.2L1155.5,1102.3L1157.3,1101.3L1159.1,1100.4L1160.8,1099.5L1162.6,1098.6L1164.4,1097.7L1166.2,1096.8L1168.0,1095.9L1169.8,1095.0L1171.6,1094.1L1173.4,1093.2L1175.2,1092.3L1177.0,1091.4L1178.7,1090.5L1180.5,1089.6L1182.3,1088.7L1184.1,1087.8L1185.9,1086.9L1187.7,1086.0L1189.5,1085.1L1191.3,1084.2L1193.1,1083.3L1194.8,1082.4L1196.6,1081.5L1198.4,1080.6L1200.2,1079.7L1202.0,1078.8" stroke="#722a36"/>
<path d="M712.0,1403.5L714.0,1403.5L716.0,1403.5L718.0,1403.5L720.0,1403.5L722.0,1403.4L724.0,1403.4L726.0,1403.4L728.0,1403.4L730.0,1403.4L732.0,1403.4L734.0,1403.4L736.0,1403.4L738.0,1403.4L740.0,1403.4L742.0,1403.3L744.0,1403.3L746.0,1403.3L748.0,1403.3L750.0,1403.3L752.0,1403.3L754.0,1403.3L756.0,1403.3L758.0,1403.3L760.0,1403.3L762.0,1403.2L764.0,1403.2L766.0,1403.2L768.0,1403.2L770.0,1403.2L772.0,1403.2L774.0,1403.2L776.0,1403.2L778.0,1403.2L780.0,1403.2L782.1,1403.1L784.1,1403.1L786.1,1403.1L788.1,1403.1L790.1,1403.1L792.1,1403.1L794.1,1403.1L796.1,1403.1L798.1,1403.1L800.1,1403.1L802.1,1403.0L804.1,1403.0L806.1,1403.0L808.1,1403.0L810.1,1403.0L812.1,1403.0L814.1,1403.0L816.1,1403.0L818.1,1403.0L820.1,1403.0L822.1,1402.9L824.1,1402.9L826.1,1402.9L828.1,1402.9L830.1,1402.9L832.1,1402.9L834.1,1402.9L836.1,1402.9L838.1,1402.9L840.1,1402.8L842.1,1402.8L844.1,1402.8L846.1,1402.8L848.1,1402.7L850.1,1402.7L852.1,1402.6L854.1,1402.5L856.1,1402.5L858.1,1402.4L860.1,1402.3L862.1,1402.2L864.1,1402.1L866.1,1402.1L868.1,1402.0L870.1,1401.9L872.1,1401.8L874.1,1401.7L876.1,1401.6L878.1,1401.5L880.1,1401.4L882.1,1401.3L884.1,1401.2L886.1,1401.1L888.1,1401.0L890.1,1400.9L892.1,1400.8L894.1,1400.6L896.1,1400.5L898.1,1400.3L900.0,1400.1L902.0,1399.9L904.0,1399.6L906.0,1399.3L908.0,1399.0L909.9,1398.7L911.9,1398.4L913.9,1398.1L915.8,1397.7L917.8,1397.3L919.8,1397.0L921.7,1396.6L923.7,1396.1L925.6,1395.6L927.5,1395.1L929.4,1394.6L931.3,1393.9L933.1,1393.2L935.0,1392.5L936.8,1391.7L938.6,1390.9L940.4,1390.0L942.1,1389.0L943.8,1388.1L945.6,1387.0L947.2,1386.0L948.9,1384.9L950.5,1383.7L952.2,1382.6L953.7,1381.4L955.3,1380.2L956.9,1378.9L958.4,1377.6L959.9,1376.3L961.4,1375.0L962.8,1373.6L964.3,1372.2L965.7,1370.8L967.0,1369.4L968.4,1367.9L969.7,1366.4L971.0,1364.9L972.3,1363.4L973.6,1361.8L974.8,1360.3L976.1,1358.7L977.3,1357.2L978.6,1355.6L979.8,1354.0L981.0,1352.4L982.2,1350.8L983.3,1349.2L984.5,1347.5L985.6,1345.9L986.7,1344.2L987.9,1342.6L989.0,1340.9L990.1,1339.2L991.2,1337.6L992.3,1335.9L993.4,1334.2L994.4,1332.5L995.5,1330.8L996.5,1329.1L997.5,1327.4L998.5,1325.6L999.5,1323.9L1000.4,1322.1L1001.3,1320.4L1002.3,1318.6L1003.2,1316.8L1004.1,1315.0L1005.0,1313.2L1005.9,1311.4L1006.8,1309.7L1007.7,1307.9L1008.6,1306.1L1009.4,1304.3L1010.3,1302.5L1011.2,1300.7L1012.1,1298.9L1013.0,1297.1L1013.9,1295.3L1014.8,1293.5L1015.6,1291.7L1016.5,1289.9L1017.4,1288.1L1018.2,1286.3L1019.1,1284.5L1020.0,1282.7L1020.8,1280.9L1021.7,1279.1L1022.5,1277.3L1023.4,1275.5L1024.2,1273.6L1025.1,1271.8L1026.0,1270.0L1026.8,1268.2L1027.7,1266.4L1028.6,1264.6L1029.5,1262.8L1030.4,1261.1L1031.3,1259.3L1032.2,1257.5L1033.1,1255.7L1034.0,1253.9L1034.9,1252.1L1035.9,1250.4L1036.8,1248.6L1037.7,1246.8L1038.7,1245.1L1039.6,1243.3L1040.5,1241.5L1041.5,1239.7L1042.4,1238.0L1043.3,1236.2L1044.3,1234.4L1045.2,1232.7L1046.1,1230.9L1047.1,1229.1L1048.0,1227.4L1048.9,1225.6L1049.9,1223.8L1050.8,1222.0L1051.7,1220.3L1052.6,1218.5L1053.6,1216.7L1054.5,1215.0L1055.4,1213.2L1056.4,1211.4L1057.3,1209.7L1058.3,1207.9L1059.2,1206.1L1060.2,1204.4L1061.2,1202.6L1062.2,1200.9L1063.2,1199.2L1064.2,1197.5L1065.3,1195.8L1066.4,1194.1L1067.5,1192.5L1068.6,1190.8L1069.8,1189.2L1070.9,1187.5L1072.1,1185.9L1073.2,1184.3L1074.4,1182.7L1075.6,1181.1L1076.8,1179.5L1078.1,1177.9L1079.3,1176.4L1080.6,1174.9L1082.0,1173.4L1083.3,1171.9L1084.7,1170.5L1086.1,1169.1L1087.5,1167.7L1088.9,1166.3L1090.4,1164.9L1091.8,1163.5L1093.3,1162.1L1094.8,1160.8L1096.2,1159.4L1097.7,1158.0L1099.1,1156.7L1100.6,1155.3L1102.1,1153.9L1103.5,1152.6L1105.0,1151.2L1106.5,1149.9L1108.0,1148.5L1109.5,1147.2L1110.9,1145.8L1112.4,1144.5L1113.9,1143.2L1115.4,1141.8L1116.9,1140.5L1118.4,1139.1L1119.9,1137.8L1121.4,1136.5L1122.9,1135.2L1124.4,1133.9L1125.9,1132.6L1127.5,1131.3L1129.0,1130.1L1130.6,1128.8L1132.2,1127.6L1133.8,1126.5L1135.4,1125.3L1137.1,1124.2L1138.7,1123.1L1140.4,1122.0L1142.1,1120.9L1143.8,1119.8L1145.4,1118.7L1147.1,1117.7L1148.8,1116.6L1150.5,1115.6L1152.2,1114.5L1154.0,1113.5L1155.7,1112.5L1157.4,1111.5L1159.2,1110.5L1160.9,1109.5L1162.7,1108.5L1164.4,1107.6L1166.2,1106.6L1167.9,1105.7L1169.7,1104.7L1171.5,1103.8L1173.2,1102.9L1175.0,1101.9L1176.8,1101.0L1178.6,1100.1L1180.4,1099.2L1182.1,1098.3L1183.9,1097.4L1185.7,1096.5L1187.5,1095.7L1189.3,1094.8L1191.1,1093.9L1193.0,1093.1L1194.8,1092.2L1196.6,1091.4L1198.4,1090.5L1200.2,1089.7L1202.0,1088.8" stroke="#ea9256"/>
<path d="M712.0,1405.3L714.0,1405.3L716.0,1405.3L718.0,1405.3L720.0,1405.3L722.0,1405.3L724.0,1405.3L726.0,1405.3L728.0,1405.3L730.0,1405.3L732.0,1405.3L734.0,1405.3L736.0,1405.3L738.0,1405.3L740.0,1405.2L742.0,1405.2L744.0,1405.2L746.0,1405.2L748.0,1405.2L750.0,1405.2L752.0,1405.2L754.0,1405.2L756.0,1405.2L758.0,1405.2L760.0,1405.2L762.0,1405.2L764.0,1405.2L766.0,1405.2L768.0,1405.2L770.0,1405.2L772.0,1405.2L774.0,1405.2L776.0,1405.2L778.0,1405.2L780.0,1405.2L782.0,1405.2L784.0,1405.2L786.0,1405.2L788.0,1405.2L790.0,1405.2L792.0,1405.2L794.0,1405.2L796.0,1405.1L798.0,1405.1L800.0,1405.1L802.0,1405.1L804.0,1405.1L806.0,1405.1L808.0,1405.1L810.0,1405.1L812.0,1405.1L814.0,1405.1L816.0,1405.1L818.0,1405.1L820.0,1405.1L822.0,1405.1L824.0,1405.1L826.0,1405.1L828.0,1405.1L830.0,1405.1L832.0,1405.1L834.0,1405.1L836.0,1405.1L838.0,1405.1L840.0,1405.1L842.0,1405.1L844.0,1405.1L846.0,1405.1L848.0,1405.1L850.0,1405.1L852.0,1405.0L854.0,1405.0L856.0,1405.0L858.0,1405.0L860.0,1405.0L862.0,1405.0L864.0,1405.0L866.0,1405.0L868.0,1405.0L870.0,1405.0L872.0,1405.0L874.0,1405.0L876.0,1405.0L878.0,1405.0L880.0,1405.0L882.0,1404.9L884.0,1404.9L886.0,1404.9L888.0,1404.9L890.0,1404.8L892.0,1404.8L894.0,1404.8L896.0,1404.7L898.0,1404.7L900.0,1404.7L902.0,1404.7L904.0,1404.6L906.0,1404.6L908.0,1404.6L910.0,1404.5L912.0,1404.5L914.0,1404.5L916.0,1404.4L918.0,1404.4L920.0,1404.3L922.0,1404.3L924.0,1404.2L926.0,1404.1L928.0,1404.0L930.0,1403.9L932.0,1403.8L934.0,1403.6L936.0,1403.5L937.9,1403.3L939.9,1403.1L941.9,1402.9L943.9,1402.7L945.9,1402.5L947.9,1402.3L949.9,1402.0L951.9,1401.8L953.9,1401.6L955.8,1401.4L957.8,1401.1L959.8,1400.8L961.8,1400.6L963.8,1400.3L965.7,1400.0L967.7,1399.7L969.7,1399.3L971.6,1398.9L973.6,1398.6L975.6,1398.2L977.5,1397.7L979.4,1397.3L981.4,1396.8L983.3,1396.3L985.2,1395.7L987.2,1395.2L989.1,1394.6L991.0,1394.0L992.9,1393.4L994.8,1392.8L996.6,1392.1L998.5,1391.4L1000.4,1390.7L1002.2,1389.9L1004.0,1389.1L1005.8,1388.2L1007.5,1387.3L1009.2,1386.3L1010.9,1385.3L1012.6,1384.2L1014.2,1383.1L1015.9,1382.0L1017.5,1380.8L1019.0,1379.6L1020.5,1378.3L1022.0,1377.0L1023.5,1375.7L1024.9,1374.3L1026.2,1372.8L1027.6,1371.4L1028.9,1369.9L1030.2,1368.3L1031.4,1366.8L1032.7,1365.2L1033.9,1363.6L1035.1,1362.0L1036.3,1360.4L1037.4,1358.8L1038.6,1357.2L1039.7,1355.5L1040.8,1353.8L1041.9,1352.2L1042.9,1350.5L1043.9,1348.8L1044.9,1347.0L1045.9,1345.3L1046.8,1343.5L1047.7,1341.8L1048.6,1340.0L1049.4,1338.1L1050.2,1336.3L1051.0,1334.5L1051.8,1332.6L1052.5,1330.8L1053.3,1328.9L1054.0,1327.1L1054.7,1325.2L1055.4,1323.3L1056.1,1321.5L1056.8,1319.6L1057.5,1317.7L1058.1,1315.8L1058.8,1313.9L1059.4,1312.0L1060.1,1310.1L1060.8,1308.3L1061.4,1306.4L1062.0,1304.5L1062.7,1302.6L1063.3,1300.7L1064.0,1298.8L1064.6,1296.9L1065.2,1295.0L1065.8,1293.1L1066.5,1291.2L1067.1,1289.3L1067.7,1287.4L1068.3,1285.5L1068.9,1283.6L1069.5,1281.7L1070.1,1279.8L1070.7,1277.8L1071.3,1275.9L1071.9,1274.0L1072.5,1272.1L1073.0,1270.2L1073.6,1268.3L1074.2,1266.4L1074.7,1264.4L1075.3,1262.5L1075.8,1260.6L1076.4,1258.7L1076.9,1256.7L1077.4,1254.8L1078.0,1252.9L1078.5,1251.0L1079.1,1249.0L1079.6,1247.1L1080.2,1245.2L1080.7,1243.3L1081.3,1241.4L1081.9,1239.5L1082.5,1237.6L1083.2,1235.7L1083.9,1233.8L1084.6,1231.9L1085.3,1230.1L1086.1,1228.3L1086.9,1226.4L1087.7,1224.6L1088.5,1222.8L1089.3,1220.9L1090.2,1219.1L1091.0,1217.3L1091.9,1215.5L1092.8,1213.7L1093.7,1212.0L1094.6,1210.2L1095.6,1208.5L1096.6,1206.7L1097.6,1205.0L1098.6,1203.3L1099.7,1201.6L1100.8,1199.9L1101.9,1198.3L1103.0,1196.6L1104.1,1195.0L1105.3,1193.4L1106.4,1191.7L1107.6,1190.1L1108.8,1188.5L1110.1,1187.0L1111.3,1185.4L1112.6,1183.9L1113.9,1182.4L1115.3,1181.0L1116.7,1179.5L1118.1,1178.1L1119.5,1176.7L1120.9,1175.4L1122.4,1174.0L1123.9,1172.7L1125.5,1171.5L1127.0,1170.3L1128.6,1169.1L1130.3,1167.9L1131.9,1166.8L1133.6,1165.8L1135.3,1164.7L1137.0,1163.7L1138.7,1162.7L1140.4,1161.7L1142.2,1160.7L1143.9,1159.7L1145.7,1158.8L1147.5,1157.9L1149.2,1157.0L1151.0,1156.1L1152.8,1155.2L1154.6,1154.3L1156.4,1153.5L1158.3,1152.7L1160.1,1152.0L1162.0,1151.2L1163.8,1150.6L1165.7,1149.9L1167.6,1149.3L1169.5,1148.7L1171.4,1148.1L1173.3,1147.6L1175.3,1147.0L1177.2,1146.4L1179.1,1145.8L1181.0,1145.3L1182.9,1144.7L1184.8,1144.1L1186.7,1143.5L1188.6,1142.9L1190.6,1142.3L1192.5,1141.7L1194.4,1141.1L1196.3,1140.5L1198.2,1139.9L1200.1,1139.3L1202.0,1138.7" stroke="#82a84e"/>
<path d="M712.0,1405.3L714.0,1405.3L716.0,1405.3L718.0,1405.3L720.0,1405.3L722.0,1405.3L724.0,1405.3L726.0,1405.3L728.0,1405.3L730.0,1405.3L732.0,1405.3L734.0,1405.3L736.0,1405.3L738.0,1405.3L740.0,1405.2L742.0,1405.2L744.0,1405.2L746.0,1405.2L748.0,1405.2L750.0,1405.2L752.0,1405.2L754.0,1405.2L756.0,1405.2L758.0,1405.2L760.0,1405.2L762.0,1405.2L764.0,1405.2L766.0,1405.2L768.0,1405.2L770.0,1405.2L772.0,1405.2L774.0,1405.2L776.0,1405.2L778.0,1405.2L780.0,1405.2L782.0,1405.2L784.0,1405.2L786.0,1405.2L788.0,1405.2L790.0,1405.2L792.0,1405.2L794.0,1405.2L796.0,1405.1L798.0,1405.1L800.0,1405.1L802.0,1405.1L804.0,1405.1L806.0,1405.1L808.0,1405.1L810.0,1405.1L812.0,1405.1L814.0,1405.1L816.0,1405.1L818.0,1405.1L820.0,1405.1L822.0,1405.1L824.0,1405.1L826.0,1405.1L828.0,1405.1L830.0,1405.1L832.0,1405.1L834.0,1405.1L836.0,1405.1L838.0,1405.1L840.0,1405.1L842.0,1405.1L844.0,1405.1L846.0,1405.1L848.0,1405.1L850.0,1405.1L852.0,1405.0L854.0,1405.0L856.0,1405.0L858.0,1405.0L860.0,1405.0L862.0,1405.0L864.0,1405.0L866.0,1405.0L868.0,1405.0L870.0,1405.0L872.0,1405.0L874.0,1405.0L876.0,1405.0L878.0,1405.0L880.0,1404.9L882.0,1404.9L884.0,1404.9L886.0,1404.8L888.0,1404.8L890.0,1404.8L892.0,1404.7L894.0,1404.7L896.0,1404.6L898.0,1404.6L900.0,1404.5L902.0,1404.5L904.0,1404.4L906.0,1404.4L908.0,1404.3L910.0,1404.3L912.0,1404.2L914.0,1404.2L916.0,1404.1L918.0,1404.1L920.0,1404.0L922.0,1403.9L924.0,1403.9L926.0,1403.8L928.0,1403.7L930.0,1403.5L932.0,1403.4L934.0,1403.2L936.0,1403.1L938.0,1402.9L940.0,1402.7L942.0,1402.5L944.0,1402.3L946.0,1402.0L947.9,1401.8L949.9,1401.6L951.9,1401.4L953.9,1401.1L955.9,1400.9L957.9,1400.6L959.8,1400.3L961.8,1400.1L963.8,1399.8L965.8,1399.5L967.7,1399.1L969.7,1398.8L971.7,1398.4L973.6,1398.0L975.6,1397.6L977.5,1397.2L979.5,1396.7L981.4,1396.2L983.4,1395.7L985.3,1395.2L987.2,1394.6L989.1,1394.1L991.0,1393.5L992.9,1392.9L994.8,1392.3L996.7,1391.6L998.6,1391.0L1000.4,1390.2L1002.3,1389.5L1004.0,1388.6L1005.8,1387.8L1007.6,1386.8L1009.3,1385.8L1011.0,1384.8L1012.7,1383.7L1014.3,1382.6L1015.9,1381.5L1017.5,1380.3L1019.1,1379.1L1020.6,1377.8L1022.1,1376.5L1023.5,1375.1L1024.9,1373.7L1026.3,1372.3L1027.6,1370.8L1028.9,1369.3L1030.2,1367.8L1031.5,1366.2L1032.7,1364.7L1033.9,1363.1L1035.1,1361.5L1036.3,1359.9L1037.4,1358.2L1038.6,1356.6L1039.7,1354.9L1040.8,1353.3L1041.9,1351.6L1042.9,1349.9L1043.9,1348.2L1044.9,1346.5L1045.9,1344.7L1046.8,1343.0L1047.7,1341.2L1048.6,1339.4L1049.4,1337.6L1050.2,1335.7L1051.0,1333.9L1051.7,1332.1L1052.5,1330.2L1053.2,1328.3L1054.0,1326.5L1054.7,1324.6L1055.4,1322.7L1056.1,1320.9L1056.8,1319.0L1057.4,1317.1L1058.1,1315.2L1058.8,1313.3L1059.4,1311.4L1060.1,1309.6L1060.7,1307.7L1061.4,1305.8L1062.0,1303.9L1062.6,1302.0L1063.2,1300.1L1063.8,1298.2L1064.4,1296.2L1064.9,1294.3L1065.5,1292.4L1066.0,1290.5L1066.5,1288.5L1067.0,1286.6L1067.5,1284.7L1068.0,1282.7L1068.5,1280.8L1069.0,1278.9L1069.5,1276.9L1070.0,1275.0L1070.5,1273.0L1071.0,1271.1L1071.5,1269.2L1072.0,1267.2L1072.5,1265.3L1073.0,1263.3L1073.5,1261.4L1074.0,1259.5L1074.5,1257.5L1075.0,1255.6L1075.5,1253.7L1076.0,1251.7L1076.6,1249.8L1077.1,1247.9L1077.6,1246.0L1078.2,1244.0L1078.7,1242.1L1079.3,1240.2L1079.9,1238.3L1080.5,1236.4L1081.1,1234.5L1081.8,1232.6L1082.4,1230.7L1083.1,1228.9L1083.9,1227.0L1084.6,1225.1L1085.3,1223.3L1086.0,1221.4L1086.8,1219.5L1087.5,1217.7L1088.3,1215.8L1089.1,1214.0L1089.9,1212.2L1090.6,1210.3L1091.4,1208.5L1092.2,1206.6L1093.0,1204.8L1093.9,1203.0L1094.7,1201.2L1095.5,1199.3L1096.3,1197.5L1097.2,1195.7L1098.0,1193.9L1098.9,1192.1L1099.8,1190.3L1100.6,1188.5L1101.5,1186.7L1102.4,1184.9L1103.3,1183.1L1104.2,1181.3L1105.1,1179.6L1106.1,1177.8L1107.0,1176.0L1108.0,1174.3L1109.0,1172.6L1110.0,1170.8L1111.0,1169.1L1112.1,1167.5L1113.2,1165.8L1114.3,1164.2L1115.5,1162.6L1116.8,1161.1L1118.0,1159.5L1119.3,1158.0L1120.6,1156.5L1121.9,1155.0L1123.3,1153.5L1124.6,1152.1L1126.0,1150.6L1127.4,1149.2L1128.8,1147.8L1130.2,1146.4L1131.7,1145.0L1133.1,1143.6L1134.6,1142.3L1136.2,1141.0L1137.7,1139.8L1139.3,1138.5L1140.8,1137.3L1142.4,1136.1L1144.0,1134.9L1145.7,1133.8L1147.3,1132.7L1149.0,1131.6L1150.7,1130.5L1152.4,1129.5L1154.1,1128.5L1155.9,1127.5L1157.6,1126.6L1159.4,1125.7L1161.2,1124.7L1163.0,1123.8L1164.8,1123.0L1166.6,1122.1L1168.4,1121.3L1170.2,1120.4L1172.0,1119.6L1173.8,1118.7L1175.6,1117.9L1177.5,1117.1L1179.3,1116.3L1181.1,1115.4L1182.9,1114.6L1184.7,1113.8L1186.6,1112.9L1188.4,1112.1L1190.2,1111.2L1192.0,1110.4L1193.8,1109.6L1195.6,1108.7L1197.5,1107.9L1199.3,1107.1L1201.1,1106.2L1202.0,1105.8" stroke="#3e709b"/>
<path d="M712.0,1401.3L714.0,1401.3L716.0,1401.2L718.0,1401.2L720.0,1401.2L722.0,1401.2L724.0,1401.1L726.0,1401.1L728.0,1401.1L730.0,1401.1L732.0,1401.0L734.0,1401.0L736.0,1401.0L738.0,1401.0L740.0,1400.9L742.0,1400.9L744.0,1400.9L746.0,1400.9L748.1,1400.8L750.1,1400.8L752.1,1400.8L754.1,1400.8L756.1,1400.7L758.1,1400.7L760.1,1400.7L762.1,1400.7L764.1,1400.6L766.1,1400.6L768.1,1400.6L770.1,1400.6L772.1,1400.5L774.1,1400.5L776.1,1400.5L778.1,1400.5L780.1,1400.4L782.1,1400.4L784.1,1400.4L786.1,1400.4L788.1,1400.3L790.1,1400.3L792.1,1400.3L794.1,1400.3L796.1,1400.2L798.1,1400.2L800.1,1400.2L802.1,1400.1L804.1,1400.1L806.1,1400.1L808.1,1400.0L810.1,1400.0L812.1,1400.0L814.1,1399.9L816.1,1399.9L818.1,1399.8L820.2,1399.8L822.2,1399.8L824.2,1399.7L826.2,1399.7L828.2,1399.6L830.2,1399.6L832.2,1399.6L834.2,1399.5L836.2,1399.5L838.2,1399.4L840.2,1399.4L842.2,1399.4L844.2,1399.3L846.2,1399.3L848.2,1399.2L850.2,1399.2L852.2,1399.2L854.2,1399.1L856.2,1399.1L858.2,1399.0L860.2,1399.0L862.2,1399.0L864.2,1398.9L866.2,1398.9L868.2,1398.8L870.2,1398.8L872.2,1398.7L874.2,1398.7L876.2,1398.7L878.2,1398.6L880.2,1398.6L882.2,1398.5L884.2,1398.4L886.2,1398.4L888.2,1398.3L890.2,1398.2L892.2,1398.2L894.2,1398.1L896.2,1398.1L898.2,1398.0L900.2,1397.9L902.3,1397.8L904.3,1397.8L906.3,1397.7L908.3,1397.6L910.3,1397.6L912.3,1397.5L914.3,1397.4L916.3,1397.4L918.3,1397.3L920.3,1397.2L922.3,1397.1L924.3,1397.0L926.3,1396.9L928.3,1396.8L930.3,1396.7L932.3,1396.6L934.3,1396.4L936.3,1396.2L938.2,1396.1L940.2,1395.9L942.2,1395.7L944.2,1395.5L946.2,1395.3L948.2,1395.1L950.2,1394.9L952.2,1394.7L954.2,1394.4L956.2,1394.2L958.2,1393.9L960.1,1393.7L962.1,1393.4L964.1,1393.0L966.0,1392.7L968.0,1392.3L970.0,1391.9L971.9,1391.4L973.8,1390.9L975.8,1390.4L977.7,1389.9L979.6,1389.4L981.6,1388.8L983.5,1388.2L985.4,1387.6L987.3,1387.0L989.2,1386.3L991.0,1385.7L992.9,1385.0L994.8,1384.3L996.7,1383.6L998.5,1382.8L1000.3,1382.0L1002.2,1381.2L1003.9,1380.4L1005.7,1379.4L1007.5,1378.5L1009.2,1377.5L1010.9,1376.4L1012.5,1375.4L1014.2,1374.3L1015.8,1373.1L1017.4,1371.9L1019.0,1370.7L1020.5,1369.5L1022.0,1368.2L1023.5,1366.8L1024.9,1365.5L1026.3,1364.0L1027.7,1362.6L1029.0,1361.1L1030.4,1359.6L1031.7,1358.1L1033.0,1356.6L1034.2,1355.0L1035.5,1353.5L1036.7,1351.9L1037.9,1350.3L1039.1,1348.7L1040.3,1347.1L1041.5,1345.5L1042.6,1343.8L1043.7,1342.1L1044.8,1340.5L1045.8,1338.8L1046.9,1337.1L1047.9,1335.3L1048.8,1333.6L1049.8,1331.8L1050.8,1330.1L1051.7,1328.3L1052.6,1326.5L1053.5,1324.7L1054.4,1322.9L1055.2,1321.1L1056.1,1319.3L1056.9,1317.5L1057.7,1315.7L1058.5,1313.8L1059.3,1312.0L1060.1,1310.2L1060.9,1308.3L1061.6,1306.5L1062.4,1304.6L1063.1,1302.7L1063.9,1300.9L1064.6,1299.0L1065.3,1297.2L1066.1,1295.3L1066.8,1293.4L1067.5,1291.6L1068.2,1289.7L1068.9,1287.8L1069.6,1285.9L1070.3,1284.1L1071.0,1282.2L1071.7,1280.3L1072.4,1278.4L1073.1,1276.5L1073.7,1274.6L1074.4,1272.8L1075.1,1270.9L1075.7,1269.0L1076.4,1267.1L1077.0,1265.2L1077.6,1263.3L1078.3,1261.4L1078.9,1259.5L1079.5,1257.6L1080.1,1255.6L1080.7,1253.7L1081.3,1251.8L1081.9,1249.9L1082.5,1248.0L1083.2,1246.1L1083.8,1244.2L1084.4,1242.3L1085.1,1240.4L1085.8,1238.6L1086.5,1236.7L1087.2,1234.8L1088.0,1233.0L1088.7,1231.1L1089.5,1229.3L1090.3,1227.5L1091.2,1225.6L1092.0,1223.8L1092.8,1222.0L1093.7,1220.2L1094.5,1218.4L1095.4,1216.6L1096.2,1214.7L1097.1,1212.9L1098.0,1211.1L1098.9,1209.4L1099.8,1207.6L1100.7,1205.8L1101.7,1204.0L1102.6,1202.3L1103.6,1200.5L1104.6,1198.8L1105.6,1197.1L1106.6,1195.4L1107.7,1193.6L1108.7,1191.9L1109.7,1190.2L1110.8,1188.5L1111.8,1186.8L1112.9,1185.1L1114.0,1183.4L1115.1,1181.7L1116.2,1180.1L1117.3,1178.4L1118.5,1176.8L1119.6,1175.2L1120.8,1173.6L1122.0,1171.9L1123.2,1170.3L1124.4,1168.7L1125.6,1167.1L1126.8,1165.6L1128.1,1164.0L1129.3,1162.4L1130.6,1160.9L1131.8,1159.3L1133.1,1157.8L1134.4,1156.3L1135.7,1154.7L1137.0,1153.2L1138.4,1151.8L1139.7,1150.3L1141.1,1148.8L1142.5,1147.4L1143.9,1146.1L1145.4,1144.7L1146.9,1143.4L1148.4,1142.2L1150.0,1141.0L1151.6,1139.8L1153.3,1138.6L1154.9,1137.5L1156.6,1136.5L1158.3,1135.4L1160.0,1134.3L1161.7,1133.3L1163.4,1132.3L1165.2,1131.3L1166.9,1130.3L1168.6,1129.3L1170.4,1128.3L1172.1,1127.4L1173.9,1126.4L1175.6,1125.4L1177.4,1124.4L1179.1,1123.5L1180.9,1122.5L1182.7,1121.5L1184.4,1120.6L1186.2,1119.6L1187.9,1118.7L1189.7,1117.7L1191.4,1116.7L1193.2,1115.8L1195.0,1114.8L1196.7,1113.9L1198.5,1112.9L1200.2,1112.0L1202.0,1111.0" stroke="#dc62a1"/>
</g>
<rect x="712.8" y="1021.5" width="488.7" height="384.8" fill="none" stroke="#262626" stroke-width="2.2"/>
<path d="M835.0,1406.3v-10.0 M957.1,1406.3v-10.0 M1079.3,1406.3v-10.0 M773.9,1406.3v-5.0 M896.1,1406.3v-5.0 M1018.2,1406.3v-5.0 M1140.4,1406.3v-5.0 M712.8,1278.0h10.0 M712.8,1149.8h10.0 M712.8,1342.2h5.0 M712.8,1213.9h5.0 M712.8,1085.6h5.0" stroke="#262626" stroke-width="2.2" fill="none"/>
<text x="712.8" y="1435.5" font-size="21.5" text-anchor="middle" fill="#222" color="#222" >2.0</text>
<text x="835.0" y="1435.5" font-size="21.5" text-anchor="middle" fill="#222" color="#222" >2.5</text>
<text x="957.1" y="1435.5" font-size="21.5" text-anchor="middle" fill="#222" color="#222" >3.0</text>
<text x="1079.3" y="1435.5" font-size="21.5" text-anchor="middle" fill="#222" color="#222" >3.5</text>
<text x="1201.5" y="1435.5" font-size="21.5" text-anchor="middle" fill="#222" color="#222" >4.0</text>
<text x="699.5" y="1413.5" font-size="21.5" text-anchor="end" fill="#222" color="#222" >0</text>
<text x="699.5" y="1285.2" font-size="21.5" text-anchor="end" fill="#222" color="#222" >5</text>
<text x="699.5" y="1157.0" font-size="21.5" text-anchor="end" fill="#222" color="#222" >10</text>
<text x="699.5" y="1028.7" font-size="21.5" text-anchor="end" fill="#222" color="#222" >15</text>
<text x="957.0" y="1472.0" font-size="21.5" text-anchor="middle" fill="#222" color="#222">h<tspan font-style="italic">ν</tspan> / eV</text>
<text transform="translate(669.0,1214.5) rotate(-90)" x="0" y="0" font-size="22.3" text-anchor="middle" fill="#222" color="#222">(<tspan font-style="italic">αhν</tspan>)<tspan font-size="12" dy="-9">2</tspan><tspan dy="9"> / (cm</tspan><tspan font-size="12" dy="-9">-1</tspan><tspan dy="9">·eV)</tspan><tspan font-size="12" dy="-9">2</tspan></text>
<text x="1189.5" y="1051.0" font-size="26.5" text-anchor="end" fill="#222" color="#222" >(f)</text>
<rect x="754.1" y="1053.1" width="199.5" height="157.7" fill="#cccccc"/>
<rect x="741.1" y="1040.1" width="199.5" height="157.7" fill="#fff" stroke="#e6e6e6" stroke-width="1"/>
<line x1="744.1" y1="1055.3" x2="794.1" y2="1055.3" stroke="#722a36" stroke-width="2.6"/>
<text x="799.1" y="1062.1" font-size="21" text-anchor="start" fill="#222" color="#222" >Raw R-CeO<tspan font-size="14" dy="6">2</tspan><tspan dy="-6">​</tspan></text>
<line x1="744.1" y1="1086.5" x2="794.1" y2="1086.5" stroke="#ea9256" stroke-width="2.6"/>
<text x="799.1" y="1093.3" font-size="21" text-anchor="start" fill="#222" color="#222" >R-CeO<tspan font-size="14" dy="6">2</tspan><tspan dy="-6">​</tspan>-air</text>
<line x1="744.1" y1="1117.8" x2="794.1" y2="1117.8" stroke="#82a84e" stroke-width="2.6"/>
<text x="799.1" y="1124.6" font-size="21" text-anchor="start" fill="#222" color="#222" >R-CeO<tspan font-size="14" dy="6">2</tspan><tspan dy="-6">​</tspan>-30% H<tspan font-size="14" dy="6">2</tspan><tspan dy="-6">​</tspan></text>
<line x1="744.1" y1="1149.0" x2="794.1" y2="1149.0" stroke="#3e709b" stroke-width="2.6"/>
<text x="799.1" y="1155.8" font-size="21" text-anchor="start" fill="#222" color="#222" >R-CeO<tspan font-size="14" dy="6">2</tspan><tspan dy="-6">​</tspan>-60% H<tspan font-size="14" dy="6">2</tspan><tspan dy="-6">​</tspan></text>
<line x1="744.1" y1="1180.3" x2="794.1" y2="1180.3" stroke="#dc62a1" stroke-width="2.6"/>
<text x="799.1" y="1187.1" font-size="21" text-anchor="start" fill="#222" color="#222" >R-CeO<tspan font-size="14" dy="6">2</tspan><tspan dy="-6">​</tspan>-H<tspan font-size="14" dy="6">2</tspan><tspan dy="-6">​</tspan></text>
</svg></body></html>
